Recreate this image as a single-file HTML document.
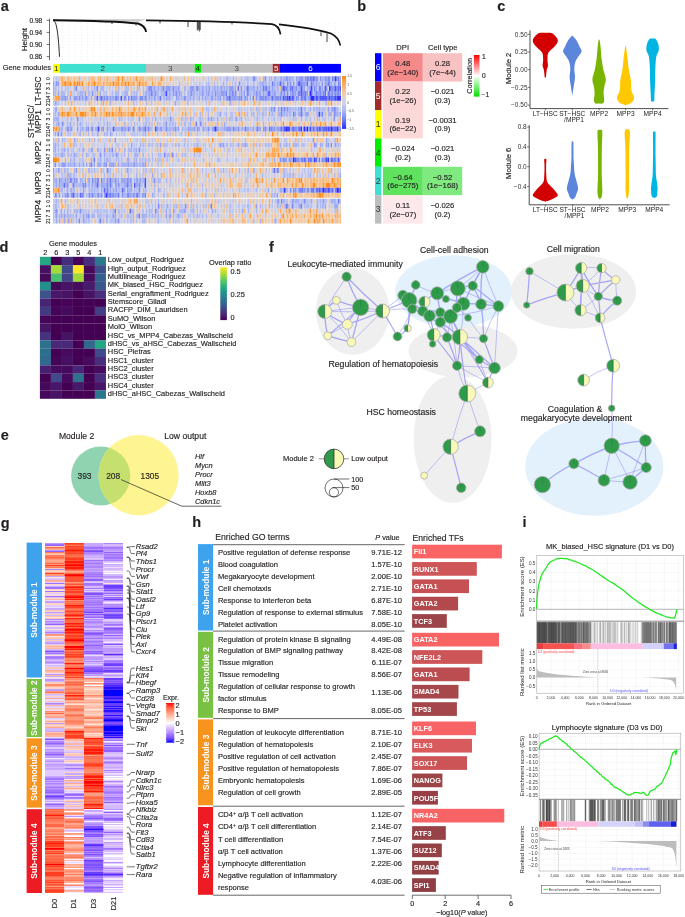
<!DOCTYPE html>
<html><head><meta charset="utf-8"><style>
html,body{margin:0;padding:0;background:#fff;width:685px;height:917px;overflow:hidden}
svg{display:block;font-family:"Liberation Sans",sans-serif;will-change:transform;filter:blur(0.3px)}
text:not([fill]){stroke:#231f20;stroke-width:0.15px}

</style></head><body>
<svg width="685" height="917" viewBox="0 0 685 917" fill="#231f20">
<text x="0.8" y="10.9" font-size="14.5" font-weight="bold">a</text><path d="M49.5 18.6V60.3M46.6 20.3H49.5M46.6 32.4H49.5M46.6 44.5H49.5M46.6 56.6H49.5" stroke="#333" stroke-width="0.7" fill="none"/><text x="42.3" y="22.7" font-size="6.6" text-anchor="end">0.98</text><text x="42.3" y="34.8" font-size="6.6" text-anchor="end">0.94</text><text x="42.3" y="46.9" font-size="6.6" text-anchor="end">0.90</text><text x="42.3" y="59" font-size="6.6" text-anchor="end">0.86</text><text transform="translate(23.8 39.7) rotate(-90)" text-anchor="middle" y="2.8" font-size="8">Height</text><path d="M56.5 23V62M62.7 23V62M68.9 23V62M75.1 23V62M81.3 23V62M87.5 23V62M93.7 23V62M99.9 23V62M106.1 23V62M112.3 23V62M118.5 23V62M124.7 23V62M130.9 23V62M137.1 23V62M143.3 23V62M149.5 23V62M155.7 23V62M161.9 23V62M168.1 23V62M174.3 23V62M180.5 23V62M186.7 23V62M192.9 23V62M199.1 23V62M205.3 23V62M211.5 23V62M217.7 23V62M223.9 23V62M230.1 23V62M236.3 23V62M242.5 23V62M248.7 23V62M254.9 23V62M261.1 23V62M267.3 23V62M273.5 23V62M279.7 23V62M285.9 23V62M292.1 23V62M298.3 23V62M304.5 23V62M310.7 23V62M316.9 23V62M323.1 23V62M329.3 23V62M335.5 23V62" stroke="#c8c8c8" stroke-width="0.5" stroke-dasharray="0.6 2.4" fill="none"/><path d="M53 19.2H146L138 21.8C110 20.8 80 20.2 53 19.9Z" fill="#c8c8c8"/><path d="M53 20.2 C 80 20.5, 120 21.5, 138 23.5 C 143 25, 145.5 28, 146 32" stroke="#111" stroke-width="1.9" fill="none"/><path d="M53 20.2 C 56 21, 58 28, 59.5 56.8" stroke="#111" stroke-width="0.9" fill="none"/><path d="M146 20.4 C 200 21, 250 22.5, 272 24.2 C 277 25, 279.5 28, 280.5 34.4" stroke="#111" stroke-width="1.7" fill="none"/><path d="M279 24.3 C 300 26.5, 318 29.5, 331 33.5 C 336 36, 339.5 40, 340.3 45.5" stroke="#111" stroke-width="1.7" fill="none"/><path d="M188 21.67V27M197.3 21.95V30.5M198.3 21.98V29.5M199.3 22.01V31.5M200.2 22.03V30M321 32.24V36M327 33.37V42M112 22.28V24M136 23.13V25.5M160 20.82V23.5M232 22.99V24.5" stroke="#000" stroke-width="0.75" fill="none"/><text x="51" y="70.4" font-size="7.45" text-anchor="end">Gene modules</text><rect x="53" y="63.9" width="6.6" height="8.8" fill="#ffff00"/><text x="56.3" y="71.2" font-size="8" text-anchor="middle" fill="#222">1</text><rect x="59.6" y="63.9" width="86.4" height="8.8" fill="#40e0d0"/><text x="102.8" y="71.2" font-size="8" text-anchor="middle" fill="#333">2</text><rect x="146" y="63.9" width="48.7" height="8.8" fill="#bebebe"/><text x="170.35" y="71.2" font-size="8" text-anchor="middle" fill="#444">3</text><rect x="194.7" y="63.9" width="6.3" height="8.8" fill="#00ee00"/><text x="197.85" y="71.2" font-size="8" text-anchor="middle" fill="#222">4</text><rect x="201" y="63.9" width="71.7" height="8.8" fill="#bebebe"/><text x="236.85" y="71.2" font-size="8" text-anchor="middle" fill="#444">3</text><rect x="272.7" y="63.9" width="7.3" height="8.8" fill="#a52a2a"/><text x="276.35" y="71.2" font-size="8" text-anchor="middle" fill="#fff">5</text><rect x="280" y="63.9" width="61" height="8.8" fill="#0000ff"/><text x="310.5" y="71.2" font-size="8" text-anchor="middle" fill="#fff">6</text><g fill="none"><path stroke="#c1c7ec" stroke-width="4.93" d="M53 78.67h1.5M192.5 78.67h1.5M207.5 78.67h1.5M210.5 78.67h1.5M215 78.67h1.5M230 78.67h1.5M236 78.67h1.5M243.5 78.67h1.5M249.5 78.67h1.5M258.5 78.67h1.5M266 78.67h1.5M276.5 78.67h1.5M186.5 83.59h1.5M228.5 83.59h1.5M237.5 83.59h1.5M242 83.59h3M267.5 83.59h1.5M332 83.59h1.5M56 88.53h1.5M60.5 88.53h3M66.5 88.53h1.5M86 88.53h1.5M95 88.53h1.5M108.5 88.53h1.5M114.5 88.53h1.5M119 88.53h1.5M131 88.53h1.5M242 88.53h1.5M258.5 88.53h1.5M323 88.53h1.5M66.5 93.46h1.5M83 93.46h1.5M90.5 93.46h1.5M132.5 93.46h1.5M137 93.46h1.5M159.5 93.46h1.5M191 98.39h1.5M195.5 98.39h1.5M299 98.39h1.5M53 103.31h1.5M65 103.31h1.5M74 103.31h1.5M84.5 103.31h1.5M135.5 103.31h1.5M164 103.31h1.5M168.5 103.31h1.5M179 103.31h1.5M188 103.31h1.5M221 103.31h1.5M252.5 103.31h1.5M294.5 103.31h1.5"/><path stroke="#d8d3dc" stroke-width="4.93" d="M54.5 78.67h1.5M111.5 78.67h1.5M158 78.67h1.5M168.5 78.67h1.5M173 78.67h1.5M182 78.67h1.5M194 78.67h1.5M198.5 78.67h3M204.5 78.67h1.5M218 78.67h1.5M251 78.67h1.5M294.5 78.67h1.5M330.5 78.67h1.5M174.5 83.59h3M182 83.59h3M192.5 83.59h1.5M203 83.59h1.5M215 83.59h1.5M218 83.59h1.5M251 83.59h1.5M59 88.53h1.5M78.5 88.53h1.5M113 88.53h1.5M141.5 88.53h1.5M327.5 88.53h1.5M75.5 93.46h1.5M119 93.46h1.5M128 93.46h1.5M237.5 93.46h1.5M245 93.46h1.5M68 98.39h1.5M59 103.31h1.5M75.5 103.31h1.5M86 103.31h1.5M95 103.31h1.5M99.5 103.31h1.5M104 103.31h1.5M107 103.31h1.5M137 103.31h1.5M144.5 103.31h1.5M149 103.31h1.5M152 103.31h1.5M161 103.31h1.5M185 103.31h1.5M194 103.31h1.5M215 103.31h1.5M240.5 103.31h1.5M249.5 103.31h1.5M255.5 103.31h1.5M261.5 103.31h1.5M273.5 103.31h1.5M276.5 103.31h1.5M287 103.31h3M299 103.31h3M305 103.31h3M329 103.31h1.5M335 103.31h1.5M338 103.31h1.5"/><path stroke="#b9c1ee" stroke-width="4.93" d="M56 78.67h1.5M219.5 78.67h1.5M245 78.67h1.5M248 78.67h1.5M255.5 78.67h1.5M278 78.67h1.5M54.5 83.59h1.5M198.5 83.59h1.5M206 83.59h1.5M216.5 83.59h1.5M225.5 83.59h1.5M231.5 83.59h1.5M248 83.59h1.5M254 83.59h1.5M257 83.59h1.5M270.5 83.59h1.5M308 83.59h1.5M57.5 88.53h1.5M65 88.53h1.5M68 88.53h1.5M90.5 88.53h1.5M99.5 88.53h1.5M117.5 88.53h1.5M125 88.53h4.5M155 88.53h3M159.5 88.53h1.5M188 88.53h1.5M194 88.53h1.5M200 88.53h1.5M255.5 88.53h1.5M270.5 88.53h1.5M275 88.53h1.5M312.5 88.53h1.5M68 93.46h1.5M74 93.46h1.5M77 93.46h3M95 93.46h1.5M102.5 93.46h3M122 93.46h1.5M186.5 93.46h1.5M195.5 93.46h1.5M204.5 93.46h1.5M251 93.46h1.5M261.5 93.46h1.5M276.5 93.46h3M285.5 93.46h1.5M296 93.46h1.5M152 98.39h1.5M161 98.39h1.5M171.5 98.39h1.5M182 98.39h1.5M186.5 98.39h1.5M203 98.39h1.5M209 98.39h1.5M213.5 98.39h1.5M57.5 103.31h1.5M101 103.31h1.5M150.5 103.31h1.5M186.5 103.31h1.5M192.5 103.31h1.5M206 103.31h1.5M275 103.31h1.5M311 103.31h1.5M324.5 103.31h1.5"/><path stroke="#caceea" stroke-width="4.93" d="M57.5 78.67h1.5M80 78.67h1.5M87.5 78.67h1.5M174.5 78.67h1.5M191 78.67h1.5M222.5 78.67h3M228.5 78.67h1.5M231.5 78.67h1.5M242 78.67h1.5M267.5 78.67h1.5M191 83.59h1.5M194 83.59h3M200 83.59h3M209 83.59h3M219.5 83.59h1.5M224 83.59h1.5M236 83.59h1.5M249.5 83.59h1.5M320 83.59h1.5M69.5 88.53h1.5M72.5 88.53h1.5M77 88.53h1.5M80 88.53h3M92 88.53h1.5M98 88.53h1.5M105.5 88.53h1.5M111.5 88.53h1.5M123.5 88.53h1.5M134 88.53h1.5M210.5 88.53h1.5M317 88.53h1.5M72.5 93.46h1.5M93.5 93.46h1.5M110 93.46h1.5M120.5 93.46h1.5M138.5 93.46h1.5M288.5 93.46h1.5M119 98.39h1.5M122 98.39h1.5M248 98.39h1.5M60.5 103.31h1.5M80 103.31h1.5M96.5 103.31h1.5M134 103.31h1.5M162.5 103.31h1.5M176 103.31h3M201.5 103.31h1.5M234.5 103.31h1.5M237.5 103.31h1.5M257 103.31h1.5M264.5 103.31h1.5M272 103.31h1.5M281 103.31h3"/><path stroke="#f4c290" stroke-width="4.93" d="M59 78.67h1.5M66.5 78.67h1.5M93.5 78.67h1.5M104 78.67h1.5M114.5 78.67h3M132.5 78.67h1.5M141.5 78.67h1.5M203 78.67h1.5M60.5 83.59h1.5M71 83.59h1.5M104 83.59h1.5M161 83.59h1.5M279.5 88.53h1.5M53 98.39h1.5M68 103.31h1.5M108.5 103.31h1.5M140 103.31h1.5M155 103.31h1.5M158 103.31h1.5M233 103.31h1.5M239 103.31h1.5"/><path stroke="#f6bc82" stroke-width="4.93" d="M60.5 78.67h1.5M74 78.67h1.5M98 78.67h1.5M126.5 78.67h1.5M143 78.67h1.5M159.5 78.67h1.5M183.5 78.67h1.5M216.5 78.67h1.5M80 83.59h1.5M90.5 83.59h1.5M96.5 83.59h1.5M107 83.59h3M126.5 83.59h1.5M129.5 83.59h1.5M134 83.59h1.5M116 88.53h1.5M222.5 103.31h1.5M302 103.31h1.5"/><path stroke="#fba958" stroke-width="4.93" d="M62 78.67h1.5M107 78.67h1.5M170 78.67h1.5M62 83.59h1.5M68 83.59h1.5M87.5 83.59h1.5M110 83.59h1.5M116 83.59h1.5M120.5 83.59h3M141.5 83.59h1.5M144.5 83.59h1.5M102.5 103.31h1.5M132.5 103.31h1.5M318.5 103.31h1.5"/><path stroke="#f0ceac" stroke-width="4.93" d="M63.5 78.67h1.5M72.5 78.67h1.5M77 78.67h1.5M83 78.67h3M113 78.67h1.5M119 78.67h3M162.5 78.67h1.5M171.5 78.67h1.5M260 78.67h1.5M318.5 78.67h1.5M101 83.59h1.5M147.5 83.59h1.5M155 83.59h1.5M162.5 83.59h1.5M221 83.59h1.5M129.5 88.53h1.5M147.5 103.31h1.5M165.5 103.31h1.5M246.5 103.31h1.5M267.5 103.31h1.5M317 103.31h1.5"/><path stroke="#eacfb8" stroke-width="4.93" d="M65 78.67h1.5M69.5 78.67h1.5M96.5 78.67h1.5M108.5 78.67h1.5M128 78.67h1.5M138.5 78.67h1.5M146 78.67h3M164 78.67h1.5M239 78.67h1.5M59 83.59h1.5M167 83.59h3M188 83.59h1.5M230 83.59h1.5M71 88.53h1.5M84.5 88.53h1.5M186.5 88.53h1.5M56 93.46h1.5M86 93.46h1.5M71 98.39h1.5M254 98.39h1.5M98 103.31h1.5M123.5 103.31h1.5M143 103.31h1.5M159.5 103.31h1.5M182 103.31h1.5M203 103.31h1.5M224 103.31h1.5M242 103.31h1.5M278 103.31h1.5M308 103.31h1.5M332 103.31h1.5M336.5 103.31h1.5"/><path stroke="#f8b674" stroke-width="4.93" d="M68 78.67h1.5M129.5 78.67h1.5M137 78.67h1.5M140 78.67h1.5M152 78.67h1.5M72.5 83.59h1.5M75.5 83.59h1.5M89 83.59h1.5M99.5 83.59h1.5M105.5 83.59h1.5M111.5 83.59h1.5M114.5 83.59h1.5M123.5 83.59h1.5M131 83.59h1.5M140 83.59h1.5M146 83.59h1.5M158 83.59h3M83 88.53h1.5M138.5 88.53h1.5M105.5 103.31h1.5M128 103.31h1.5M228.5 103.31h1.5M258.5 103.31h1.5M327.5 103.31h1.5"/><path stroke="#f2c89e" stroke-width="4.93" d="M71 78.67h1.5M89 78.67h3M105.5 78.67h1.5M110 78.67h1.5M123.5 78.67h1.5M134 78.67h1.5M149 78.67h3M155 78.67h1.5M188 78.67h1.5M213.5 78.67h1.5M84.5 83.59h3M119 83.59h1.5M135.5 83.59h1.5M153.5 83.59h1.5M156.5 83.59h1.5M227 83.59h1.5M98 93.46h1.5M140 93.46h1.5M89 98.39h1.5M114.5 103.31h1.5M183.5 103.31h1.5M207.5 103.31h1.5M285.5 103.31h1.5M290 103.31h1.5M312.5 103.31h1.5"/><path stroke="#e4d0c4" stroke-width="4.93" d="M75.5 78.67h1.5M81.5 78.67h1.5M86 78.67h1.5M131 78.67h1.5M144.5 78.67h1.5M153.5 78.67h1.5M165.5 78.67h1.5M185 78.67h1.5M189.5 78.67h1.5M212 78.67h1.5M237.5 78.67h1.5M261.5 78.67h1.5M83 83.59h1.5M165.5 83.59h1.5M171.5 83.59h1.5M212 83.59h1.5M323 83.59h1.5M336.5 83.59h1.5M89 88.53h1.5M122 88.53h1.5M132.5 88.53h1.5M135.5 88.53h1.5M236 88.53h1.5M59 93.46h1.5M107 93.46h1.5M92 98.39h1.5M72.5 103.31h1.5M90.5 103.31h1.5M93.5 103.31h1.5M126.5 103.31h1.5M171.5 103.31h3M180.5 103.31h1.5M189.5 103.31h1.5M200 103.31h1.5M210.5 103.31h1.5M213.5 103.31h1.5M216.5 103.31h1.5M236 103.31h1.5M248 103.31h1.5M260 103.31h1.5M279.5 103.31h1.5M291.5 103.31h1.5M297.5 103.31h1.5M339.5 103.31h1.5"/><path stroke="#fab066" stroke-width="4.93" d="M78.5 78.67h1.5M92 78.67h1.5M99.5 78.67h1.5M66.5 83.59h1.5M92 83.59h1.5M95 83.59h1.5M98 83.59h1.5M102.5 83.59h1.5M137 83.59h1.5M143 83.59h1.5M179 83.59h1.5M143 88.53h1.5M69.5 93.46h1.5M54.5 98.39h1.5M71 103.31h1.5M89 103.31h1.5M243.5 103.31h1.5M254 103.31h1.5"/><path stroke="#ded2d0" stroke-width="4.93" d="M95 78.67h1.5M101 78.67h3M125 78.67h1.5M156.5 78.67h1.5M167 78.67h1.5M176 78.67h4.5M195.5 78.67h3M201.5 78.67h1.5M234.5 78.67h1.5M150.5 83.59h1.5M164 83.59h1.5M173 83.59h1.5M180.5 83.59h1.5M185 83.59h1.5M189.5 83.59h1.5M197 83.59h1.5M240.5 83.59h1.5M294.5 83.59h1.5M107 88.53h1.5M182 88.53h1.5M239 88.53h1.5M305 88.53h1.5M108.5 93.46h1.5M129.5 93.46h1.5M185 93.46h1.5M308 93.46h1.5M221 98.39h1.5M63.5 103.31h1.5M69.5 103.31h1.5M77 103.31h3M83 103.31h1.5M87.5 103.31h1.5M92 103.31h1.5M111.5 103.31h3M117.5 103.31h1.5M129.5 103.31h1.5M138.5 103.31h1.5M141.5 103.31h1.5M153.5 103.31h1.5M167 103.31h1.5M195.5 103.31h3M225.5 103.31h1.5M231.5 103.31h1.5M245 103.31h1.5M251 103.31h1.5M270.5 103.31h1.5M284 103.31h1.5M293 103.31h1.5M303.5 103.31h1.5M314 103.31h1.5M321.5 103.31h1.5"/><path stroke="#ff8c1e" stroke-width="4.93" d="M117.5 78.67h1.5M122 78.67h1.5M161 78.67h1.5M65 83.59h1.5M69.5 83.59h1.5M74 83.59h1.5M77 83.59h1.5M81.5 83.59h1.5M93.5 83.59h1.5M113 83.59h1.5M125 83.59h1.5M138.5 83.59h1.5"/><path stroke="#fd9a3b" stroke-width="4.93" d="M135.5 78.67h1.5M63.5 83.59h1.5M57.5 98.39h1.5M330.5 103.31h1.5"/><path stroke="#d2d4e8" stroke-width="4.93" d="M180.5 78.67h1.5M186.5 78.67h1.5M206 78.67h1.5M209 78.67h1.5M221 78.67h1.5M257 78.67h1.5M272 78.67h1.5M149 83.59h1.5M170 83.59h1.5M177.5 83.59h1.5M204.5 83.59h1.5M233 83.59h1.5M245 83.59h1.5M255.5 83.59h1.5M285.5 83.59h1.5M291.5 83.59h1.5M63.5 88.53h1.5M104 88.53h1.5M110 88.53h1.5M120.5 88.53h1.5M140 88.53h1.5M144.5 88.53h1.5M180.5 88.53h1.5M65 93.46h1.5M101 93.46h1.5M113 93.46h1.5M141.5 93.46h1.5M182 93.46h1.5M227 93.46h1.5M326 93.46h1.5M126.5 98.39h1.5M173 98.39h3M200 98.39h1.5M251 98.39h1.5M62 103.31h1.5M66.5 103.31h1.5M81.5 103.31h1.5M116 103.31h1.5M119 103.31h4.5M125 103.31h1.5M131 103.31h1.5M156.5 103.31h1.5M170 103.31h1.5M191 103.31h1.5M198.5 103.31h1.5M204.5 103.31h1.5M212 103.31h1.5M218 103.31h3M227 103.31h1.5M263 103.31h1.5M266 103.31h1.5M269 103.31h1.5M296 103.31h1.5M315.5 103.31h1.5M320 103.31h1.5M323 103.31h1.5M333.5 103.31h1.5"/><path stroke="#b0baf0" stroke-width="4.93" d="M225.5 78.67h1.5M233 78.67h1.5M240.5 78.67h1.5M269 78.67h1.5M282.5 78.67h1.5M293 78.67h1.5M303.5 78.67h1.5M207.5 83.59h1.5M213.5 83.59h1.5M234.5 83.59h1.5M246.5 83.59h1.5M252.5 83.59h1.5M258.5 83.59h1.5M266 83.59h1.5M269 83.59h1.5M275 83.59h1.5M278 83.59h1.5M288.5 83.59h1.5M317 83.59h3M54.5 88.53h1.5M74 88.53h1.5M87.5 88.53h1.5M101 88.53h3M146 88.53h1.5M152 88.53h1.5M164 88.53h1.5M179 88.53h1.5M183.5 88.53h1.5M204.5 88.53h1.5M218 88.53h1.5M222.5 88.53h1.5M243.5 88.53h3M249.5 88.53h1.5M278 88.53h1.5M54.5 93.46h1.5M62 93.46h3M71 93.46h1.5M87.5 93.46h3M96.5 93.46h1.5M105.5 93.46h1.5M111.5 93.46h1.5M114.5 93.46h4.5M123.5 93.46h1.5M131 93.46h1.5M134 93.46h1.5M143 93.46h1.5M156.5 93.46h3M161 93.46h3M171.5 93.46h1.5M177.5 93.46h1.5M183.5 93.46h1.5M197 93.46h1.5M200 93.46h1.5M210.5 93.46h1.5M213.5 93.46h1.5M242 93.46h1.5M249.5 93.46h1.5M264.5 93.46h1.5M270.5 93.46h1.5M312.5 93.46h1.5M72.5 98.39h1.5M83 98.39h1.5M87.5 98.39h1.5M93.5 98.39h1.5M98 98.39h1.5M129.5 98.39h1.5M137 98.39h1.5M143 98.39h1.5M147.5 98.39h1.5M156.5 98.39h1.5M162.5 98.39h3M170 98.39h1.5M179 98.39h1.5M194 98.39h1.5M197 98.39h1.5M206 98.39h3M224 98.39h1.5M242 98.39h1.5M257 98.39h1.5M294.5 98.39h1.5M306.5 98.39h1.5M56 103.31h1.5M146 103.31h1.5M209 103.31h1.5M326 103.31h1.5"/><path stroke="#a8b4f2" stroke-width="4.93" d="M227 78.67h1.5M246.5 78.67h1.5M263 78.67h1.5M270.5 78.67h1.5M273.5 78.67h1.5M279.5 78.67h1.5M291.5 78.67h1.5M297.5 78.67h1.5M321.5 78.67h3M222.5 83.59h1.5M260 83.59h1.5M264.5 83.59h1.5M284 83.59h1.5M296 83.59h1.5M309.5 83.59h1.5M314 83.59h1.5M53 88.53h1.5M93.5 88.53h1.5M137 88.53h1.5M161 88.53h1.5M170 88.53h1.5M174.5 88.53h3M185 88.53h1.5M198.5 88.53h1.5M203 88.53h1.5M207.5 88.53h1.5M212 88.53h1.5M215 88.53h1.5M219.5 88.53h1.5M225.5 88.53h3M233 88.53h1.5M251 88.53h3M261.5 88.53h1.5M267.5 88.53h1.5M273.5 88.53h1.5M276.5 88.53h1.5M297.5 88.53h1.5M306.5 88.53h3M60.5 93.46h1.5M80 93.46h3M125 93.46h3M135.5 93.46h1.5M144.5 93.46h1.5M147.5 93.46h1.5M153.5 93.46h1.5M167 93.46h1.5M170 93.46h1.5M180.5 93.46h1.5M188 93.46h1.5M192.5 93.46h3M198.5 93.46h1.5M209 93.46h1.5M216.5 93.46h4.5M236 93.46h1.5M239 93.46h1.5M252.5 93.46h3M266 93.46h1.5M59 98.39h1.5M77 98.39h1.5M80 98.39h1.5M95 98.39h1.5M108.5 98.39h1.5M138.5 98.39h1.5M150.5 98.39h1.5M155 98.39h1.5M158 98.39h1.5M167 98.39h3M180.5 98.39h1.5M188 98.39h1.5M216.5 98.39h1.5M281 98.39h1.5M110 103.31h1.5"/><path stroke="#8592f4" stroke-width="4.93" d="M252.5 78.67h3M264.5 78.67h1.5M285.5 78.67h1.5M302 78.67h1.5M305 78.67h1.5M308 78.67h1.5M315.5 78.67h1.5M320 78.67h1.5M324.5 78.67h1.5M329 78.67h1.5M333.5 78.67h1.5M56 83.59h1.5M239 83.59h1.5M290 83.59h1.5M293 83.59h1.5M321.5 83.59h1.5M329 83.59h1.5M149 88.53h3M173 88.53h1.5M240.5 88.53h1.5M248 88.53h1.5M264.5 88.53h1.5M296 88.53h1.5M302 88.53h1.5M320 88.53h1.5M326 88.53h1.5M332 88.53h1.5M92 93.46h1.5M155 93.46h1.5M176 93.46h1.5M191 93.46h1.5M215 93.46h1.5M234.5 93.46h1.5M255.5 93.46h1.5M281 93.46h1.5M284 93.46h1.5M291.5 93.46h3M302 93.46h3M332 93.46h1.5M336.5 93.46h1.5M339.5 93.46h1.5M65 98.39h1.5M78.5 98.39h1.5M86 98.39h1.5M99.5 98.39h1.5M104 98.39h1.5M107 98.39h1.5M114.5 98.39h1.5M123.5 98.39h3M140 98.39h3M183.5 98.39h1.5M219.5 98.39h1.5M239 98.39h1.5M245 98.39h1.5M255.5 98.39h1.5M260 98.39h4.5M266 98.39h1.5M270.5 98.39h1.5M275 98.39h4.5M297.5 98.39h1.5"/><path stroke="#9ca9f3" stroke-width="4.93" d="M275 78.67h1.5M281 78.67h1.5M284 78.67h1.5M288.5 78.67h3M339.5 78.67h1.5M53 83.59h1.5M261.5 83.59h3M273.5 83.59h1.5M276.5 83.59h1.5M281 83.59h1.5M305 83.59h1.5M326 83.59h1.5M330.5 83.59h1.5M333.5 83.59h3M158 88.53h1.5M171.5 88.53h1.5M189.5 88.53h1.5M206 88.53h1.5M213.5 88.53h1.5M216.5 88.53h1.5M224 88.53h1.5M228.5 88.53h1.5M234.5 88.53h1.5M254 88.53h1.5M260 88.53h1.5M288.5 88.53h1.5M293 88.53h3M299 88.53h1.5M321.5 88.53h1.5M53 93.46h1.5M57.5 93.46h1.5M99.5 93.46h1.5M146 93.46h1.5M149 93.46h1.5M164 93.46h1.5M168.5 93.46h1.5M174.5 93.46h1.5M189.5 93.46h1.5M203 93.46h1.5M206 93.46h1.5M212 93.46h1.5M224 93.46h1.5M230 93.46h1.5M240.5 93.46h1.5M257 93.46h1.5M260 93.46h1.5M272 93.46h1.5M275 93.46h1.5M279.5 93.46h1.5M282.5 93.46h1.5M314 93.46h1.5M321.5 93.46h1.5M60.5 98.39h4.5M66.5 98.39h1.5M90.5 98.39h1.5M102.5 98.39h1.5M111.5 98.39h3M146 98.39h1.5M149 98.39h1.5M165.5 98.39h1.5M177.5 98.39h1.5M189.5 98.39h1.5M192.5 98.39h1.5M198.5 98.39h1.5M201.5 98.39h1.5M204.5 98.39h1.5M215 98.39h1.5M218 98.39h1.5M222.5 98.39h1.5M236 98.39h3M243.5 98.39h1.5M249.5 98.39h1.5M269 98.39h1.5M273.5 98.39h1.5M54.5 103.31h1.5M174.5 103.31h1.5M230 103.31h1.5"/><path stroke="#919ef4" stroke-width="4.93" d="M287 78.67h1.5M296 78.67h1.5M299 78.67h3M317 78.67h1.5M326 78.67h1.5M336.5 78.67h1.5M57.5 83.59h1.5M282.5 83.59h1.5M302 83.59h3M312.5 83.59h1.5M315.5 83.59h1.5M324.5 83.59h1.5M339.5 83.59h1.5M147.5 88.53h1.5M153.5 88.53h1.5M165.5 88.53h4.5M177.5 88.53h1.5M191 88.53h3M195.5 88.53h1.5M201.5 88.53h1.5M209 88.53h1.5M221 88.53h1.5M230 88.53h3M257 88.53h1.5M269 88.53h1.5M272 88.53h1.5M281 88.53h1.5M287 88.53h1.5M303.5 88.53h1.5M315.5 88.53h1.5M84.5 93.46h1.5M152 93.46h1.5M173 93.46h1.5M179 93.46h1.5M201.5 93.46h1.5M207.5 93.46h1.5M221 93.46h3M228.5 93.46h1.5M233 93.46h1.5M243.5 93.46h1.5M248 93.46h1.5M258.5 93.46h1.5M263 93.46h1.5M273.5 93.46h1.5M290 93.46h1.5M294.5 93.46h1.5M306.5 93.46h1.5M317 93.46h3M330.5 93.46h1.5M333.5 93.46h1.5M69.5 98.39h1.5M74 98.39h3M81.5 98.39h1.5M84.5 98.39h1.5M105.5 98.39h1.5M110 98.39h1.5M117.5 98.39h1.5M132.5 98.39h4.5M153.5 98.39h1.5M176 98.39h1.5M185 98.39h1.5M210.5 98.39h3M225.5 98.39h1.5M231.5 98.39h4.5M246.5 98.39h1.5M258.5 98.39h1.5M267.5 98.39h1.5M308 98.39h1.5"/><path stroke="#6e7cf6" stroke-width="4.93" d="M306.5 78.67h1.5M309.5 78.67h1.5M332 78.67h1.5M272 83.59h1.5M311 83.59h1.5M327.5 83.59h1.5M338 83.59h1.5M246.5 88.53h1.5M263 88.53h1.5M266 88.53h1.5M290 88.53h1.5M333.5 88.53h1.5M338 88.53h1.5M225.5 93.46h1.5M305 93.46h1.5M315.5 93.46h1.5M327.5 93.46h1.5M116 98.39h1.5M131 98.39h1.5M159.5 98.39h1.5M252.5 98.39h1.5M279.5 98.39h1.5M284 98.39h3M300.5 98.39h1.5M303.5 98.39h3M314 98.39h1.5M318.5 98.39h1.5M327.5 98.39h1.5"/><path stroke="#7a87f5" stroke-width="4.93" d="M311 78.67h1.5M314 78.67h1.5M327.5 78.67h1.5M338 78.67h1.5M287 83.59h1.5M300.5 83.59h1.5M75.5 88.53h1.5M96.5 88.53h1.5M162.5 88.53h1.5M197 88.53h1.5M285.5 88.53h1.5M309.5 88.53h1.5M314 88.53h1.5M318.5 88.53h1.5M330.5 88.53h1.5M336.5 88.53h1.5M150.5 93.46h1.5M231.5 93.46h1.5M246.5 93.46h1.5M287 93.46h1.5M297.5 93.46h3M320 93.46h1.5M323 93.46h1.5M329 93.46h1.5M335 93.46h1.5M338 93.46h1.5M128 98.39h1.5M144.5 98.39h1.5M227 98.39h1.5M230 98.39h1.5M240.5 98.39h1.5M264.5 98.39h1.5M296 98.39h1.5M302 98.39h1.5"/><path stroke="#606bf8" stroke-width="4.93" d="M312.5 78.67h1.5M279.5 83.59h1.5M297.5 83.59h1.5M306.5 83.59h1.5M237.5 88.53h1.5M284 88.53h1.5M291.5 88.53h1.5M267.5 93.46h3M311 93.46h1.5M324.5 93.46h1.5M101 98.39h1.5M228.5 98.39h1.5M272 98.39h1.5M290 98.39h1.5M293 98.39h1.5M309.5 98.39h1.5M330.5 98.39h3"/><path stroke="#3639fd" stroke-width="4.93" d="M335 78.67h1.5M329 88.53h1.5M288.5 98.39h1.5M336.5 98.39h4.5"/><path stroke="#fe932c" stroke-width="4.93" d="M78.5 83.59h1.5M117.5 83.59h1.5M128 83.59h1.5"/><path stroke="#fca249" stroke-width="4.93" d="M132.5 83.59h1.5M152 83.59h1.5M56 98.39h1.5M309.5 103.31h1.5"/><path stroke="#525afa" stroke-width="4.93" d="M299 83.59h1.5M282.5 88.53h1.5M300.5 88.53h1.5M324.5 88.53h1.5M335 88.53h1.5M339.5 88.53h1.5M300.5 93.46h1.5M96.5 98.39h1.5M282.5 98.39h1.5M291.5 98.39h1.5M317 98.39h1.5M320 98.39h7.5M333.5 98.39h1.5"/><path stroke="#444afb" stroke-width="4.93" d="M311 88.53h1.5M165.5 93.46h1.5M120.5 98.39h1.5M287 98.39h1.5M315.5 98.39h1.5M329 98.39h1.5M335 98.39h1.5"/><path stroke="#2828ff" stroke-width="4.93" d="M309.5 93.46h1.5M311 98.39h3"/></g><g fill="none"><path stroke="#caceea" stroke-width="4.93" d="M53 109.27h1.5M155 109.27h1.5M173 109.27h1.5M177.5 109.27h1.5M194 109.27h1.5M212 109.27h1.5M218 109.27h1.5M221 109.27h1.5M245 109.27h1.5M267.5 109.27h1.5M56 114.19h1.5M174.5 114.19h1.5M188 114.19h1.5M198.5 114.19h1.5M204.5 114.19h1.5M215 114.19h1.5M221 114.19h1.5M248 114.19h1.5M260 114.19h1.5M275 114.19h1.5M291.5 114.19h1.5M296 114.19h1.5M311 114.19h1.5M323 114.19h1.5M62 119.12h3M72.5 119.12h1.5M87.5 119.12h1.5M93.5 119.12h4.5M105.5 119.12h3M116 119.12h1.5M123.5 119.12h3M129.5 119.12h1.5M156.5 119.12h3M161 119.12h1.5M195.5 119.12h1.5M233 119.12h1.5M242 119.12h1.5M246.5 119.12h1.5M272 119.12h1.5M278 119.12h1.5M290 119.12h1.5M302 119.12h1.5M336.5 119.12h3M54.5 124.06h1.5M63.5 124.06h1.5M92 124.06h3M96.5 124.06h1.5M105.5 124.06h1.5M126.5 124.06h1.5M129.5 124.06h1.5M135.5 124.06h1.5M138.5 124.06h3M167 124.06h1.5M206 124.06h1.5M210.5 124.06h1.5M222.5 124.06h1.5M236 124.06h1.5M254 124.06h1.5M258.5 124.06h1.5M75.5 128.98h1.5M89 128.98h1.5M153.5 128.98h1.5M210.5 128.98h1.5M254 128.98h1.5M56 133.91h1.5M59 133.91h1.5M66.5 133.91h1.5M119 133.91h1.5M122 133.91h1.5M125 133.91h1.5M129.5 133.91h1.5M135.5 133.91h1.5M138.5 133.91h4.5M146 133.91h1.5M168.5 133.91h1.5M176 133.91h1.5M179 133.91h1.5M200 133.91h1.5M212 133.91h1.5M261.5 133.91h1.5"/><path stroke="#a8b4f2" stroke-width="4.93" d="M54.5 109.27h1.5M206 109.27h1.5M255.5 109.27h1.5M272 109.27h1.5M282.5 109.27h1.5M285.5 109.27h1.5M290 109.27h1.5M294.5 109.27h1.5M303.5 109.27h1.5M312.5 109.27h1.5M315.5 109.27h3M330.5 109.27h1.5M336.5 109.27h1.5M54.5 114.19h1.5M225.5 114.19h1.5M252.5 114.19h1.5M257 114.19h1.5M263 114.19h1.5M272 114.19h1.5M278 114.19h3M287 114.19h1.5M290 114.19h1.5M297.5 114.19h1.5M320 114.19h1.5M327.5 114.19h4.5M56 119.12h3M99.5 119.12h1.5M119 119.12h1.5M180.5 119.12h1.5M200 119.12h1.5M228.5 119.12h1.5M273.5 119.12h1.5M300.5 119.12h1.5M171.5 124.06h1.5M185 124.06h1.5M189.5 124.06h1.5M263 124.06h1.5M60.5 128.98h3M80 128.98h1.5M83 128.98h1.5M116 128.98h4.5M126.5 128.98h1.5M141.5 128.98h1.5M150.5 128.98h1.5M158 128.98h1.5M167 128.98h1.5M176 128.98h1.5M191 128.98h3M209 128.98h1.5M231.5 128.98h1.5M236 128.98h1.5M240.5 128.98h1.5M243.5 128.98h1.5M266 128.98h1.5M275 128.98h1.5M80 133.91h1.5M104 133.91h1.5M144.5 133.91h1.5"/><path stroke="#9ca9f3" stroke-width="4.93" d="M56 109.27h1.5M297.5 109.27h1.5M309.5 109.27h1.5M318.5 109.27h1.5M57.5 114.19h1.5M239 114.19h1.5M269 114.19h1.5M284 114.19h1.5M294.5 114.19h1.5M299 114.19h1.5M302 114.19h1.5M305 114.19h4.5M336.5 114.19h1.5M155 119.12h1.5M189.5 119.12h1.5M216.5 119.12h1.5M240.5 119.12h1.5M69.5 124.06h1.5M77 124.06h1.5M80 124.06h1.5M107 124.06h1.5M224 124.06h1.5M59 128.98h1.5M69.5 128.98h1.5M81.5 128.98h1.5M95 128.98h1.5M111.5 128.98h1.5M123.5 128.98h1.5M129.5 128.98h1.5M134 128.98h1.5M149 128.98h1.5M168.5 128.98h1.5M173 128.98h1.5M182 128.98h1.5M189.5 128.98h1.5M198.5 128.98h1.5M216.5 128.98h3M224 128.98h3M234.5 128.98h1.5M242 128.98h1.5M246.5 128.98h3M258.5 128.98h3M290 128.98h1.5M54.5 133.91h1.5M96.5 133.91h1.5"/><path stroke="#eacfb8" stroke-width="4.93" d="M57.5 109.27h4.5M65 109.27h1.5M71 109.27h1.5M75.5 109.27h1.5M113 109.27h1.5M122 109.27h1.5M129.5 109.27h3M137 109.27h1.5M152 109.27h1.5M168.5 109.27h1.5M254 109.27h1.5M276.5 109.27h1.5M164 114.19h1.5M179 114.19h1.5M186.5 114.19h1.5M191 114.19h1.5M309.5 114.19h1.5M326 114.19h1.5M78.5 119.12h1.5M150.5 119.12h1.5M176 119.12h1.5M179 119.12h1.5M65 124.06h1.5M89 124.06h1.5M155 124.06h1.5M182 124.06h1.5M249.5 124.06h1.5M293 124.06h1.5M296 124.06h1.5M305 124.06h1.5M314 124.06h1.5M179 128.98h1.5M71 133.91h1.5M81.5 133.91h1.5M86 133.91h1.5M252.5 133.91h1.5M275 133.91h1.5M287 133.91h3M309.5 133.91h1.5M320 133.91h3M338 133.91h1.5"/><path stroke="#fab066" stroke-width="4.93" d="M62 109.27h1.5M99.5 109.27h1.5M111.5 109.27h1.5M132.5 109.27h1.5M162.5 109.27h1.5M201.5 109.27h1.5M213.5 109.27h1.5M59 114.19h1.5M69.5 114.19h1.5M101 114.19h1.5M114.5 114.19h1.5M119 114.19h1.5M129.5 114.19h1.5M243.5 114.19h1.5M269 124.06h1.5M275 124.06h1.5M288.5 124.06h1.5M315.5 124.06h1.5M338 124.06h1.5M54.5 128.98h1.5M218 133.91h1.5M264.5 133.91h1.5"/><path stroke="#ded2d0" stroke-width="4.93" d="M63.5 109.27h1.5M101 109.27h1.5M108.5 109.27h1.5M158 109.27h1.5M170 109.27h1.5M219.5 109.27h1.5M222.5 109.27h1.5M242 109.27h1.5M306.5 109.27h1.5M326 109.27h1.5M156.5 114.19h1.5M161 114.19h1.5M183.5 114.19h1.5M206 114.19h1.5M255.5 114.19h1.5M314 114.19h1.5M332 114.19h1.5M135.5 119.12h1.5M219.5 119.12h1.5M249.5 119.12h1.5M269 119.12h1.5M312.5 119.12h1.5M329 119.12h1.5M161 124.06h1.5M243.5 124.06h1.5M252.5 124.06h1.5M261.5 124.06h1.5M264.5 124.06h1.5M272 124.06h3M287 124.06h1.5M327.5 124.06h1.5M333.5 124.06h3M72.5 128.98h1.5M104 128.98h1.5M131 128.98h1.5M261.5 128.98h1.5M101 133.91h3M194 133.91h3M201.5 133.91h1.5M206 133.91h1.5M216.5 133.91h1.5M224 133.91h1.5M231.5 133.91h1.5M234.5 133.91h3M251 133.91h1.5M260 133.91h1.5M266 133.91h1.5M270.5 133.91h1.5M279.5 133.91h1.5M306.5 133.91h1.5M327.5 133.91h1.5M333.5 133.91h1.5"/><path stroke="#d2d4e8" stroke-width="4.93" d="M66.5 109.27h1.5M77 109.27h1.5M96.5 109.27h1.5M126.5 109.27h1.5M174.5 109.27h1.5M191 109.27h3M198.5 109.27h1.5M224 109.27h1.5M230 109.27h3M234.5 109.27h3M248 109.27h1.5M311 109.27h1.5M339.5 109.27h1.5M152 114.19h1.5M173 114.19h1.5M176 114.19h1.5M192.5 114.19h1.5M197 114.19h1.5M203 114.19h1.5M210.5 114.19h1.5M213.5 114.19h1.5M222.5 114.19h1.5M227 114.19h1.5M233 114.19h1.5M59 119.12h3M65 119.12h1.5M74 119.12h3M86 119.12h1.5M89 119.12h1.5M92 119.12h1.5M110 119.12h3M134 119.12h1.5M137 119.12h1.5M141.5 119.12h1.5M153.5 119.12h1.5M197 119.12h1.5M237.5 119.12h1.5M251 119.12h1.5M260 119.12h1.5M282.5 119.12h1.5M285.5 119.12h1.5M303.5 119.12h1.5M308 119.12h1.5M311 119.12h1.5M320 119.12h1.5M335 119.12h1.5M95 124.06h1.5M111.5 124.06h1.5M117.5 124.06h1.5M120.5 124.06h1.5M132.5 124.06h1.5M176 124.06h1.5M186.5 124.06h1.5M230 124.06h4.5M251 124.06h1.5M300.5 124.06h1.5M306.5 124.06h1.5M74 128.98h1.5M93.5 128.98h1.5M180.5 128.98h1.5M200 128.98h1.5M95 133.91h1.5M108.5 133.91h1.5M114.5 133.91h1.5M117.5 133.91h1.5M150.5 133.91h1.5M158 133.91h3M177.5 133.91h1.5M182 133.91h1.5M192.5 133.91h1.5M198.5 133.91h1.5M203 133.91h1.5M209 133.91h1.5M269 133.91h1.5M294.5 133.91h1.5M305 133.91h1.5"/><path stroke="#d8d3dc" stroke-width="4.93" d="M68 109.27h1.5M80 109.27h1.5M98 109.27h1.5M143 109.27h1.5M147.5 109.27h1.5M159.5 109.27h1.5M165.5 109.27h1.5M180.5 109.27h1.5M186.5 109.27h1.5M204.5 109.27h1.5M209 109.27h1.5M227 109.27h1.5M158 114.19h1.5M180.5 114.19h1.5M228.5 114.19h1.5M249.5 114.19h1.5M68 119.12h1.5M83 119.12h3M108.5 119.12h1.5M117.5 119.12h1.5M126.5 119.12h1.5M194 119.12h1.5M206 119.12h1.5M215 119.12h1.5M243.5 119.12h1.5M264.5 119.12h3M275 119.12h1.5M284 119.12h1.5M287 119.12h1.5M299 119.12h1.5M326 119.12h1.5M332 119.12h1.5M75.5 124.06h1.5M83 124.06h3M101 124.06h1.5M113 124.06h1.5M141.5 124.06h1.5M197 124.06h1.5M219.5 124.06h1.5M227 124.06h1.5M245 124.06h4.5M266 124.06h1.5M63.5 128.98h1.5M78.5 128.98h1.5M99.5 128.98h1.5M135.5 128.98h1.5M113 133.91h1.5M126.5 133.91h1.5M155 133.91h1.5M165.5 133.91h1.5M183.5 133.91h1.5M204.5 133.91h1.5M210.5 133.91h1.5M213.5 133.91h3M225.5 133.91h3M240.5 133.91h1.5M255.5 133.91h1.5M263 133.91h1.5M278 133.91h1.5M284 133.91h1.5"/><path stroke="#fba958" stroke-width="4.93" d="M69.5 109.27h1.5M156.5 109.27h1.5M164 109.27h1.5M171.5 109.27h1.5M60.5 114.19h1.5M63.5 114.19h1.5M92 114.19h1.5M107 114.19h1.5M113 114.19h1.5M128 114.19h1.5M135.5 114.19h1.5M153.5 114.19h1.5M182 114.19h1.5M339.5 119.12h1.5M311 124.06h1.5M282.5 133.91h1.5M293 133.91h1.5M326 133.91h1.5"/><path stroke="#f0ceac" stroke-width="4.93" d="M72.5 109.27h1.5M84.5 109.27h1.5M89 109.27h1.5M105.5 109.27h1.5M123.5 109.27h3M135.5 109.27h1.5M149 109.27h1.5M182 109.27h3M200 109.27h1.5M89 114.19h1.5M146 114.19h1.5M149 114.19h1.5M168.5 114.19h1.5M267.5 114.19h1.5M140 119.12h1.5M188 119.12h1.5M224 119.12h1.5M252.5 119.12h1.5M281 119.12h1.5M315.5 119.12h1.5M122 124.06h1.5M194 124.06h1.5M207.5 124.06h1.5M213.5 124.06h1.5M234.5 124.06h1.5M267.5 124.06h1.5M279.5 124.06h1.5M285.5 124.06h1.5M294.5 124.06h1.5M302 124.06h1.5M317 124.06h3M326 124.06h1.5M329 124.06h1.5M332 124.06h1.5M63.5 133.91h1.5M77 133.91h1.5M90.5 133.91h1.5M128 133.91h1.5M153.5 133.91h1.5M161 133.91h1.5M239 133.91h1.5M242 133.91h1.5M249.5 133.91h1.5M258.5 133.91h1.5M273.5 133.91h1.5M290 133.91h1.5M297.5 133.91h1.5M308 133.91h1.5M312.5 133.91h1.5M315.5 133.91h1.5M318.5 133.91h1.5M329 133.91h1.5M335 133.91h1.5"/><path stroke="#fe932c" stroke-width="4.93" d="M74 109.27h1.5M90.5 109.27h1.5M83 114.19h1.5M282.5 124.06h1.5M56 128.98h1.5M302 133.91h1.5M323 133.91h1.5M330.5 133.91h1.5"/><path stroke="#f6bc82" stroke-width="4.93" d="M78.5 109.27h1.5M116 109.27h1.5M120.5 109.27h1.5M128 109.27h1.5M161 109.27h1.5M71 114.19h1.5M78.5 114.19h1.5M116 114.19h1.5M126.5 114.19h1.5M137 114.19h4.5M195.5 114.19h1.5M201.5 114.19h1.5M237.5 114.19h1.5M113 119.12h1.5M144.5 119.12h1.5M72.5 124.06h1.5M131 124.06h1.5M209 124.06h1.5M147.5 133.91h1.5M191 133.91h1.5M221 133.91h1.5M246.5 133.91h1.5M291.5 133.91h1.5M339.5 133.91h1.5"/><path stroke="#e4d0c4" stroke-width="4.93" d="M81.5 109.27h1.5M87.5 109.27h1.5M95 109.27h1.5M110 109.27h1.5M146 109.27h1.5M150.5 109.27h1.5M153.5 109.27h1.5M176 109.27h1.5M188 109.27h1.5M195.5 109.27h3M228.5 109.27h1.5M98 114.19h1.5M162.5 114.19h1.5M165.5 114.19h1.5M171.5 114.19h1.5M177.5 114.19h1.5M209 114.19h1.5M98 119.12h1.5M101 119.12h1.5M174.5 119.12h1.5M297.5 119.12h1.5M237.5 124.06h1.5M260 124.06h1.5M270.5 124.06h1.5M276.5 124.06h3M284 124.06h1.5M336.5 124.06h1.5M89 133.91h1.5M99.5 133.91h1.5M228.5 133.91h1.5M243.5 133.91h3M257 133.91h1.5M281 133.91h1.5M324.5 133.91h1.5M336.5 133.91h1.5"/><path stroke="#f2c89e" stroke-width="4.93" d="M83 109.27h1.5M86 109.27h1.5M107 109.27h1.5M114.5 109.27h1.5M140 109.27h1.5M233 109.27h1.5M260 109.27h1.5M74 114.19h1.5M77 114.19h1.5M96.5 114.19h1.5M110 114.19h1.5M150.5 114.19h1.5M212 114.19h1.5M236 114.19h1.5M114.5 119.12h1.5M177.5 119.12h1.5M203 119.12h1.5M227 119.12h1.5M119 124.06h1.5M177.5 124.06h1.5M191 124.06h3M228.5 124.06h1.5M255.5 124.06h1.5M297.5 124.06h1.5M321.5 124.06h3M162.5 133.91h1.5M171.5 133.91h3M186.5 133.91h1.5M233 133.91h1.5M237.5 133.91h1.5M267.5 133.91h1.5M285.5 133.91h1.5M303.5 133.91h1.5M332 133.91h1.5"/><path stroke="#fd9a3b" stroke-width="4.93" d="M92 109.27h1.5M134 109.27h1.5M144.5 109.27h1.5M290 124.06h1.5M320 124.06h1.5M324.5 124.06h1.5M317 133.91h1.5"/><path stroke="#ff8c1e" stroke-width="4.93" d="M93.5 109.27h1.5M119 109.27h1.5M62 114.19h1.5M66.5 114.19h3M75.5 114.19h1.5M80 114.19h3M84.5 114.19h1.5M95 114.19h1.5M105.5 114.19h1.5M108.5 114.19h1.5M111.5 114.19h1.5M120.5 114.19h1.5M131 114.19h3M141.5 114.19h1.5M53 128.98h1.5M272 133.91h1.5M296 133.91h1.5"/><path stroke="#c1c7ec" stroke-width="4.93" d="M102.5 109.27h1.5M185 109.27h1.5M210.5 109.27h1.5M216.5 109.27h1.5M225.5 109.27h1.5M239 109.27h1.5M243.5 109.27h1.5M246.5 109.27h1.5M249.5 109.27h1.5M252.5 109.27h1.5M338 109.27h1.5M155 114.19h1.5M170 114.19h1.5M218 114.19h1.5M224 114.19h1.5M234.5 114.19h1.5M240.5 114.19h1.5M245 114.19h1.5M254 114.19h1.5M266 114.19h1.5M303.5 114.19h1.5M312.5 114.19h1.5M69.5 119.12h1.5M80 119.12h1.5M102.5 119.12h3M122 119.12h1.5M131 119.12h3M143 119.12h1.5M147.5 119.12h3M162.5 119.12h7.5M171.5 119.12h1.5M182 119.12h3M204.5 119.12h1.5M209 119.12h1.5M222.5 119.12h1.5M248 119.12h1.5M254 119.12h1.5M258.5 119.12h1.5M263 119.12h1.5M270.5 119.12h1.5M276.5 119.12h1.5M288.5 119.12h1.5M291.5 119.12h1.5M296 119.12h1.5M305 119.12h3M314 119.12h1.5M321.5 119.12h4.5M327.5 119.12h1.5M330.5 119.12h1.5M60.5 124.06h1.5M68 124.06h1.5M71 124.06h1.5M74 124.06h1.5M78.5 124.06h1.5M87.5 124.06h1.5M90.5 124.06h1.5M99.5 124.06h1.5M102.5 124.06h1.5M108.5 124.06h1.5M128 124.06h1.5M137 124.06h1.5M147.5 124.06h1.5M152 124.06h1.5M158 124.06h3M179 124.06h1.5M201.5 124.06h3M215 124.06h1.5M225.5 124.06h1.5M240.5 124.06h1.5M281 124.06h1.5M299 124.06h1.5M152 128.98h1.5M195.5 128.98h1.5M53 133.91h1.5M65 133.91h1.5M72.5 133.91h1.5M75.5 133.91h1.5M84.5 133.91h1.5M93.5 133.91h1.5M120.5 133.91h1.5M131 133.91h3M149 133.91h1.5M174.5 133.91h1.5M189.5 133.91h1.5M230 133.91h1.5"/><path stroke="#f8b674" stroke-width="4.93" d="M104 109.27h1.5M141.5 109.27h1.5M65 114.19h1.5M72.5 114.19h1.5M90.5 114.19h1.5M93.5 114.19h1.5M99.5 114.19h1.5M104 114.19h1.5M122 114.19h4.5M143 114.19h3M147.5 114.19h1.5M204.5 124.06h1.5M221 124.06h1.5M242 124.06h1.5M303.5 124.06h1.5M339.5 124.06h1.5M57.5 128.98h1.5M248 133.91h1.5M276.5 133.91h1.5M311 133.91h1.5M314 133.91h1.5"/><path stroke="#f4c290" stroke-width="4.93" d="M117.5 109.27h1.5M179 109.27h1.5M189.5 109.27h1.5M215 109.27h1.5M86 114.19h3M102.5 114.19h1.5M134 114.19h1.5M189.5 114.19h1.5M242 114.19h1.5M276.5 114.19h1.5M90.5 119.12h1.5M116 124.06h1.5M125 124.06h1.5M150.5 124.06h1.5M153.5 124.06h1.5M212 124.06h1.5M218 124.06h1.5M239 124.06h1.5M291.5 124.06h1.5M308 124.06h1.5M312.5 124.06h1.5M74 133.91h1.5M152 133.91h1.5M164 133.91h1.5M219.5 133.91h1.5M254 133.91h1.5M299 133.91h1.5"/><path stroke="#fca249" stroke-width="4.93" d="M138.5 109.27h1.5M117.5 114.19h1.5M159.5 114.19h1.5M185 114.19h1.5M257 124.06h1.5M330.5 124.06h1.5M188 133.91h1.5"/><path stroke="#b9c1ee" stroke-width="4.93" d="M167 109.27h1.5M203 109.27h1.5M237.5 109.27h1.5M240.5 109.27h1.5M251 109.27h1.5M257 109.27h3M261.5 109.27h3M266 109.27h1.5M275 109.27h1.5M296 109.27h1.5M308 109.27h1.5M320 109.27h1.5M323 109.27h3M329 109.27h1.5M53 114.19h1.5M167 114.19h1.5M194 114.19h1.5M216.5 114.19h1.5M230 114.19h3M258.5 114.19h1.5M264.5 114.19h1.5M270.5 114.19h1.5M273.5 114.19h1.5M282.5 114.19h1.5M315.5 114.19h1.5M338 114.19h1.5M120.5 119.12h1.5M128 119.12h1.5M159.5 119.12h1.5M173 119.12h1.5M185 119.12h3M191 119.12h1.5M201.5 119.12h1.5M212 119.12h3M218 119.12h1.5M221 119.12h1.5M230 119.12h3M239 119.12h1.5M245 119.12h1.5M255.5 119.12h1.5M261.5 119.12h1.5M267.5 119.12h1.5M294.5 119.12h1.5M318.5 119.12h1.5M59 124.06h1.5M81.5 124.06h1.5M86 124.06h1.5M104 124.06h1.5M110 124.06h1.5M114.5 124.06h1.5M143 124.06h1.5M162.5 124.06h3M170 124.06h1.5M173 124.06h1.5M180.5 124.06h1.5M188 124.06h1.5M198.5 124.06h1.5M309.5 124.06h1.5M65 128.98h1.5M84.5 128.98h1.5M105.5 128.98h1.5M108.5 128.98h1.5M162.5 128.98h3M183.5 128.98h4.5M251 128.98h1.5M302 128.98h1.5M62 133.91h1.5M69.5 133.91h1.5M83 133.91h1.5M111.5 133.91h1.5M116 133.91h1.5M137 133.91h1.5M156.5 133.91h1.5M167 133.91h1.5M170 133.91h1.5M185 133.91h1.5M197 133.91h1.5M207.5 133.91h1.5M222.5 133.91h1.5M300.5 133.91h1.5"/><path stroke="#b0baf0" stroke-width="4.93" d="M207.5 109.27h1.5M264.5 109.27h1.5M269 109.27h1.5M279.5 109.27h1.5M288.5 109.27h1.5M291.5 109.27h3M299 109.27h1.5M302 109.27h1.5M305 109.27h1.5M314 109.27h1.5M321.5 109.27h1.5M200 114.19h1.5M207.5 114.19h1.5M246.5 114.19h1.5M251 114.19h1.5M261.5 114.19h1.5M285.5 114.19h1.5M288.5 114.19h1.5M317 114.19h1.5M324.5 114.19h1.5M53 119.12h3M66.5 119.12h1.5M71 119.12h1.5M81.5 119.12h1.5M146 119.12h1.5M152 119.12h1.5M192.5 119.12h1.5M198.5 119.12h1.5M225.5 119.12h1.5M234.5 119.12h1.5M257 119.12h1.5M279.5 119.12h1.5M293 119.12h1.5M309.5 119.12h1.5M317 119.12h1.5M53 124.06h1.5M56 124.06h1.5M66.5 124.06h1.5M98 124.06h1.5M123.5 124.06h1.5M134 124.06h1.5M144.5 124.06h3M149 124.06h1.5M156.5 124.06h1.5M168.5 124.06h1.5M174.5 124.06h1.5M183.5 124.06h1.5M216.5 124.06h1.5M110 128.98h1.5M114.5 128.98h1.5M137 128.98h1.5M146 128.98h1.5M170 128.98h3M201.5 128.98h1.5M204.5 128.98h3M219.5 128.98h4.5M239 128.98h1.5M249.5 128.98h1.5M267.5 128.98h1.5M68 133.91h1.5M78.5 133.91h1.5M87.5 133.91h1.5M92 133.91h1.5M98 133.91h1.5M105.5 133.91h3M123.5 133.91h1.5M134 133.91h1.5M143 133.91h1.5M180.5 133.91h1.5"/><path stroke="#919ef4" stroke-width="4.93" d="M270.5 109.27h1.5M278 109.27h1.5M327.5 109.27h1.5M332 109.27h1.5M335 109.27h1.5M219.5 114.19h1.5M335 114.19h1.5M339.5 114.19h1.5M138.5 119.12h1.5M207.5 119.12h1.5M210.5 119.12h1.5M236 119.12h1.5M57.5 124.06h1.5M68 128.98h1.5M71 128.98h1.5M77 128.98h1.5M86 128.98h1.5M90.5 128.98h1.5M101 128.98h1.5M107 128.98h1.5M120.5 128.98h1.5M125 128.98h1.5M140 128.98h1.5M143 128.98h1.5M156.5 128.98h1.5M159.5 128.98h3M177.5 128.98h1.5M188 128.98h1.5M194 128.98h1.5M203 128.98h1.5M212 128.98h1.5M227 128.98h4.5M252.5 128.98h1.5M255.5 128.98h1.5M272 128.98h1.5M276.5 128.98h3M308 128.98h1.5M311 128.98h1.5M60.5 133.91h1.5M110 133.91h1.5"/><path stroke="#7a87f5" stroke-width="4.93" d="M273.5 109.27h1.5M284 109.27h1.5M333.5 109.27h1.5M281 114.19h1.5M77 119.12h1.5M62 124.06h1.5M200 124.06h1.5M128 128.98h1.5M132.5 128.98h1.5M147.5 128.98h1.5M165.5 128.98h1.5M233 128.98h1.5M257 128.98h1.5M264.5 128.98h1.5M270.5 128.98h1.5M294.5 128.98h1.5M297.5 128.98h1.5M305 128.98h1.5M315.5 128.98h1.5M57.5 133.91h1.5"/><path stroke="#6e7cf6" stroke-width="4.93" d="M281 109.27h1.5M300.5 109.27h1.5M293 114.19h1.5M300.5 114.19h1.5M321.5 114.19h1.5M195.5 124.06h1.5M213.5 128.98h1.5M245 128.98h1.5M269 128.98h1.5M291.5 128.98h1.5M321.5 128.98h1.5M338 128.98h1.5"/><path stroke="#8592f4" stroke-width="4.93" d="M287 109.27h1.5M333.5 114.19h1.5M170 119.12h1.5M333.5 119.12h1.5M165.5 124.06h1.5M66.5 128.98h1.5M87.5 128.98h1.5M92 128.98h1.5M96.5 128.98h1.5M102.5 128.98h1.5M122 128.98h1.5M138.5 128.98h1.5M174.5 128.98h1.5M197 128.98h1.5M207.5 128.98h1.5M237.5 128.98h1.5M263 128.98h1.5M273.5 128.98h1.5M279.5 128.98h1.5M282.5 128.98h1.5M296 128.98h1.5M314 128.98h1.5M339.5 128.98h1.5"/><path stroke="#444afb" stroke-width="4.93" d="M318.5 114.19h1.5M98 128.98h1.5M155 128.98h1.5M284 128.98h1.5M287 128.98h3M309.5 128.98h1.5M327.5 128.98h1.5"/><path stroke="#525afa" stroke-width="4.93" d="M113 128.98h1.5M318.5 128.98h1.5M326 128.98h1.5M332 128.98h1.5"/><path stroke="#606bf8" stroke-width="4.93" d="M144.5 128.98h1.5M281 128.98h1.5M293 128.98h1.5M299 128.98h1.5M312.5 128.98h1.5M317 128.98h1.5M320 128.98h1.5M323 128.98h3M329 128.98h1.5M333.5 128.98h3"/><path stroke="#3639fd" stroke-width="4.93" d="M215 128.98h1.5M300.5 128.98h1.5M330.5 128.98h1.5M336.5 128.98h1.5"/><path stroke="#2828ff" stroke-width="4.93" d="M285.5 128.98h1.5M303.5 128.98h1.5M306.5 128.98h1.5"/></g><g fill="none"><path stroke="#b0baf0" stroke-width="4.93" d="M53 140.16h1.5M89 140.16h1.5M93.5 140.16h1.5M294.5 140.16h1.5M57.5 145.09h1.5M74 145.09h1.5M143 145.09h1.5M147.5 145.09h3M152 145.09h1.5M174.5 145.09h1.5M179 145.09h1.5M194 145.09h1.5M225.5 145.09h3M233 145.09h1.5M242 145.09h3M246.5 145.09h1.5M252.5 145.09h1.5M255.5 145.09h1.5M270.5 145.09h1.5M297.5 145.09h1.5M62 150.03h1.5M72.5 150.03h1.5M78.5 150.03h1.5M81.5 150.03h1.5M107 150.03h1.5M110 150.03h1.5M128 150.03h3M134 150.03h1.5M57.5 154.95h1.5M63.5 154.95h1.5M68 154.95h1.5M71 154.95h1.5M75.5 154.95h1.5M108.5 154.95h1.5M111.5 154.95h1.5M117.5 154.95h1.5M152 154.95h1.5M159.5 154.95h1.5M167 154.95h3M176 154.95h1.5M182 154.95h1.5M185 154.95h1.5M65 159.88h1.5M72.5 159.88h1.5M81.5 159.88h1.5M98 159.88h1.5M105.5 159.88h1.5M110 159.88h1.5M116 159.88h1.5M134 159.88h1.5M141.5 159.88h1.5M152 159.88h1.5M155 159.88h1.5M177.5 159.88h1.5M203 159.88h1.5M236 159.88h1.5M264.5 159.88h1.5M59 164.81h1.5M71 164.81h3M81.5 164.81h1.5M92 164.81h1.5M129.5 164.81h1.5M138.5 164.81h1.5"/><path stroke="#c1c7ec" stroke-width="4.93" d="M54.5 140.16h1.5M65 140.16h1.5M105.5 140.16h1.5M126.5 140.16h1.5M140 140.16h1.5M143 140.16h1.5M152 140.16h1.5M188 140.16h1.5M195.5 140.16h1.5M284 140.16h3M308 140.16h1.5M327.5 140.16h1.5M71 145.09h1.5M81.5 145.09h1.5M111.5 145.09h1.5M116 145.09h3M135.5 145.09h1.5M150.5 145.09h1.5M155 145.09h1.5M176 145.09h1.5M188 145.09h1.5M191 145.09h1.5M200 145.09h1.5M204.5 145.09h1.5M210.5 145.09h1.5M213.5 145.09h1.5M218 145.09h1.5M224 145.09h1.5M231.5 145.09h1.5M236 145.09h1.5M261.5 145.09h1.5M300.5 145.09h1.5M324.5 145.09h1.5M336.5 145.09h1.5M339.5 145.09h1.5M65 150.03h1.5M77 150.03h1.5M89 150.03h1.5M99.5 150.03h3M117.5 150.03h1.5M125 150.03h1.5M141.5 150.03h1.5M144.5 150.03h1.5M188 150.03h1.5M210.5 150.03h1.5M224 150.03h1.5M227 150.03h3M231.5 150.03h1.5M53 154.95h1.5M59 154.95h1.5M69.5 154.95h1.5M78.5 154.95h1.5M87.5 154.95h3M95 154.95h1.5M107 154.95h1.5M131 154.95h1.5M138.5 154.95h1.5M147.5 154.95h1.5M197 154.95h1.5M200 154.95h1.5M209 154.95h1.5M212 154.95h1.5M216.5 154.95h1.5M227 154.95h1.5M257 154.95h1.5M71 159.88h1.5M80 159.88h1.5M83 159.88h1.5M96.5 159.88h1.5M119 159.88h1.5M122 159.88h1.5M143 159.88h1.5M146 159.88h1.5M173 159.88h1.5M195.5 159.88h1.5M210.5 159.88h1.5M219.5 159.88h1.5M252.5 159.88h1.5M269 159.88h1.5M276.5 159.88h1.5M317 159.88h1.5M329 159.88h1.5M66.5 164.81h1.5M77 164.81h1.5M101 164.81h1.5M119 164.81h1.5M150.5 164.81h3M168.5 164.81h1.5M171.5 164.81h1.5M183.5 164.81h1.5M240.5 164.81h1.5"/><path stroke="#f4c290" stroke-width="4.93" d="M56 140.16h1.5M99.5 140.16h1.5M158 140.16h1.5M170 140.16h1.5M296 140.16h1.5M314 140.16h1.5M321.5 140.16h1.5M161 145.09h1.5M249.5 145.09h1.5M260 145.09h1.5M105.5 150.03h1.5M189.5 150.03h1.5M237.5 150.03h1.5M269 150.03h1.5M180.5 154.95h1.5M303.5 154.95h1.5M315.5 154.95h1.5M182 159.88h1.5M185 159.88h1.5M192.5 159.88h1.5M254 159.88h1.5M266 159.88h1.5M146 164.81h1.5M213.5 164.81h1.5M260 164.81h1.5M294.5 164.81h1.5M302 164.81h1.5M309.5 164.81h1.5M317 164.81h1.5M324.5 164.81h1.5M329 164.81h1.5M332 164.81h1.5"/><path stroke="#a8b4f2" stroke-width="4.93" d="M57.5 140.16h1.5M62 140.16h1.5M53 145.09h1.5M140 145.09h1.5M156.5 145.09h1.5M183.5 145.09h1.5M221 145.09h1.5M230 145.09h1.5M258.5 145.09h1.5M264.5 145.09h1.5M267.5 145.09h1.5M288.5 145.09h1.5M294.5 145.09h3M321.5 145.09h1.5M338 145.09h1.5M53 150.03h1.5M57.5 150.03h1.5M68 150.03h1.5M96.5 150.03h3M114.5 150.03h1.5M123.5 150.03h1.5M131 150.03h1.5M54.5 154.95h1.5M81.5 154.95h1.5M113 154.95h1.5M123.5 154.95h1.5M128 154.95h1.5M134 154.95h4.5M143 154.95h1.5M158 154.95h1.5M173 154.95h1.5M194 154.95h1.5M69.5 159.88h1.5M74 159.88h1.5M99.5 159.88h1.5M104 159.88h1.5M144.5 159.88h1.5M149 159.88h1.5M218 159.88h1.5M281 159.88h1.5M306.5 159.88h1.5M60.5 164.81h1.5M69.5 164.81h1.5M96.5 164.81h1.5M102.5 164.81h1.5M114.5 164.81h1.5M120.5 164.81h7.5M131 164.81h1.5M135.5 164.81h3M140 164.81h1.5"/><path stroke="#ded2d0" stroke-width="4.93" d="M59 140.16h1.5M78.5 140.16h1.5M84.5 140.16h1.5M95 140.16h1.5M113 140.16h1.5M150.5 140.16h1.5M156.5 140.16h1.5M180.5 140.16h1.5M192.5 140.16h1.5M210.5 140.16h1.5M221 140.16h1.5M236 140.16h1.5M239 140.16h1.5M246.5 140.16h1.5M257 140.16h3M305 140.16h1.5M324.5 140.16h1.5M330.5 140.16h1.5M59 145.09h1.5M78.5 145.09h1.5M84.5 145.09h3M107 145.09h1.5M215 145.09h1.5M234.5 145.09h1.5M317 145.09h1.5M59 150.03h1.5M126.5 150.03h1.5M153.5 150.03h1.5M170 150.03h1.5M191 150.03h1.5M243.5 150.03h1.5M246.5 150.03h1.5M261.5 150.03h1.5M266 150.03h3M270.5 150.03h1.5M288.5 150.03h1.5M296 150.03h1.5M300.5 150.03h1.5M305 150.03h1.5M312.5 150.03h1.5M329 150.03h1.5M332 150.03h3M119 154.95h1.5M206 154.95h1.5M215 154.95h1.5M218 154.95h1.5M234.5 154.95h1.5M245 154.95h1.5M251 154.95h1.5M260 154.95h1.5M264.5 154.95h1.5M339.5 154.95h1.5M189.5 159.88h1.5M239 159.88h1.5M245 159.88h1.5M278 159.88h1.5M87.5 164.81h1.5M167 164.81h1.5M173 164.81h1.5M186.5 164.81h1.5M198.5 164.81h1.5M207.5 164.81h1.5M212 164.81h1.5M218 164.81h1.5M224 164.81h1.5M234.5 164.81h1.5"/><path stroke="#d2d4e8" stroke-width="4.93" d="M60.5 140.16h1.5M80 140.16h1.5M86 140.16h3M96.5 140.16h1.5M101 140.16h3M107 140.16h1.5M116 140.16h1.5M123.5 140.16h1.5M131 140.16h3M138.5 140.16h1.5M146 140.16h1.5M182 140.16h1.5M191 140.16h1.5M204.5 140.16h1.5M209 140.16h1.5M216.5 140.16h1.5M225.5 140.16h3M264.5 140.16h1.5M279.5 140.16h1.5M302 140.16h1.5M309.5 140.16h3M332 140.16h1.5M66.5 145.09h1.5M77 145.09h1.5M89 145.09h1.5M95 145.09h1.5M99.5 145.09h4.5M108.5 145.09h1.5M125 145.09h1.5M129.5 145.09h1.5M132.5 145.09h1.5M168.5 145.09h3M180.5 145.09h1.5M185 145.09h1.5M189.5 145.09h1.5M206 145.09h1.5M212 145.09h1.5M248 145.09h1.5M257 145.09h1.5M305 145.09h3M318.5 145.09h1.5M332 145.09h1.5M74 150.03h1.5M146 150.03h3M161 150.03h1.5M168.5 150.03h1.5M173 150.03h1.5M206 150.03h4.5M212 150.03h1.5M215 150.03h1.5M221 150.03h1.5M230 150.03h1.5M254 150.03h1.5M257 150.03h1.5M260 150.03h1.5M264.5 150.03h1.5M279.5 150.03h1.5M297.5 150.03h1.5M315.5 150.03h1.5M321.5 150.03h1.5M326 150.03h3M98 154.95h1.5M132.5 154.95h1.5M144.5 154.95h1.5M155 154.95h3M174.5 154.95h1.5M179 154.95h1.5M207.5 154.95h1.5M221 154.95h3M225.5 154.95h1.5M231.5 154.95h1.5M237.5 154.95h3M314 154.95h1.5M62 159.88h1.5M66.5 159.88h1.5M102.5 159.88h1.5M153.5 159.88h1.5M164 159.88h1.5M174.5 159.88h1.5M197 159.88h3M213.5 159.88h3M222.5 159.88h3M228.5 159.88h3M233 159.88h1.5M240.5 159.88h1.5M246.5 159.88h1.5M258.5 159.88h1.5M287 159.88h1.5M56 164.81h1.5M84.5 164.81h1.5M164 164.81h1.5M170 164.81h1.5M177.5 164.81h1.5M189.5 164.81h1.5M204.5 164.81h1.5M210.5 164.81h1.5M219.5 164.81h1.5M237.5 164.81h1.5"/><path stroke="#b9c1ee" stroke-width="4.93" d="M63.5 140.16h1.5M98 140.16h1.5M110 140.16h1.5M137 140.16h1.5M183.5 140.16h1.5M297.5 140.16h1.5M333.5 140.16h1.5M56 145.09h1.5M75.5 145.09h1.5M80 145.09h1.5M104 145.09h1.5M122 145.09h1.5M128 145.09h1.5M134 145.09h1.5M141.5 145.09h1.5M144.5 145.09h1.5M164 145.09h4.5M171.5 145.09h1.5M177.5 145.09h1.5M186.5 145.09h1.5M195.5 145.09h1.5M203 145.09h1.5M239 145.09h1.5M266 145.09h1.5M269 145.09h1.5M282.5 145.09h3M287 145.09h1.5M302 145.09h3M311 145.09h1.5M333.5 145.09h1.5M60.5 150.03h1.5M66.5 150.03h1.5M71 150.03h1.5M87.5 150.03h1.5M132.5 150.03h1.5M140 150.03h1.5M143 150.03h1.5M185 150.03h1.5M204.5 150.03h1.5M311 150.03h1.5M56 154.95h1.5M66.5 154.95h1.5M72.5 154.95h1.5M77 154.95h1.5M92 154.95h3M101 154.95h1.5M105.5 154.95h1.5M110 154.95h1.5M114.5 154.95h1.5M120.5 154.95h1.5M141.5 154.95h1.5M165.5 154.95h1.5M183.5 154.95h1.5M198.5 154.95h1.5M326 154.95h1.5M78.5 159.88h1.5M101 159.88h1.5M108.5 159.88h1.5M117.5 159.88h1.5M120.5 159.88h1.5M132.5 159.88h1.5M138.5 159.88h3M147.5 159.88h1.5M158 159.88h3M165.5 159.88h3M216.5 159.88h1.5M227 159.88h1.5M248 159.88h1.5M257 159.88h1.5M263 159.88h1.5M53 164.81h1.5M57.5 164.81h1.5M75.5 164.81h1.5M80 164.81h1.5M147.5 164.81h1.5M156.5 164.81h3"/><path stroke="#caceea" stroke-width="4.93" d="M66.5 140.16h1.5M75.5 140.16h1.5M83 140.16h1.5M90.5 140.16h1.5M104 140.16h1.5M122 140.16h1.5M125 140.16h1.5M134 140.16h3M149 140.16h1.5M153.5 140.16h1.5M159.5 140.16h1.5M165.5 140.16h1.5M171.5 140.16h1.5M186.5 140.16h1.5M197 140.16h3M230 140.16h1.5M243.5 140.16h1.5M252.5 140.16h1.5M281 140.16h1.5M303.5 140.16h1.5M329 140.16h1.5M60.5 145.09h3M92 145.09h3M96.5 145.09h3M105.5 145.09h1.5M114.5 145.09h1.5M119 145.09h1.5M138.5 145.09h1.5M182 145.09h1.5M192.5 145.09h1.5M198.5 145.09h1.5M251 145.09h1.5M263 145.09h1.5M290 145.09h1.5M56 150.03h1.5M80 150.03h1.5M102.5 150.03h1.5M120.5 150.03h1.5M137 150.03h1.5M152 150.03h1.5M158 150.03h1.5M164 150.03h3M177.5 150.03h1.5M186.5 150.03h1.5M201.5 150.03h3M239 150.03h1.5M248 150.03h1.5M287 150.03h1.5M314 150.03h1.5M83 154.95h1.5M102.5 154.95h1.5M122 154.95h1.5M149 154.95h1.5M161 154.95h3M186.5 154.95h1.5M189.5 154.95h1.5M192.5 154.95h1.5M195.5 154.95h1.5M204.5 154.95h1.5M75.5 159.88h1.5M84.5 159.88h1.5M92 159.88h1.5M111.5 159.88h4.5M129.5 159.88h1.5M168.5 159.88h1.5M176 159.88h1.5M186.5 159.88h1.5M191 159.88h1.5M200 159.88h1.5M225.5 159.88h1.5M231.5 159.88h1.5M234.5 159.88h1.5M270.5 159.88h1.5M320 159.88h1.5M339.5 159.88h1.5M159.5 164.81h1.5M174.5 164.81h1.5M185 164.81h1.5M188 164.81h1.5M197 164.81h1.5M252.5 164.81h1.5"/><path stroke="#f2c89e" stroke-width="4.93" d="M68 140.16h1.5M72.5 140.16h1.5M92 140.16h1.5M155 140.16h1.5M167 140.16h1.5M176 140.16h1.5M203 140.16h1.5M219.5 140.16h1.5M237.5 140.16h1.5M267.5 140.16h1.5M288.5 140.16h1.5M320 140.16h1.5M87.5 145.09h1.5M110 145.09h1.5M123.5 145.09h1.5M273.5 145.09h1.5M291.5 145.09h1.5M309.5 145.09h1.5M312.5 145.09h1.5M155 150.03h1.5M219.5 150.03h1.5M258.5 150.03h1.5M96.5 154.95h1.5M170 154.95h1.5M177.5 154.95h1.5M242 154.95h1.5M297.5 154.95h3M302 154.95h1.5M305 154.95h1.5M318.5 154.95h1.5M321.5 154.95h1.5M336.5 154.95h1.5M171.5 159.88h1.5M194 159.88h1.5M116 164.81h1.5M162.5 164.81h1.5M165.5 164.81h1.5M192.5 164.81h1.5M251 164.81h1.5M285.5 164.81h1.5M303.5 164.81h1.5M315.5 164.81h1.5M318.5 164.81h1.5M327.5 164.81h1.5"/><path stroke="#f6bc82" stroke-width="4.93" d="M69.5 140.16h1.5M77 140.16h1.5M129.5 140.16h1.5M141.5 140.16h1.5M185 140.16h1.5M207.5 140.16h1.5M245 140.16h1.5M300.5 140.16h1.5M240.5 145.09h1.5M254 145.09h1.5M276.5 154.95h1.5M284 154.95h1.5M323 154.95h3M330.5 154.95h1.5M156.5 159.88h1.5M161 159.88h1.5M272 159.88h1.5M161 164.81h1.5M269 164.81h3M273.5 164.81h1.5M293 164.81h1.5M296 164.81h1.5M312.5 164.81h1.5M330.5 164.81h1.5M335 164.81h1.5"/><path stroke="#d8d3dc" stroke-width="4.93" d="M71 140.16h1.5M117.5 140.16h4.5M128 140.16h1.5M174.5 140.16h1.5M177.5 140.16h1.5M189.5 140.16h1.5M201.5 140.16h1.5M213.5 140.16h1.5M222.5 140.16h3M242 140.16h1.5M270.5 140.16h1.5M282.5 140.16h1.5M291.5 140.16h3M306.5 140.16h1.5M315.5 140.16h1.5M318.5 140.16h1.5M323 140.16h1.5M68 145.09h1.5M113 145.09h1.5M120.5 145.09h1.5M137 145.09h1.5M153.5 145.09h1.5M158 145.09h1.5M207.5 145.09h1.5M281 145.09h1.5M69.5 150.03h1.5M75.5 150.03h1.5M84.5 150.03h1.5M113 150.03h1.5M167 150.03h1.5M171.5 150.03h1.5M174.5 150.03h1.5M180.5 150.03h1.5M216.5 150.03h1.5M222.5 150.03h1.5M233 150.03h3M242 150.03h1.5M263 150.03h1.5M302 150.03h3M309.5 150.03h1.5M338 150.03h3M90.5 154.95h1.5M126.5 154.95h1.5M153.5 154.95h1.5M188 154.95h1.5M201.5 154.95h1.5M210.5 154.95h1.5M230 154.95h1.5M233 154.95h1.5M240.5 154.95h1.5M252.5 154.95h1.5M294.5 154.95h1.5M123.5 159.88h1.5M150.5 159.88h1.5M179 159.88h3M201.5 159.88h1.5M207.5 159.88h1.5M212 159.88h1.5M237.5 159.88h1.5M242 159.88h3M255.5 159.88h1.5M260 159.88h1.5M267.5 159.88h1.5M155 164.81h1.5M176 164.81h1.5M182 164.81h1.5M191 164.81h1.5M195.5 164.81h1.5M215 164.81h1.5M227 164.81h1.5M239 164.81h1.5"/><path stroke="#9ca9f3" stroke-width="4.93" d="M74 140.16h1.5M326 140.16h1.5M54.5 145.09h1.5M197 145.09h1.5M237.5 145.09h1.5M279.5 145.09h1.5M285.5 145.09h1.5M293 145.09h1.5M315.5 145.09h1.5M320 145.09h1.5M326 145.09h1.5M54.5 150.03h1.5M63.5 150.03h1.5M83 150.03h1.5M90.5 150.03h3M108.5 150.03h1.5M135.5 150.03h1.5M60.5 154.95h3M86 154.95h1.5M104 154.95h1.5M90.5 159.88h1.5M107 159.88h1.5M126.5 159.88h3M135.5 159.88h1.5M273.5 159.88h1.5M291.5 159.88h1.5M299 159.88h1.5M312.5 159.88h1.5M65 164.81h1.5M68 164.81h1.5M78.5 164.81h1.5M83 164.81h1.5M86 164.81h1.5M89 164.81h1.5M93.5 164.81h1.5M98 164.81h3M108.5 164.81h4.5M117.5 164.81h1.5M132.5 164.81h1.5M141.5 164.81h3"/><path stroke="#f0ceac" stroke-width="4.93" d="M81.5 140.16h1.5M111.5 140.16h1.5M168.5 140.16h1.5M231.5 140.16h1.5M240.5 140.16h1.5M248 140.16h1.5M255.5 140.16h1.5M261.5 140.16h1.5M299 140.16h1.5M126.5 145.09h1.5M173 145.09h1.5M272 145.09h1.5M116 150.03h1.5M218 150.03h1.5M294.5 150.03h1.5M323 150.03h1.5M330.5 150.03h1.5M140 154.95h1.5M243.5 154.95h1.5M249.5 154.95h1.5M254 154.95h1.5M261.5 154.95h1.5M279.5 154.95h1.5M282.5 154.95h1.5M296 154.95h1.5M308 154.95h1.5M311 154.95h1.5M320 154.95h1.5M329 154.95h1.5M332 154.95h3M68 159.88h1.5M86 159.88h1.5M89 159.88h1.5M125 159.88h1.5M183.5 159.88h1.5M251 159.88h1.5M222.5 164.81h1.5M242 164.81h1.5M258.5 164.81h1.5M276.5 164.81h1.5M288.5 164.81h1.5M300.5 164.81h1.5M320 164.81h3"/><path stroke="#f8b674" stroke-width="4.93" d="M108.5 140.16h1.5M144.5 140.16h1.5M233 140.16h1.5M317 140.16h1.5M335 140.16h1.5M63.5 145.09h1.5M72.5 145.09h1.5M162.5 145.09h1.5M209 145.09h1.5M278 145.09h1.5M119 150.03h1.5M156.5 150.03h1.5M159.5 150.03h1.5M192.5 150.03h1.5M240.5 150.03h1.5M252.5 150.03h1.5M275 150.03h3M336.5 150.03h1.5M270.5 154.95h1.5M275 154.95h1.5M281 154.95h1.5M285.5 154.95h1.5M291.5 154.95h1.5M162.5 159.88h1.5M206 164.81h1.5M261.5 164.81h3M279.5 164.81h1.5M282.5 164.81h3M287 164.81h1.5M311 164.81h1.5M314 164.81h1.5"/><path stroke="#919ef4" stroke-width="4.93" d="M114.5 140.16h1.5M312.5 140.16h1.5M131 145.09h1.5M159.5 145.09h1.5M219.5 145.09h1.5M222.5 145.09h1.5M245 145.09h1.5M327.5 145.09h1.5M335 145.09h1.5M74 154.95h1.5M284 159.88h3M290 159.88h1.5M323 159.88h1.5M336.5 159.88h1.5M62 164.81h3M74 164.81h1.5M104 164.81h1.5M113 164.81h1.5M128 164.81h1.5M134 164.81h1.5M144.5 164.81h1.5"/><path stroke="#e4d0c4" stroke-width="4.93" d="M147.5 140.16h1.5M161 140.16h1.5M164 140.16h1.5M200 140.16h1.5M218 140.16h1.5M228.5 140.16h1.5M263 140.16h1.5M269 140.16h1.5M290 140.16h1.5M146 145.09h1.5M201.5 145.09h1.5M216.5 145.09h1.5M228.5 145.09h1.5M275 145.09h1.5M299 145.09h1.5M308 145.09h1.5M323 145.09h1.5M329 145.09h1.5M149 150.03h1.5M162.5 150.03h1.5M176 150.03h1.5M179 150.03h1.5M182 150.03h3M225.5 150.03h1.5M236 150.03h1.5M245 150.03h1.5M249.5 150.03h1.5M255.5 150.03h1.5M284 150.03h1.5M293 150.03h1.5M306.5 150.03h1.5M317 150.03h1.5M335 150.03h1.5M191 154.95h1.5M228.5 154.95h1.5M236 154.95h1.5M246.5 154.95h1.5M263 154.95h1.5M300.5 154.95h1.5M59 159.88h3M77 159.88h1.5M95 159.88h1.5M137 159.88h1.5M170 159.88h1.5M188 159.88h1.5M204.5 159.88h3M209 159.88h1.5M221 159.88h1.5M149 164.81h1.5M153.5 164.81h1.5M179 164.81h3M201.5 164.81h3M216.5 164.81h1.5M225.5 164.81h1.5M254 164.81h3M264.5 164.81h4.5"/><path stroke="#eacfb8" stroke-width="4.93" d="M162.5 140.16h1.5M173 140.16h1.5M179 140.16h1.5M194 140.16h1.5M206 140.16h1.5M215 140.16h1.5M234.5 140.16h1.5M249.5 140.16h3M254 140.16h1.5M260 140.16h1.5M266 140.16h1.5M287 140.16h1.5M338 140.16h3M65 145.09h1.5M83 145.09h1.5M90.5 145.09h1.5M86 150.03h1.5M93.5 150.03h3M122 150.03h1.5M150.5 150.03h1.5M251 150.03h1.5M282.5 150.03h1.5M285.5 150.03h1.5M291.5 150.03h1.5M299 150.03h1.5M308 150.03h1.5M324.5 150.03h1.5M65 154.95h1.5M80 154.95h1.5M84.5 154.95h1.5M125 154.95h1.5M129.5 154.95h1.5M146 154.95h1.5M150.5 154.95h1.5M203 154.95h1.5M213.5 154.95h1.5M219.5 154.95h1.5M224 154.95h1.5M248 154.95h1.5M258.5 154.95h1.5M288.5 154.95h1.5M309.5 154.95h1.5M327.5 154.95h1.5M63.5 159.88h1.5M87.5 159.88h1.5M131 159.88h1.5M261.5 159.88h1.5M275 159.88h1.5M95 164.81h1.5M107 164.81h1.5M200 164.81h1.5M221 164.81h1.5M228.5 164.81h6M236 164.81h1.5M243.5 164.81h4.5M249.5 164.81h1.5M257 164.81h1.5M281 164.81h1.5M306.5 164.81h1.5"/><path stroke="#fd9a3b" stroke-width="4.93" d="M212 140.16h1.5M290 150.03h1.5M255.5 154.95h1.5M293 154.95h1.5M306.5 154.95h1.5"/><path stroke="#fca249" stroke-width="4.93" d="M272 140.16h1.5M278 140.16h1.5M336.5 140.16h1.5M273.5 150.03h1.5M267.5 154.95h1.5M312.5 154.95h1.5M335 154.95h1.5M209 164.81h1.5M326 164.81h1.5M336.5 164.81h1.5"/><path stroke="#fba958" stroke-width="4.93" d="M273.5 140.16h1.5M69.5 145.09h1.5M272 150.03h1.5M266 154.95h1.5M272 154.95h3M338 154.95h1.5M275 164.81h1.5M299 164.81h1.5"/><path stroke="#fe932c" stroke-width="4.93" d="M275 140.16h1.5M195.5 150.03h1.5M290 154.95h1.5M317 154.95h1.5M57.5 159.88h1.5M339.5 164.81h1.5"/><path stroke="#ff8c1e" stroke-width="4.93" d="M276.5 140.16h1.5M194 150.03h1.5M197 150.03h4.5M278 154.95h1.5M287 154.95h1.5M53 159.88h4.5M278 164.81h1.5M290 164.81h1.5M305 164.81h1.5M308 164.81h1.5M333.5 164.81h1.5M338 164.81h1.5"/><path stroke="#fab066" stroke-width="4.93" d="M276.5 145.09h1.5M213.5 150.03h1.5M278 150.03h1.5M281 150.03h1.5M318.5 150.03h3M269 154.95h1.5M249.5 159.88h1.5M194 164.81h1.5M248 164.81h1.5M272 164.81h1.5M291.5 164.81h1.5M297.5 164.81h1.5M323 164.81h1.5"/><path stroke="#7a87f5" stroke-width="4.93" d="M314 145.09h1.5M111.5 150.03h1.5M164 154.95h1.5M171.5 154.95h1.5M282.5 159.88h1.5M300.5 159.88h3M305 159.88h1.5M311 159.88h1.5M321.5 159.88h1.5M333.5 159.88h3M90.5 164.81h1.5"/><path stroke="#8592f4" stroke-width="4.93" d="M330.5 145.09h1.5M104 150.03h1.5M138.5 150.03h1.5M99.5 154.95h1.5M116 154.95h1.5M279.5 159.88h1.5M288.5 159.88h1.5M296 159.88h3M54.5 164.81h1.5M105.5 164.81h1.5"/><path stroke="#6e7cf6" stroke-width="4.93" d="M93.5 159.88h1.5M308 159.88h1.5M318.5 159.88h1.5M324.5 159.88h1.5M332 159.88h1.5"/><path stroke="#2828ff" stroke-width="4.93" d="M293 159.88h1.5"/><path stroke="#525afa" stroke-width="4.93" d="M294.5 159.88h1.5M338 159.88h1.5"/><path stroke="#606bf8" stroke-width="4.93" d="M303.5 159.88h1.5M309.5 159.88h1.5M315.5 159.88h1.5M330.5 159.88h1.5"/><path stroke="#3639fd" stroke-width="4.93" d="M314 159.88h1.5M327.5 159.88h1.5"/><path stroke="#444afb" stroke-width="4.93" d="M326 159.88h1.5"/></g><g fill="none"><path stroke="#919ef4" stroke-width="4.93" d="M53 170.56h1.5M57.5 170.56h1.5M75.5 170.56h1.5M126.5 170.56h1.5M278 170.56h1.5M65 180.42h1.5M75.5 180.42h1.5M95 180.42h1.5M117.5 180.42h1.5M128 180.42h1.5M137 180.42h1.5M140 180.42h1.5M59 185.35h1.5M81.5 185.35h1.5M92 185.35h1.5M98 185.35h1.5M105.5 185.35h1.5M117.5 185.35h1.5M128 185.35h1.5M131 185.35h1.5M83 190.28h1.5M110 190.28h1.5M116 190.28h1.5M123.5 190.28h1.5M126.5 190.28h1.5M282.5 190.28h1.5M56 195.22h1.5M59 195.22h1.5M65 195.22h1.5M68 195.22h1.5M74 195.22h1.5M83 195.22h1.5M96.5 195.22h1.5M104 195.22h1.5M114.5 195.22h1.5M129.5 195.22h1.5M141.5 195.22h3M276.5 195.22h1.5"/><path stroke="#caceea" stroke-width="4.93" d="M54.5 170.56h1.5M80 170.56h1.5M83 170.56h1.5M95 170.56h1.5M155 170.56h1.5M180.5 170.56h1.5M204.5 170.56h1.5M224 170.56h3M257 170.56h1.5M281 170.56h1.5M299 170.56h1.5M302 170.56h1.5M323 170.56h1.5M336.5 170.56h3M54.5 175.5h1.5M75.5 175.5h1.5M90.5 175.5h3M122 175.5h1.5M125 175.5h1.5M137 175.5h1.5M140 175.5h1.5M158 175.5h1.5M162.5 175.5h1.5M198.5 175.5h1.5M204.5 175.5h1.5M230 175.5h1.5M236 175.5h1.5M239 175.5h1.5M245 175.5h1.5M248 175.5h3M252.5 175.5h1.5M267.5 175.5h1.5M281 175.5h1.5M299 175.5h1.5M306.5 175.5h1.5M318.5 175.5h1.5M323 175.5h3M330.5 175.5h1.5M83 180.42h1.5M90.5 180.42h1.5M132.5 180.42h1.5M147.5 180.42h1.5M168.5 180.42h1.5M212 180.42h1.5M146 185.35h1.5M149 185.35h1.5M156.5 185.35h1.5M170 185.35h3M183.5 185.35h1.5M204.5 185.35h1.5M221 185.35h3M243.5 185.35h1.5M248 185.35h1.5M81.5 190.28h1.5M125 190.28h1.5M195.5 190.28h3M212 190.28h1.5M227 190.28h1.5M240.5 190.28h3M245 190.28h1.5M249.5 190.28h1.5M254 190.28h1.5M257 190.28h1.5M260 190.28h1.5M263 190.28h1.5M270.5 190.28h1.5M288.5 190.28h1.5M291.5 190.28h1.5M185 195.22h1.5"/><path stroke="#b9c1ee" stroke-width="4.93" d="M56 170.56h1.5M60.5 170.56h1.5M65 170.56h1.5M90.5 170.56h1.5M96.5 170.56h1.5M102.5 170.56h1.5M105.5 170.56h1.5M117.5 170.56h1.5M120.5 170.56h1.5M144.5 170.56h1.5M171.5 170.56h1.5M191 170.56h1.5M228.5 170.56h1.5M266 170.56h1.5M272 170.56h1.5M275 170.56h1.5M285.5 170.56h1.5M303.5 170.56h1.5M308 170.56h1.5M72.5 175.5h1.5M83 175.5h1.5M110 175.5h1.5M120.5 175.5h1.5M144.5 175.5h1.5M228.5 175.5h1.5M282.5 175.5h1.5M287 175.5h1.5M291.5 175.5h1.5M302 175.5h1.5M308 175.5h1.5M317 175.5h1.5M327.5 175.5h1.5M57.5 185.35h1.5M86 185.35h1.5M90.5 185.35h1.5M99.5 185.35h1.5M141.5 185.35h1.5M77 190.28h1.5M80 190.28h1.5M84.5 190.28h1.5M95 190.28h3M108.5 190.28h1.5M111.5 190.28h1.5M117.5 190.28h1.5M135.5 190.28h3M140 190.28h1.5M146 190.28h1.5M159.5 190.28h1.5M164 190.28h1.5M243.5 190.28h1.5M246.5 190.28h3M264.5 190.28h1.5M275 190.28h1.5M333.5 190.28h1.5M69.5 195.22h1.5M164 195.22h1.5M182 195.22h1.5M206 195.22h1.5M275 195.22h1.5"/><path stroke="#b0baf0" stroke-width="4.93" d="M59 170.56h1.5M66.5 170.56h1.5M89 170.56h1.5M101 170.56h1.5M128 170.56h1.5M143 170.56h1.5M146 170.56h1.5M201.5 170.56h1.5M284 170.56h1.5M62 175.5h1.5M74 175.5h1.5M104 175.5h1.5M113 175.5h1.5M215 175.5h1.5M288.5 175.5h3M333.5 175.5h1.5M62 180.42h3M68 180.42h1.5M72.5 180.42h1.5M105.5 180.42h1.5M113 180.42h1.5M141.5 180.42h1.5M158 180.42h3M170 180.42h1.5M54.5 185.35h1.5M75.5 185.35h3M80 185.35h1.5M93.5 185.35h1.5M111.5 185.35h1.5M120.5 185.35h3M201.5 185.35h1.5M59 190.28h4.5M69.5 190.28h1.5M72.5 190.28h1.5M90.5 190.28h3M114.5 190.28h1.5M119 190.28h1.5M144.5 190.28h1.5M153.5 190.28h1.5M206 190.28h1.5M239 190.28h1.5M255.5 190.28h1.5M287 190.28h1.5M63.5 195.22h1.5M78.5 195.22h1.5M86 195.22h1.5M125 195.22h1.5M153.5 195.22h1.5M162.5 195.22h1.5M204.5 195.22h1.5M213.5 195.22h1.5M234.5 195.22h1.5M272 195.22h1.5"/><path stroke="#e4d0c4" stroke-width="4.93" d="M62 170.56h1.5M69.5 170.56h1.5M72.5 170.56h1.5M162.5 170.56h1.5M189.5 170.56h1.5M192.5 170.56h1.5M215 170.56h1.5M261.5 170.56h1.5M270.5 170.56h1.5M312.5 170.56h1.5M324.5 170.56h3M333.5 170.56h3M105.5 175.5h1.5M132.5 175.5h1.5M176 175.5h1.5M180.5 175.5h1.5M191 175.5h1.5M200 175.5h1.5M242 175.5h1.5M279.5 175.5h1.5M311 175.5h1.5M197 180.42h1.5M215 180.42h1.5M225.5 180.42h3M231.5 180.42h1.5M236 180.42h1.5M242 180.42h1.5M248 180.42h1.5M252.5 180.42h1.5M269 180.42h1.5M275 180.42h3M284 180.42h1.5M185 185.35h1.5M188 185.35h1.5M198.5 185.35h3M254 185.35h1.5M258.5 185.35h1.5M65 190.28h1.5M132.5 190.28h1.5M162.5 190.28h1.5M179 190.28h1.5M186.5 190.28h1.5M198.5 190.28h1.5M204.5 190.28h1.5M228.5 190.28h1.5M269 190.28h1.5M179 195.22h1.5M194 195.22h1.5M207.5 195.22h1.5M225.5 195.22h1.5M230 195.22h1.5M257 195.22h1.5M284 195.22h1.5"/><path stroke="#a8b4f2" stroke-width="4.93" d="M63.5 170.56h1.5M74 170.56h1.5M87.5 170.56h1.5M93.5 170.56h1.5M110 170.56h1.5M222.5 170.56h1.5M239 170.56h1.5M248 170.56h1.5M254 170.56h1.5M66.5 175.5h4.5M128 175.5h1.5M135.5 175.5h1.5M261.5 175.5h1.5M284 175.5h1.5M293 175.5h1.5M309.5 175.5h1.5M53 180.42h3M77 180.42h1.5M81.5 180.42h1.5M93.5 180.42h1.5M102.5 180.42h3M111.5 180.42h1.5M116 180.42h1.5M131 180.42h1.5M134 180.42h1.5M138.5 180.42h1.5M143 180.42h1.5M165.5 180.42h1.5M53 185.35h1.5M60.5 185.35h3M68 185.35h1.5M78.5 185.35h1.5M87.5 185.35h3M140 185.35h1.5M153.5 185.35h1.5M74 190.28h1.5M89 190.28h1.5M93.5 190.28h1.5M98 190.28h1.5M102.5 190.28h1.5M120.5 190.28h1.5M128 190.28h3M134 190.28h1.5M143 190.28h1.5M285.5 190.28h1.5M296 190.28h1.5M305 190.28h1.5M309.5 190.28h1.5M62 195.22h1.5M75.5 195.22h1.5M87.5 195.22h1.5M93.5 195.22h3M99.5 195.22h1.5M119 195.22h1.5M123.5 195.22h1.5M131 195.22h1.5M273.5 195.22h1.5"/><path stroke="#c1c7ec" stroke-width="4.93" d="M68 170.56h1.5M81.5 170.56h1.5M92 170.56h1.5M108.5 170.56h1.5M125 170.56h1.5M129.5 170.56h3M135.5 170.56h3M149 170.56h3M153.5 170.56h1.5M156.5 170.56h1.5M164 170.56h1.5M168.5 170.56h1.5M183.5 170.56h1.5M206 170.56h1.5M210.5 170.56h1.5M219.5 170.56h3M243.5 170.56h1.5M246.5 170.56h1.5M290 170.56h1.5M293 170.56h1.5M309.5 170.56h3M318.5 170.56h1.5M329 170.56h1.5M339.5 170.56h1.5M60.5 175.5h1.5M63.5 175.5h1.5M71 175.5h1.5M84.5 175.5h1.5M107 175.5h3M116 175.5h1.5M141.5 175.5h1.5M206 175.5h1.5M218 175.5h1.5M246.5 175.5h1.5M264.5 175.5h1.5M273.5 175.5h1.5M285.5 175.5h1.5M297.5 175.5h1.5M300.5 175.5h1.5M305 175.5h1.5M312.5 175.5h1.5M320 175.5h1.5M338 175.5h1.5M57.5 180.42h1.5M146 180.42h1.5M152 180.42h1.5M155 180.42h3M174.5 180.42h1.5M177.5 180.42h1.5M191 180.42h1.5M209 180.42h1.5M222.5 180.42h1.5M233 180.42h1.5M245 180.42h3M258.5 180.42h1.5M150.5 185.35h1.5M158 185.35h1.5M168.5 185.35h1.5M189.5 185.35h1.5M63.5 190.28h1.5M68 190.28h1.5M87.5 190.28h1.5M185 190.28h1.5M191 190.28h1.5M194 190.28h1.5M201.5 190.28h1.5M216.5 190.28h3M221 190.28h1.5M224 190.28h1.5M231.5 190.28h1.5M272 190.28h1.5M278 190.28h1.5M57.5 195.22h1.5M120.5 195.22h1.5M140 195.22h1.5M158 195.22h1.5M222.5 195.22h1.5"/><path stroke="#f0ceac" stroke-width="4.93" d="M71 170.56h1.5M84.5 170.56h3M113 170.56h1.5M138.5 170.56h1.5M251 170.56h1.5M258.5 170.56h1.5M264.5 170.56h1.5M315.5 170.56h1.5M93.5 175.5h1.5M123.5 175.5h1.5M179 175.5h1.5M186.5 175.5h1.5M192.5 175.5h1.5M213.5 175.5h1.5M222.5 175.5h1.5M276.5 175.5h1.5M315.5 175.5h1.5M321.5 175.5h1.5M332 175.5h1.5M86 180.42h1.5M182 180.42h1.5M188 180.42h1.5M216.5 180.42h1.5M224 180.42h1.5M239 180.42h1.5M251 180.42h1.5M254 180.42h1.5M285.5 180.42h1.5M329 180.42h1.5M132.5 185.35h1.5M152 185.35h1.5M173 185.35h1.5M203 185.35h1.5M251 185.35h1.5M264.5 185.35h1.5M267.5 185.35h1.5M317 185.35h1.5M75.5 190.28h1.5M177.5 190.28h1.5M261.5 190.28h1.5M188 195.22h1.5M192.5 195.22h1.5M203 195.22h1.5M219.5 195.22h1.5M258.5 195.22h1.5M263 195.22h1.5M269 195.22h1.5M291.5 195.22h1.5M297.5 195.22h1.5M303.5 195.22h1.5M330.5 195.22h1.5M333.5 195.22h1.5M339.5 195.22h1.5"/><path stroke="#f2c89e" stroke-width="4.93" d="M77 170.56h3M186.5 170.56h1.5M216.5 170.56h1.5M227 170.56h1.5M249.5 170.56h1.5M263 170.56h1.5M269 170.56h1.5M297.5 170.56h1.5M321.5 170.56h1.5M56 175.5h1.5M78.5 175.5h1.5M81.5 175.5h1.5M87.5 175.5h1.5M98 175.5h1.5M101 175.5h1.5M111.5 175.5h1.5M194 175.5h1.5M326 175.5h1.5M335 175.5h1.5M162.5 180.42h1.5M167 180.42h1.5M279.5 180.42h1.5M288.5 180.42h3M293 180.42h1.5M303.5 180.42h1.5M308 180.42h1.5M318.5 180.42h1.5M324.5 180.42h1.5M212 185.35h1.5M273.5 185.35h1.5M276.5 185.35h1.5M282.5 185.35h1.5M285.5 185.35h1.5M288.5 185.35h1.5M299 185.35h1.5M303.5 185.35h1.5M308 185.35h1.5M156.5 195.22h1.5M212 195.22h1.5M252.5 195.22h1.5M261.5 195.22h1.5M287 195.22h1.5M299 195.22h3M305 195.22h4.5M329 195.22h1.5M332 195.22h1.5"/><path stroke="#d2d4e8" stroke-width="4.93" d="M98 170.56h1.5M104 170.56h1.5M111.5 170.56h1.5M122 170.56h1.5M132.5 170.56h1.5M140 170.56h1.5M158 170.56h1.5M165.5 170.56h1.5M173 170.56h3M203 170.56h1.5M207.5 170.56h1.5M233 170.56h1.5M240.5 170.56h1.5M267.5 170.56h1.5M294.5 170.56h1.5M300.5 170.56h1.5M305 170.56h3M57.5 175.5h3M89 175.5h1.5M96.5 175.5h1.5M102.5 175.5h1.5M114.5 175.5h1.5M119 175.5h1.5M134 175.5h1.5M149 175.5h1.5M165.5 175.5h1.5M185 175.5h1.5M188 175.5h1.5M201.5 175.5h1.5M212 175.5h1.5M219.5 175.5h1.5M225.5 175.5h3M233 175.5h1.5M237.5 175.5h1.5M240.5 175.5h1.5M254 175.5h1.5M258.5 175.5h1.5M269 175.5h1.5M303.5 175.5h1.5M161 180.42h1.5M164 180.42h1.5M171.5 180.42h1.5M180.5 180.42h1.5M185 180.42h1.5M200 180.42h1.5M203 180.42h3M234.5 180.42h1.5M264.5 180.42h1.5M272 180.42h1.5M147.5 185.35h1.5M161 185.35h3M174.5 185.35h1.5M182 185.35h1.5M210.5 185.35h1.5M224 185.35h1.5M263 185.35h1.5M99.5 190.28h1.5M161 190.28h1.5M168.5 190.28h1.5M180.5 190.28h1.5M183.5 190.28h1.5M200 190.28h1.5M225.5 190.28h1.5M258.5 190.28h1.5M266 190.28h1.5M273.5 190.28h1.5M102.5 195.22h1.5M146 195.22h1.5M149 195.22h1.5M155 195.22h1.5M165.5 195.22h1.5M171.5 195.22h1.5M180.5 195.22h1.5M183.5 195.22h1.5M197 195.22h1.5M243.5 195.22h1.5M278 195.22h1.5"/><path stroke="#f4c290" stroke-width="4.93" d="M99.5 170.56h1.5M116 170.56h1.5M170 170.56h1.5M195.5 170.56h1.5M236 170.56h1.5M245 170.56h1.5M279.5 170.56h1.5M288.5 170.56h1.5M95 175.5h1.5M138.5 175.5h1.5M143 175.5h1.5M156.5 175.5h1.5M294.5 175.5h1.5M336.5 175.5h1.5M240.5 180.42h1.5M260 180.42h1.5M266 180.42h1.5M270.5 180.42h1.5M278 180.42h1.5M291.5 180.42h1.5M294.5 180.42h1.5M306.5 180.42h1.5M309.5 180.42h1.5M315.5 180.42h3M320 180.42h1.5M327.5 180.42h1.5M155 185.35h1.5M191 185.35h1.5M197 185.35h1.5M227 185.35h1.5M231.5 185.35h1.5M239 185.35h3M245 185.35h1.5M272 185.35h1.5M281 185.35h1.5M297.5 185.35h1.5M300.5 185.35h1.5M306.5 185.35h1.5M320 185.35h1.5M324.5 185.35h1.5M338 185.35h1.5M147.5 195.22h1.5M168.5 195.22h1.5M173 195.22h1.5M279.5 195.22h1.5M288.5 195.22h3M309.5 195.22h3M315.5 195.22h1.5M324.5 195.22h3M335 195.22h1.5"/><path stroke="#7a87f5" stroke-width="4.93" d="M107 170.56h1.5M276.5 170.56h1.5M69.5 180.42h1.5M92 180.42h1.5M98 180.42h1.5M101 180.42h1.5M84.5 185.35h1.5M107 185.35h1.5M138.5 185.35h1.5M290 190.28h1.5M293 190.28h1.5M299 190.28h3M330.5 190.28h1.5M66.5 195.22h1.5M81.5 195.22h1.5M92 195.22h1.5M108.5 195.22h1.5M128 195.22h1.5M135.5 195.22h1.5M144.5 195.22h1.5"/><path stroke="#ded2d0" stroke-width="4.93" d="M114.5 170.56h1.5M123.5 170.56h1.5M147.5 170.56h1.5M176 170.56h1.5M230 170.56h1.5M234.5 170.56h1.5M296 170.56h1.5M117.5 175.5h1.5M131 175.5h1.5M159.5 175.5h1.5M171.5 175.5h1.5M174.5 175.5h1.5M195.5 175.5h1.5M210.5 175.5h1.5M216.5 175.5h1.5M224 175.5h1.5M231.5 175.5h1.5M251 175.5h1.5M260 175.5h1.5M329 175.5h1.5M173 180.42h1.5M176 180.42h1.5M183.5 180.42h1.5M186.5 180.42h1.5M194 180.42h1.5M198.5 180.42h1.5M201.5 180.42h1.5M249.5 180.42h1.5M69.5 185.35h1.5M143 185.35h1.5M159.5 185.35h1.5M164 185.35h1.5M167 185.35h1.5M179 185.35h1.5M195.5 185.35h1.5M207.5 185.35h3M215 185.35h1.5M218 185.35h3M225.5 185.35h1.5M228.5 185.35h1.5M234.5 185.35h1.5M242 185.35h1.5M246.5 185.35h1.5M249.5 185.35h1.5M261.5 185.35h1.5M269 185.35h1.5M170 190.28h1.5M207.5 190.28h3M84.5 195.22h1.5M159.5 195.22h3M170 195.22h1.5M176 195.22h1.5M189.5 195.22h1.5M195.5 195.22h1.5M200 195.22h1.5M231.5 195.22h1.5M246.5 195.22h1.5M254 195.22h1.5M281 195.22h1.5"/><path stroke="#d8d3dc" stroke-width="4.93" d="M119 170.56h1.5M134 170.56h1.5M141.5 170.56h1.5M159.5 170.56h3M177.5 170.56h3M185 170.56h1.5M188 170.56h1.5M194 170.56h1.5M198.5 170.56h3M209 170.56h1.5M212 170.56h1.5M237.5 170.56h1.5M242 170.56h1.5M255.5 170.56h1.5M287 170.56h1.5M291.5 170.56h1.5M320 170.56h1.5M332 170.56h1.5M77 175.5h1.5M80 175.5h1.5M86 175.5h1.5M99.5 175.5h1.5M129.5 175.5h1.5M146 175.5h3M155 175.5h1.5M168.5 175.5h1.5M173 175.5h1.5M177.5 175.5h1.5M243.5 175.5h1.5M257 175.5h1.5M263 175.5h1.5M266 175.5h1.5M270.5 175.5h3M275 175.5h1.5M278 175.5h1.5M296 175.5h1.5M314 175.5h1.5M78.5 180.42h1.5M119 180.42h1.5M207.5 180.42h1.5M210.5 180.42h1.5M213.5 180.42h1.5M218 180.42h1.5M221 180.42h1.5M228.5 180.42h1.5M243.5 180.42h1.5M263 180.42h1.5M267.5 180.42h1.5M71 185.35h1.5M113 185.35h1.5M165.5 185.35h1.5M176 185.35h3M180.5 185.35h1.5M194 185.35h1.5M213.5 185.35h1.5M233 185.35h1.5M260 185.35h1.5M275 185.35h1.5M78.5 190.28h1.5M86 190.28h1.5M141.5 190.28h1.5M147.5 190.28h6M156.5 190.28h1.5M165.5 190.28h1.5M171.5 190.28h1.5M174.5 190.28h3M192.5 190.28h1.5M203 190.28h1.5M210.5 190.28h1.5M213.5 190.28h1.5M219.5 190.28h1.5M222.5 190.28h1.5M230 190.28h1.5M234.5 190.28h4.5M251 190.28h3M276.5 190.28h1.5M53 195.22h1.5M60.5 195.22h1.5M174.5 195.22h1.5M198.5 195.22h1.5M218 195.22h1.5M221 195.22h1.5M239 195.22h3M255.5 195.22h1.5M264.5 195.22h1.5M267.5 195.22h1.5"/><path stroke="#f6bc82" stroke-width="4.93" d="M152 170.56h1.5M218 170.56h1.5M327.5 170.56h1.5M65 175.5h1.5M164 175.5h1.5M234.5 175.5h1.5M150.5 180.42h1.5M195.5 180.42h1.5M305 180.42h1.5M312.5 180.42h1.5M321.5 180.42h1.5M326 180.42h1.5M335 180.42h1.5M252.5 185.35h1.5M266 185.35h1.5M284 185.35h1.5M287 185.35h1.5M309.5 185.35h1.5M318.5 185.35h1.5M321.5 185.35h1.5M182 190.28h1.5M188 190.28h3M215 190.28h1.5M191 195.22h1.5M237.5 195.22h1.5M314 195.22h1.5M327.5 195.22h1.5M336.5 195.22h3"/><path stroke="#eacfb8" stroke-width="4.93" d="M167 170.56h1.5M126.5 175.5h1.5M150.5 175.5h1.5M153.5 175.5h1.5M167 175.5h1.5M182 175.5h3M203 175.5h1.5M209 175.5h1.5M221 175.5h1.5M99.5 180.42h1.5M149 180.42h1.5M179 180.42h1.5M189.5 180.42h1.5M206 180.42h1.5M237.5 180.42h1.5M281 180.42h1.5M302 180.42h1.5M192.5 185.35h1.5M206 185.35h1.5M216.5 185.35h1.5M236 185.35h1.5M255.5 185.35h1.5M290 185.35h1.5M293 185.35h1.5M155 190.28h1.5M167 190.28h1.5M173 190.28h1.5M233 190.28h1.5M150.5 195.22h1.5M209 195.22h3M215 195.22h3M224 195.22h1.5M227 195.22h3M236 195.22h1.5M242 195.22h1.5M245 195.22h1.5M248 195.22h4.5M260 195.22h1.5M285.5 195.22h1.5M302 195.22h1.5"/><path stroke="#fba958" stroke-width="4.93" d="M182 170.56h1.5M231.5 170.56h1.5M252.5 170.56h1.5M314 170.56h1.5M330.5 170.56h1.5M161 175.5h1.5M219.5 180.42h1.5M257 180.42h1.5M186.5 185.35h1.5M296 185.35h1.5M233 195.22h1.5M296 195.22h1.5"/><path stroke="#fab066" stroke-width="4.93" d="M197 170.56h1.5M260 170.56h1.5M282.5 170.56h1.5M317 170.56h1.5M230 180.42h1.5M296 180.42h1.5M336.5 180.42h3M230 185.35h1.5M270.5 185.35h1.5M278 185.35h1.5M335 185.35h3M56 190.28h1.5M167 195.22h1.5M177.5 195.22h1.5M270.5 195.22h1.5M282.5 195.22h1.5M312.5 195.22h1.5"/><path stroke="#9ca9f3" stroke-width="4.93" d="M213.5 170.56h1.5M53 175.5h1.5M152 175.5h1.5M339.5 175.5h1.5M56 180.42h1.5M60.5 180.42h1.5M66.5 180.42h1.5M80 180.42h1.5M84.5 180.42h1.5M87.5 180.42h3M108.5 180.42h1.5M120.5 180.42h6M135.5 180.42h1.5M56 185.35h1.5M65 185.35h1.5M74 185.35h1.5M95 185.35h1.5M101 185.35h4.5M108.5 185.35h1.5M114.5 185.35h3M119 185.35h1.5M123.5 185.35h3M129.5 185.35h1.5M135.5 185.35h3M66.5 190.28h1.5M71 190.28h1.5M101 190.28h1.5M105.5 190.28h1.5M113 190.28h1.5M131 190.28h1.5M158 190.28h1.5M267.5 190.28h1.5M279.5 190.28h3M297.5 190.28h1.5M314 190.28h1.5M77 195.22h1.5M90.5 195.22h1.5M116 195.22h1.5M134 195.22h1.5M138.5 195.22h1.5M152 195.22h1.5"/><path stroke="#606bf8" stroke-width="4.93" d="M273.5 170.56h1.5M63.5 185.35h1.5M96.5 185.35h1.5M104 190.28h1.5M122 190.28h1.5M317 190.28h1.5M321.5 190.28h1.5M324.5 190.28h1.5M329 190.28h1.5M332 190.28h1.5M80 195.22h1.5"/><path stroke="#f8b674" stroke-width="4.93" d="M170 175.5h1.5M189.5 175.5h1.5M197 175.5h1.5M207.5 175.5h1.5M255.5 175.5h1.5M192.5 180.42h1.5M297.5 180.42h1.5M311 180.42h1.5M314 180.42h1.5M323 180.42h1.5M330.5 180.42h1.5M333.5 180.42h1.5M339.5 180.42h1.5M237.5 185.35h1.5M279.5 185.35h1.5M294.5 185.35h1.5M305 185.35h1.5M311 185.35h1.5M315.5 185.35h1.5M330.5 185.35h3M54.5 190.28h1.5M201.5 195.22h1.5M323 195.22h1.5"/><path stroke="#8592f4" stroke-width="4.93" d="M59 180.42h1.5M71 180.42h1.5M74 180.42h1.5M96.5 180.42h1.5M107 180.42h1.5M114.5 180.42h1.5M126.5 180.42h1.5M129.5 180.42h1.5M153.5 180.42h1.5M66.5 185.35h1.5M83 185.35h1.5M138.5 190.28h1.5M294.5 190.28h1.5M303.5 190.28h1.5M306.5 190.28h3M54.5 195.22h1.5M71 195.22h1.5M89 195.22h1.5M98 195.22h1.5M101 195.22h1.5M111.5 195.22h3M122 195.22h1.5M126.5 195.22h1.5M132.5 195.22h1.5"/><path stroke="#6e7cf6" stroke-width="4.93" d="M110 180.42h1.5M72.5 185.35h1.5M110 185.35h1.5M126.5 185.35h1.5M107 190.28h1.5M302 190.28h1.5M311 190.28h3M315.5 190.28h1.5M320 190.28h1.5M326 190.28h1.5M335 190.28h1.5M107 195.22h1.5M110 195.22h1.5M117.5 195.22h1.5M137 195.22h1.5"/><path stroke="#525afa" stroke-width="4.93" d="M144.5 180.42h1.5M134 185.35h1.5M318.5 190.28h1.5M339.5 190.28h1.5M72.5 195.22h1.5"/><path stroke="#fd9a3b" stroke-width="4.93" d="M255.5 180.42h1.5M273.5 180.42h1.5M287 180.42h1.5M299 180.42h1.5M291.5 185.35h1.5M323 185.35h1.5M53 190.28h1.5M186.5 195.22h1.5M293 195.22h1.5"/><path stroke="#fca249" stroke-width="4.93" d="M261.5 180.42h1.5M257 185.35h1.5M339.5 185.35h1.5M266 195.22h1.5M317 195.22h1.5"/><path stroke="#fe932c" stroke-width="4.93" d="M282.5 180.42h1.5M312.5 185.35h1.5M294.5 195.22h1.5M321.5 195.22h1.5"/><path stroke="#ff8c1e" stroke-width="4.93" d="M300.5 180.42h1.5M332 180.42h1.5M302 185.35h1.5M314 185.35h1.5M326 185.35h4.5M333.5 185.35h1.5M57.5 190.28h1.5M318.5 195.22h3"/><path stroke="#444afb" stroke-width="4.93" d="M144.5 185.35h1.5M327.5 190.28h1.5M338 190.28h1.5"/><path stroke="#3639fd" stroke-width="4.93" d="M284 190.28h1.5M105.5 195.22h1.5"/><path stroke="#2828ff" stroke-width="4.93" d="M323 190.28h1.5M336.5 190.28h1.5"/></g><g fill="none"><path stroke="#c1c7ec" stroke-width="4.93" d="M53 201.27h1.5M144.5 201.27h4.5M231.5 201.27h1.5M239 201.27h1.5M290 201.27h1.5M299 201.27h3M308 201.27h3M315.5 201.27h1.5M318.5 201.27h1.5M336.5 201.27h1.5M57.5 206.2h1.5M65 206.2h1.5M80 206.2h1.5M122 206.2h1.5M138.5 206.2h1.5M141.5 206.2h1.5M147.5 206.2h1.5M162.5 206.2h3M179 206.2h3M183.5 206.2h1.5M186.5 206.2h1.5M189.5 206.2h1.5M200 206.2h1.5M221 206.2h1.5M224 206.2h1.5M228.5 206.2h1.5M239 206.2h1.5M242 206.2h1.5M249.5 206.2h1.5M261.5 206.2h1.5M294.5 206.2h1.5M315.5 206.2h1.5M68 211.13h1.5M83 211.13h4.5M89 211.13h1.5M92 211.13h1.5M95 211.13h1.5M101 211.13h1.5M120.5 211.13h3M126.5 211.13h1.5M161 211.13h1.5M174.5 211.13h1.5M207.5 211.13h1.5M210.5 211.13h1.5M222.5 211.13h1.5M231.5 211.13h1.5M236 211.13h1.5M264.5 211.13h1.5M333.5 211.13h1.5M78.5 216.06h1.5M84.5 216.06h1.5M101 216.06h4.5M108.5 216.06h3M147.5 216.06h1.5M150.5 216.06h1.5M179 216.06h4.5M188 216.06h3M194 216.06h1.5M228.5 216.06h1.5M231.5 216.06h1.5M245 216.06h1.5M264.5 216.06h1.5M95 220.99h1.5M98 220.99h1.5M101 220.99h1.5M149 220.99h1.5M156.5 220.99h1.5M167 220.99h1.5M174.5 220.99h1.5M222.5 220.99h1.5M254 220.99h1.5"/><path stroke="#b9c1ee" stroke-width="4.93" d="M54.5 201.27h1.5M57.5 201.27h1.5M155 201.27h1.5M248 201.27h1.5M252.5 201.27h1.5M275 201.27h1.5M285.5 201.27h3M302 201.27h1.5M306.5 201.27h1.5M324.5 201.27h3M339.5 201.27h1.5M53 206.2h1.5M68 206.2h1.5M149 206.2h1.5M152 206.2h1.5M155 206.2h1.5M165.5 206.2h1.5M170 206.2h1.5M173 206.2h3M182 206.2h1.5M195.5 206.2h3M204.5 206.2h3M237.5 206.2h1.5M243.5 206.2h1.5M264.5 206.2h1.5M272 206.2h1.5M278 206.2h1.5M284 206.2h1.5M296 206.2h1.5M303.5 206.2h4.5M309.5 206.2h3M53 211.13h1.5M69.5 211.13h1.5M81.5 211.13h1.5M87.5 211.13h1.5M93.5 211.13h1.5M98 211.13h1.5M102.5 211.13h3M107 211.13h1.5M111.5 211.13h1.5M119 211.13h1.5M123.5 211.13h1.5M141.5 211.13h3M152 211.13h1.5M158 211.13h1.5M162.5 211.13h1.5M189.5 211.13h1.5M194 211.13h1.5M228.5 211.13h3M239 211.13h1.5M317 211.13h1.5M335 211.13h1.5M53 216.06h1.5M62 216.06h1.5M71 216.06h1.5M90.5 216.06h1.5M119 216.06h1.5M122 216.06h1.5M125 216.06h1.5M129.5 216.06h3M153.5 216.06h1.5M156.5 216.06h1.5M161 216.06h1.5M176 216.06h1.5M195.5 216.06h1.5M198.5 216.06h1.5M216.5 216.06h3M53 220.99h1.5M65 220.99h1.5M72.5 220.99h1.5M86 220.99h1.5M89 220.99h1.5M107 220.99h1.5M110 220.99h4.5M116 220.99h1.5M119 220.99h1.5M123.5 220.99h1.5M126.5 220.99h1.5M129.5 220.99h3M135.5 220.99h1.5M168.5 220.99h1.5M173 220.99h1.5M233 220.99h1.5M273.5 220.99h1.5"/><path stroke="#a8b4f2" stroke-width="4.93" d="M56 201.27h1.5M158 201.27h1.5M284 201.27h1.5M294.5 201.27h4.5M317 201.27h1.5M320 201.27h1.5M332 201.27h4.5M54.5 206.2h1.5M161 206.2h1.5M176 206.2h1.5M276.5 206.2h1.5M293 206.2h1.5M321.5 206.2h1.5M333.5 206.2h1.5M63.5 211.13h1.5M66.5 211.13h1.5M77 211.13h1.5M96.5 211.13h1.5M113 211.13h1.5M117.5 211.13h1.5M149 211.13h1.5M182 211.13h1.5M215 211.13h1.5M59 216.06h1.5M66.5 216.06h1.5M72.5 216.06h1.5M92 216.06h3M105.5 216.06h3M111.5 216.06h1.5M137 216.06h1.5M143 216.06h3M152 216.06h1.5M173 216.06h1.5M192.5 216.06h1.5M197 216.06h1.5M201.5 216.06h1.5M206 216.06h1.5M71 220.99h1.5M102.5 220.99h1.5M105.5 220.99h1.5M158 220.99h1.5M260 220.99h1.5"/><path stroke="#d8d3dc" stroke-width="4.93" d="M59 201.27h1.5M84.5 201.27h1.5M93.5 201.27h1.5M96.5 201.27h1.5M110 201.27h1.5M119 201.27h1.5M131 201.27h1.5M149 201.27h1.5M153.5 201.27h1.5M156.5 201.27h1.5M159.5 201.27h1.5M164 201.27h1.5M176 201.27h1.5M179 201.27h4.5M203 201.27h1.5M213.5 201.27h1.5M221 201.27h1.5M225.5 201.27h1.5M243.5 201.27h3M251 201.27h1.5M264.5 201.27h3M312.5 201.27h1.5M77 206.2h1.5M87.5 206.2h1.5M93.5 206.2h1.5M98 206.2h3M132.5 206.2h1.5M219.5 206.2h1.5M251 206.2h1.5M273.5 206.2h1.5M312.5 206.2h1.5M326 206.2h1.5M134 211.13h1.5M140 211.13h1.5M188 211.13h1.5M204.5 211.13h1.5M227 211.13h1.5M251 211.13h1.5M260 211.13h1.5M270.5 211.13h1.5M273.5 211.13h1.5M284 211.13h1.5M302 211.13h1.5M338 211.13h1.5M140 216.06h1.5M164 216.06h1.5M191 216.06h1.5M204.5 216.06h1.5M215 216.06h1.5M219.5 216.06h1.5M233 216.06h1.5M243.5 216.06h1.5M252.5 216.06h1.5M267.5 216.06h3M74 220.99h1.5M92 220.99h1.5M122 220.99h1.5M137 220.99h1.5M146 220.99h1.5M150.5 220.99h3M182 220.99h1.5M188 220.99h1.5M198.5 220.99h1.5M209 220.99h1.5M212 220.99h3M216.5 220.99h1.5M239 220.99h1.5M269 220.99h1.5M276.5 220.99h1.5"/><path stroke="#fba958" stroke-width="4.93" d="M60.5 201.27h1.5M135.5 201.27h1.5M62 206.2h1.5M266 211.13h1.5M279.5 211.13h1.5M315.5 211.13h1.5M291.5 216.06h1.5M309.5 216.06h1.5M335 216.06h1.5M318.5 220.99h1.5"/><path stroke="#e4d0c4" stroke-width="4.93" d="M62 201.27h1.5M66.5 201.27h1.5M74 201.27h1.5M87.5 201.27h1.5M113 201.27h1.5M126.5 201.27h1.5M143 201.27h1.5M171.5 201.27h3M185 201.27h1.5M188 201.27h1.5M195.5 201.27h1.5M198.5 201.27h1.5M224 201.27h1.5M237.5 201.27h1.5M327.5 201.27h1.5M81.5 206.2h1.5M92 206.2h1.5M168.5 206.2h1.5M198.5 206.2h1.5M339.5 206.2h1.5M167 211.13h1.5M221 211.13h1.5M237.5 211.13h1.5M249.5 211.13h1.5M281 211.13h1.5M299 211.13h1.5M308 211.13h1.5M314 211.13h1.5M326 211.13h1.5M171.5 216.06h1.5M227 216.06h1.5M240.5 216.06h1.5M248 216.06h1.5M255.5 216.06h1.5M258.5 216.06h1.5M266 216.06h1.5M273.5 216.06h1.5M317 216.06h1.5M77 220.99h1.5M134 220.99h1.5M138.5 220.99h1.5M183.5 220.99h1.5M227 220.99h3M251 220.99h1.5M270.5 220.99h1.5M333.5 220.99h1.5"/><path stroke="#caceea" stroke-width="4.93" d="M63.5 201.27h1.5M89 201.27h1.5M107 201.27h1.5M114.5 201.27h1.5M141.5 201.27h1.5M152 201.27h1.5M165.5 201.27h1.5M170 201.27h1.5M197 201.27h1.5M201.5 201.27h1.5M204.5 201.27h4.5M216.5 201.27h4.5M222.5 201.27h1.5M230 201.27h1.5M255.5 201.27h1.5M279.5 201.27h1.5M329 201.27h1.5M69.5 206.2h1.5M74 206.2h1.5M84.5 206.2h1.5M101 206.2h3M114.5 206.2h6M135.5 206.2h1.5M146 206.2h1.5M153.5 206.2h1.5M156.5 206.2h1.5M194 206.2h1.5M209 206.2h1.5M218 206.2h1.5M227 206.2h1.5M231.5 206.2h3M236 206.2h1.5M258.5 206.2h1.5M270.5 206.2h1.5M275 206.2h1.5M302 206.2h1.5M330.5 206.2h3M72.5 211.13h1.5M137 211.13h1.5M147.5 211.13h1.5M176 211.13h1.5M186.5 211.13h1.5M213.5 211.13h1.5M216.5 211.13h1.5M225.5 211.13h1.5M233 211.13h1.5M240.5 211.13h1.5M245 211.13h1.5M257 211.13h1.5M275 211.13h1.5M293 211.13h1.5M57.5 216.06h1.5M77 216.06h1.5M81.5 216.06h1.5M116 216.06h3M159.5 216.06h1.5M174.5 216.06h1.5M200 216.06h1.5M203 216.06h1.5M221 216.06h1.5M237.5 216.06h1.5M254 216.06h1.5M54.5 220.99h1.5M80 220.99h3M90.5 220.99h1.5M108.5 220.99h1.5M120.5 220.99h1.5M128 220.99h1.5M155 220.99h1.5M159.5 220.99h1.5M165.5 220.99h1.5M176 220.99h4.5M189.5 220.99h1.5M201.5 220.99h1.5M206 220.99h1.5M210.5 220.99h1.5M248 220.99h1.5M263 220.99h1.5"/><path stroke="#b0baf0" stroke-width="4.93" d="M65 201.27h1.5M137 201.27h1.5M191 201.27h1.5M272 201.27h1.5M282.5 201.27h1.5M321.5 201.27h1.5M56 206.2h1.5M192.5 206.2h1.5M203 206.2h1.5M230 206.2h1.5M246.5 206.2h3M260 206.2h1.5M269 206.2h1.5M279.5 206.2h1.5M297.5 206.2h1.5M308 206.2h1.5M320 206.2h1.5M323 206.2h1.5M74 211.13h3M78.5 211.13h1.5M99.5 211.13h1.5M105.5 211.13h1.5M110 211.13h1.5M131 211.13h3M146 211.13h1.5M150.5 211.13h1.5M156.5 211.13h1.5M168.5 211.13h3M179 211.13h3M185 211.13h1.5M191 211.13h3M197 211.13h1.5M200 211.13h1.5M248 211.13h1.5M255.5 211.13h1.5M54.5 216.06h1.5M65 216.06h1.5M68 216.06h3M80 216.06h1.5M89 216.06h1.5M96.5 216.06h4.5M120.5 216.06h1.5M126.5 216.06h3M132.5 216.06h1.5M135.5 216.06h1.5M146 216.06h1.5M149 216.06h1.5M155 216.06h1.5M158 216.06h1.5M75.5 220.99h1.5M84.5 220.99h1.5M87.5 220.99h1.5M132.5 220.99h1.5M141.5 220.99h4.5"/><path stroke="#ded2d0" stroke-width="4.93" d="M68 201.27h1.5M78.5 201.27h1.5M81.5 201.27h1.5M105.5 201.27h1.5M111.5 201.27h1.5M120.5 201.27h6M132.5 201.27h1.5M138.5 201.27h3M161 201.27h1.5M167 201.27h1.5M177.5 201.27h1.5M186.5 201.27h1.5M189.5 201.27h1.5M200 201.27h1.5M210.5 201.27h1.5M233 201.27h1.5M242 201.27h1.5M246.5 201.27h1.5M257 201.27h1.5M267.5 201.27h1.5M71 206.2h1.5M75.5 206.2h1.5M89 206.2h3M108.5 206.2h1.5M113 206.2h1.5M123.5 206.2h1.5M159.5 206.2h1.5M171.5 206.2h1.5M201.5 206.2h1.5M216.5 206.2h1.5M318.5 206.2h1.5M135.5 211.13h1.5M153.5 211.13h1.5M177.5 211.13h1.5M206 211.13h1.5M258.5 211.13h1.5M272 211.13h1.5M287 211.13h1.5M291.5 211.13h1.5M297.5 211.13h1.5M300.5 211.13h1.5M303.5 211.13h1.5M318.5 211.13h3M323 211.13h1.5M327.5 211.13h1.5M207.5 216.06h3M224 216.06h1.5M234.5 216.06h1.5M261.5 216.06h3M276.5 216.06h3M185 220.99h1.5M191 220.99h1.5M194 220.99h4.5M200 220.99h1.5M203 220.99h1.5M218 220.99h3M225.5 220.99h1.5M255.5 220.99h1.5M293 220.99h1.5"/><path stroke="#f0ceac" stroke-width="4.93" d="M69.5 201.27h3M92 201.27h1.5M101 201.27h1.5M209 201.27h1.5M254 201.27h1.5M258.5 201.27h1.5M263 201.27h1.5M314 201.27h1.5M212 206.2h1.5M222.5 206.2h1.5M257 206.2h1.5M71 211.13h1.5M125 211.13h1.5M128 211.13h1.5M171.5 211.13h1.5M267.5 211.13h1.5M321.5 211.13h1.5M329 211.13h1.5M339.5 211.13h1.5M297.5 216.06h1.5M306.5 216.06h1.5M324.5 216.06h1.5M330.5 216.06h1.5M60.5 220.99h1.5M93.5 220.99h1.5M170 220.99h1.5M207.5 220.99h1.5M245 220.99h1.5M257 220.99h1.5M266 220.99h1.5M281 220.99h3M285.5 220.99h1.5M288.5 220.99h1.5M294.5 220.99h3M299 220.99h1.5M302 220.99h1.5M321.5 220.99h1.5M324.5 220.99h1.5M338 220.99h1.5"/><path stroke="#eacfb8" stroke-width="4.93" d="M72.5 201.27h1.5M90.5 201.27h1.5M183.5 201.27h1.5M192.5 201.27h1.5M240.5 201.27h1.5M288.5 201.27h1.5M63.5 206.2h1.5M83 206.2h1.5M95 206.2h1.5M134 206.2h1.5M143 206.2h1.5M215 206.2h1.5M116 211.13h1.5M195.5 211.13h1.5M234.5 211.13h1.5M252.5 211.13h1.5M278 211.13h1.5M282.5 211.13h1.5M311 211.13h1.5M330.5 211.13h1.5M134 216.06h1.5M222.5 216.06h1.5M239 216.06h1.5M251 216.06h1.5M270.5 216.06h1.5M284 216.06h1.5M288.5 216.06h1.5M302 216.06h1.5M333.5 216.06h1.5M104 220.99h1.5M147.5 220.99h1.5M153.5 220.99h1.5M234.5 220.99h1.5M237.5 220.99h1.5M240.5 220.99h1.5M246.5 220.99h1.5M249.5 220.99h1.5M264.5 220.99h1.5M267.5 220.99h1.5M278 220.99h1.5M291.5 220.99h1.5M303.5 220.99h3"/><path stroke="#d2d4e8" stroke-width="4.93" d="M75.5 201.27h1.5M80 201.27h1.5M83 201.27h1.5M86 201.27h1.5M98 201.27h3M102.5 201.27h3M116 201.27h3M168.5 201.27h1.5M194 201.27h1.5M227 201.27h3M236 201.27h1.5M260 201.27h1.5M270.5 201.27h1.5M273.5 201.27h1.5M59 206.2h1.5M72.5 206.2h1.5M86 206.2h1.5M104 206.2h1.5M107 206.2h1.5M129.5 206.2h1.5M150.5 206.2h1.5M234.5 206.2h1.5M240.5 206.2h1.5M245 206.2h1.5M252.5 206.2h1.5M263 206.2h1.5M266 206.2h1.5M290 206.2h1.5M314 206.2h1.5M327.5 206.2h1.5M338 206.2h1.5M57.5 211.13h3M62 211.13h1.5M65 211.13h1.5M108.5 211.13h1.5M144.5 211.13h1.5M164 211.13h1.5M198.5 211.13h1.5M201.5 211.13h1.5M209 211.13h1.5M218 211.13h3M246.5 211.13h1.5M254 211.13h1.5M263 211.13h1.5M269 211.13h1.5M276.5 211.13h1.5M305 211.13h1.5M324.5 211.13h1.5M332 211.13h1.5M74 216.06h1.5M95 216.06h1.5M185 216.06h3M212 216.06h3M225.5 216.06h1.5M246.5 216.06h1.5M279.5 216.06h1.5M57.5 220.99h1.5M96.5 220.99h1.5M125 220.99h1.5M140 220.99h1.5M161 220.99h4.5M171.5 220.99h1.5M180.5 220.99h1.5M192.5 220.99h1.5M204.5 220.99h1.5M215 220.99h1.5M236 220.99h1.5M311 220.99h1.5"/><path stroke="#fab066" stroke-width="4.93" d="M77 201.27h1.5M129.5 201.27h1.5M269 201.27h1.5M285.5 211.13h1.5M287 216.06h1.5M296 216.06h1.5M303.5 216.06h1.5M336.5 216.06h1.5M252.5 220.99h1.5M261.5 220.99h1.5"/><path stroke="#f8b674" stroke-width="4.93" d="M95 201.27h1.5M150.5 201.27h1.5M215 201.27h1.5M96.5 206.2h1.5M111.5 206.2h1.5M120.5 206.2h1.5M131 206.2h1.5M191 206.2h1.5M243.5 211.13h1.5M261.5 211.13h1.5M257 216.06h1.5M281 216.06h1.5M314 216.06h1.5M327.5 216.06h1.5M284 220.99h1.5"/><path stroke="#f6bc82" stroke-width="4.93" d="M108.5 201.27h1.5M261.5 201.27h1.5M66.5 206.2h1.5M110 206.2h1.5M137 206.2h1.5M177.5 206.2h1.5M207.5 206.2h1.5M288.5 206.2h1.5M290 211.13h1.5M210.5 216.06h1.5M230 216.06h1.5M242 216.06h1.5M66.5 220.99h1.5M231.5 220.99h1.5M242 220.99h3M312.5 220.99h1.5M315.5 220.99h1.5M329 220.99h1.5M339.5 220.99h1.5"/><path stroke="#f2c89e" stroke-width="4.93" d="M128 201.27h1.5M174.5 201.27h1.5M60.5 206.2h1.5M125 206.2h3M188 206.2h1.5M254 206.2h1.5M267.5 206.2h1.5M90.5 211.13h1.5M138.5 211.13h1.5M224 211.13h1.5M306.5 211.13h1.5M123.5 216.06h1.5M162.5 216.06h1.5M167 216.06h1.5M236 216.06h1.5M260 216.06h1.5M272 216.06h1.5M285.5 216.06h1.5M293 216.06h1.5M300.5 216.06h1.5M305 216.06h1.5M308 216.06h1.5M311 216.06h1.5M323 216.06h1.5M329 216.06h1.5M221 220.99h1.5M258.5 220.99h1.5M297.5 220.99h1.5M300.5 220.99h1.5M306.5 220.99h1.5M309.5 220.99h1.5M327.5 220.99h1.5"/><path stroke="#fca249" stroke-width="4.93" d="M134 201.27h1.5M336.5 211.13h1.5M249.5 216.06h1.5M318.5 216.06h1.5M279.5 220.99h1.5M308 220.99h1.5M317 220.99h1.5M332 220.99h1.5"/><path stroke="#f4c290" stroke-width="4.93" d="M162.5 201.27h1.5M212 201.27h1.5M234.5 201.27h1.5M249.5 201.27h1.5M78.5 206.2h1.5M105.5 206.2h1.5M128 206.2h1.5M140 206.2h1.5M144.5 206.2h1.5M213.5 206.2h1.5M225.5 206.2h1.5M281 206.2h3M329 206.2h1.5M159.5 211.13h1.5M203 211.13h1.5M294.5 211.13h3M312.5 211.13h1.5M183.5 216.06h1.5M275 216.06h1.5M290 216.06h1.5M294.5 216.06h1.5M299 216.06h1.5M312.5 216.06h1.5M320 216.06h1.5M326 216.06h1.5M332 216.06h1.5M338 216.06h3M62 220.99h1.5M69.5 220.99h1.5M224 220.99h1.5M230 220.99h1.5M272 220.99h1.5M287 220.99h1.5M320 220.99h1.5M326 220.99h1.5M330.5 220.99h1.5M335 220.99h3"/><path stroke="#9ca9f3" stroke-width="4.93" d="M276.5 201.27h1.5M293 201.27h1.5M305 201.27h1.5M311 201.27h1.5M330.5 201.27h1.5M167 206.2h1.5M299 206.2h1.5M317 206.2h1.5M324.5 206.2h1.5M335 206.2h3M54.5 211.13h1.5M60.5 211.13h1.5M165.5 211.13h1.5M212 211.13h1.5M242 211.13h1.5M60.5 216.06h1.5M86 216.06h1.5M114.5 216.06h1.5M141.5 216.06h1.5M168.5 216.06h3M56 220.99h1.5M59 220.99h1.5M63.5 220.99h1.5M275 220.99h1.5"/><path stroke="#919ef4" stroke-width="4.93" d="M278 201.27h1.5M291.5 201.27h1.5M323 201.27h1.5M255.5 206.2h1.5M173 211.13h1.5M183.5 211.13h1.5M56 216.06h1.5M63.5 216.06h1.5M75.5 216.06h1.5M83 216.06h1.5M113 216.06h1.5M165.5 216.06h1.5M177.5 216.06h1.5M68 220.99h1.5M83 220.99h1.5M114.5 220.99h1.5"/><path stroke="#7a87f5" stroke-width="4.93" d="M281 201.27h1.5M158 206.2h1.5M291.5 206.2h1.5M155 211.13h1.5M78.5 220.99h1.5"/><path stroke="#8592f4" stroke-width="4.93" d="M303.5 201.27h1.5M185 206.2h1.5M287 206.2h1.5M56 211.13h1.5M80 211.13h1.5M87.5 216.06h1.5M117.5 220.99h1.5"/><path stroke="#6e7cf6" stroke-width="4.93" d="M338 201.27h1.5M210.5 206.2h1.5M285.5 206.2h1.5M300.5 206.2h1.5M114.5 211.13h1.5M138.5 216.06h1.5M99.5 220.99h1.5"/><path stroke="#606bf8" stroke-width="4.93" d="M129.5 211.13h1.5"/><path stroke="#fe932c" stroke-width="4.93" d="M288.5 211.13h1.5M282.5 216.06h1.5"/><path stroke="#fd9a3b" stroke-width="4.93" d="M309.5 211.13h1.5M321.5 216.06h1.5M186.5 220.99h1.5"/><path stroke="#ff8c1e" stroke-width="4.93" d="M315.5 216.06h1.5M290 220.99h1.5M314 220.99h1.5M323 220.99h1.5"/></g><text transform="translate(38.3 90.99) rotate(-90)" text-anchor="middle" y="2.94" font-size="8.4">LT-HSC</text><text transform="translate(50.2 78.67) rotate(-90) scale(0.8 1)" text-anchor="middle" font-size="6.2">0</text><text transform="translate(50.2 83.59) rotate(-90) scale(0.8 1)" text-anchor="middle" font-size="6.2">1</text><text transform="translate(50.2 88.53) rotate(-90) scale(0.8 1)" text-anchor="middle" font-size="6.2">3</text><text transform="translate(50.2 93.46) rotate(-90) scale(0.8 1)" text-anchor="middle" font-size="6.2">7</text><text transform="translate(50.2 98.39) rotate(-90) scale(0.8 1)" text-anchor="middle" font-size="6.2">14</text><text transform="translate(50.2 103.31) rotate(-90) scale(0.8 1)" text-anchor="middle" font-size="6.2">21</text><text transform="translate(30.8 121.59) rotate(-90)" text-anchor="middle" y="2.94" font-size="8.4">ST-HSC/</text><text transform="translate(38.3 121.59) rotate(-90)" text-anchor="middle" y="2.94" font-size="8.4">MPP1</text><text transform="translate(50.2 109.27) rotate(-90) scale(0.8 1)" text-anchor="middle" font-size="6.2">0</text><text transform="translate(50.2 114.19) rotate(-90) scale(0.8 1)" text-anchor="middle" font-size="6.2">1</text><text transform="translate(50.2 119.12) rotate(-90) scale(0.8 1)" text-anchor="middle" font-size="6.2">3</text><text transform="translate(50.2 124.06) rotate(-90) scale(0.8 1)" text-anchor="middle" font-size="6.2">7</text><text transform="translate(50.2 128.98) rotate(-90) scale(0.8 1)" text-anchor="middle" font-size="6.2">14</text><text transform="translate(50.2 133.91) rotate(-90) scale(0.8 1)" text-anchor="middle" font-size="6.2">21</text><text transform="translate(38.3 152.49) rotate(-90)" text-anchor="middle" y="2.94" font-size="8.4">MPP2</text><text transform="translate(50.2 140.16) rotate(-90) scale(0.8 1)" text-anchor="middle" font-size="6.2">0</text><text transform="translate(50.2 145.09) rotate(-90) scale(0.8 1)" text-anchor="middle" font-size="6.2">1</text><text transform="translate(50.2 150.03) rotate(-90) scale(0.8 1)" text-anchor="middle" font-size="6.2">3</text><text transform="translate(50.2 154.95) rotate(-90) scale(0.8 1)" text-anchor="middle" font-size="6.2">7</text><text transform="translate(50.2 159.88) rotate(-90) scale(0.8 1)" text-anchor="middle" font-size="6.2">14</text><text transform="translate(50.2 164.81) rotate(-90) scale(0.8 1)" text-anchor="middle" font-size="6.2">21</text><text transform="translate(38.3 182.89) rotate(-90)" text-anchor="middle" y="2.94" font-size="8.4">MPP3</text><text transform="translate(50.2 170.56) rotate(-90) scale(0.8 1)" text-anchor="middle" font-size="6.2">0</text><text transform="translate(50.2 175.5) rotate(-90) scale(0.8 1)" text-anchor="middle" font-size="6.2">1</text><text transform="translate(50.2 180.42) rotate(-90) scale(0.8 1)" text-anchor="middle" font-size="6.2">3</text><text transform="translate(50.2 185.35) rotate(-90) scale(0.8 1)" text-anchor="middle" font-size="6.2">7</text><text transform="translate(50.2 190.28) rotate(-90) scale(0.8 1)" text-anchor="middle" font-size="6.2">14</text><text transform="translate(50.2 195.22) rotate(-90) scale(0.8 1)" text-anchor="middle" font-size="6.2">21</text><text transform="translate(38.3 211.12) rotate(-90)" text-anchor="middle" y="2.94" font-size="8.4">MPP4</text><text transform="translate(50.2 201.27) rotate(-90) scale(0.8 1)" text-anchor="middle" font-size="6.2">0</text><text transform="translate(50.2 206.2) rotate(-90) scale(0.8 1)" text-anchor="middle" font-size="6.2">1</text><text transform="translate(50.2 211.13) rotate(-90) scale(0.8 1)" text-anchor="middle" font-size="6.2">3</text><text transform="translate(50.2 216.06) rotate(-90) scale(0.8 1)" text-anchor="middle" font-size="6.2">7</text><text transform="translate(50.2 220.99) rotate(-90) scale(0.8 1)" text-anchor="middle" font-size="6.2">21</text><defs><linearGradient id="gA" x1="0" y1="0" x2="0" y2="1"><stop offset="0" stop-color="#ff8c1e"/><stop offset="0.17" stop-color="#fab066"/><stop offset="0.33" stop-color="#f0ceac"/><stop offset="0.5" stop-color="#d2d4e8"/><stop offset="0.67" stop-color="#a8b4f2"/><stop offset="0.83" stop-color="#6e7cf6"/><stop offset="1" stop-color="#2828ff"/></linearGradient></defs><rect x="342" y="76" width="4.1" height="52.9" fill="url(#gA)"/><text x="347.2" y="77.2" font-size="3.4" fill="#555">1.5</text><text x="347.2" y="86.02" font-size="3.4" fill="#555">1</text><text x="347.2" y="94.83" font-size="3.4" fill="#555">0.5</text><text x="347.2" y="103.65" font-size="3.4" fill="#555">0</text><text x="347.2" y="112.47" font-size="3.4" fill="#555">−0.5</text><text x="347.2" y="121.28" font-size="3.4" fill="#555">−1</text><text x="347.2" y="130.1" font-size="3.4" fill="#555">−1.5</text>
<text x="357.2" y="11" font-size="14.5" font-weight="bold">b</text><text x="402.7" y="49.8" font-size="7.6" text-anchor="middle">DPI</text><text x="442.8" y="49.8" font-size="7.6" text-anchor="middle">Cell type</text><rect x="375" y="53.2" width="6.4" height="28.4" fill="#0000ff"/><text x="378.2" y="70.4" font-size="8.6" text-anchor="middle" fill="#fff">6</text><rect x="382.9" y="53.2" width="39.9" height="28.4" fill="#f58a8a"/><text x="402.85" y="65.9" font-size="7.7" text-anchor="middle">0.48</text><text x="402.85" y="74.5" font-size="7.7" text-anchor="middle">(2e−140)</text><rect x="422.8" y="53.2" width="39.4" height="28.4" fill="#f9c2c2"/><text x="442.5" y="65.9" font-size="7.7" text-anchor="middle">0.28</text><text x="442.5" y="74.5" font-size="7.7" text-anchor="middle">(7e−44)</text><rect x="375" y="81.6" width="6.4" height="28.4" fill="#a52a2a"/><text x="378.2" y="98.8" font-size="8.6" text-anchor="middle" fill="#fff">5</text><rect x="382.9" y="81.6" width="39.9" height="28.4" fill="#fcd6d6"/><text x="402.85" y="94.3" font-size="7.7" text-anchor="middle">0.22</text><text x="402.85" y="102.9" font-size="7.7" text-anchor="middle">(1e−26)</text><text x="442.5" y="94.3" font-size="7.7" text-anchor="middle">−0.021</text><text x="442.5" y="102.9" font-size="7.7" text-anchor="middle">(0.3)</text><rect x="375" y="110" width="6.4" height="28.4" fill="#ffff00"/><text x="378.2" y="127.2" font-size="8.6" text-anchor="middle" fill="#333">1</text><rect x="382.9" y="110" width="39.9" height="28.4" fill="#fcd8d8"/><text x="402.85" y="122.7" font-size="7.7" text-anchor="middle">0.19</text><text x="402.85" y="131.3" font-size="7.7" text-anchor="middle">(6e−22)</text><text x="442.5" y="122.7" font-size="7.7" text-anchor="middle">−0.0031</text><text x="442.5" y="131.3" font-size="7.7" text-anchor="middle">(0.9)</text><rect x="375" y="138.4" width="6.4" height="28.4" fill="#00ee00"/><text x="378.2" y="155.6" font-size="8.6" text-anchor="middle" fill="#333">4</text><text x="402.85" y="151.1" font-size="7.7" text-anchor="middle">−0.024</text><text x="402.85" y="159.7" font-size="7.7" text-anchor="middle">(0.2)</text><text x="442.5" y="151.1" font-size="7.7" text-anchor="middle">−0.021</text><text x="442.5" y="159.7" font-size="7.7" text-anchor="middle">(0.3)</text><rect x="375" y="166.8" width="6.4" height="28.4" fill="#40e0d0"/><text x="378.2" y="184" font-size="8.6" text-anchor="middle" fill="#333">2</text><rect x="382.9" y="166.8" width="39.9" height="28.4" fill="#5fe35f"/><text x="402.85" y="179.5" font-size="7.7" text-anchor="middle">−0.64</text><text x="402.85" y="188.1" font-size="7.7" text-anchor="middle">(6e−275)</text><rect x="422.8" y="166.8" width="39.4" height="28.4" fill="#80ea80"/><text x="442.5" y="179.5" font-size="7.7" text-anchor="middle">−0.52</text><text x="442.5" y="188.1" font-size="7.7" text-anchor="middle">(1e−168)</text><rect x="375" y="195.2" width="6.4" height="28.4" fill="#bebebe"/><text x="378.2" y="212.4" font-size="8.6" text-anchor="middle" fill="#333">3</text><rect x="382.9" y="195.2" width="39.9" height="28.4" fill="#fde9e9"/><text x="402.85" y="207.9" font-size="7.7" text-anchor="middle">0.11</text><text x="402.85" y="216.5" font-size="7.7" text-anchor="middle">(2e−07)</text><text x="442.5" y="207.9" font-size="7.7" text-anchor="middle">−0.026</text><text x="442.5" y="216.5" font-size="7.7" text-anchor="middle">(0.2)</text><defs><linearGradient id="gB" x1="0" y1="0" x2="0" y2="1"><stop offset="0" stop-color="#ff0000"/><stop offset="0.5" stop-color="#ffffff"/><stop offset="1" stop-color="#00e000"/></linearGradient></defs><rect x="473.9" y="55" width="5.6" height="41.6" fill="url(#gB)"/><text transform="translate(469.4 75.8) rotate(-90)" text-anchor="middle" y="2.55" font-size="7.3">Correlation</text><text x="482" y="59.4" font-size="6.6">1</text><text x="482" y="78.2" font-size="6.6">0</text><text x="481.6" y="97.2" font-size="6.6">−1</text>
<text x="497.2" y="11" font-size="14.5" font-weight="bold">c</text><path d="M530 30.3V108.6H668.4" stroke="#222" stroke-width="0.8" fill="none"/><path d="M528 34.3H530" stroke="#222" stroke-width="0.6"/><text x="527.5" y="36.6" font-size="6.5" text-anchor="end" fill="#333">0.50</text><path d="M528 52H530" stroke="#222" stroke-width="0.6"/><text x="527.5" y="54.3" font-size="6.5" text-anchor="end" fill="#333">0.25</text><path d="M528 69.7H530" stroke="#222" stroke-width="0.6"/><text x="527.5" y="72" font-size="6.5" text-anchor="end" fill="#333">0.00</text><path d="M528 87.4H530" stroke="#222" stroke-width="0.6"/><text x="527.5" y="89.7" font-size="6.5" text-anchor="end" fill="#333">−0.25</text><path d="M528 105.1H530" stroke="#222" stroke-width="0.6"/><text x="527.5" y="107.4" font-size="6.5" text-anchor="end" fill="#333">−0.50</text><text transform="translate(508.3 68.4) rotate(-90)" text-anchor="middle" y="2.66" font-size="7.6">Module 2</text><path d="M545.3 32.8C546.32 32.85 549.7 32.53 551.4 33.1C553.1 33.67 554.47 35.18 555.5 36.2C556.53 37.22 557.25 38.18 557.6 39.2C557.95 40.22 557.95 41.27 557.6 42.3C557.25 43.33 556.35 44.38 555.5 45.4C554.65 46.42 553.53 47.38 552.5 48.4C551.47 49.42 550.08 50.47 549.3 51.5C548.52 52.53 548.1 53.07 547.8 54.6C547.5 56.13 547.47 58.83 547.5 60.7C547.53 62.57 548.13 64.27 548 65.8C547.87 67.33 547.05 68.03 546.7 69.9C546.35 71.77 546.13 75.75 545.9 77C545.67 78.25 545.4 77.33 545.3 77.4C545.2 77.47 545.4 77.47 545.3 77.4C545.2 77.33 544.93 78.25 544.7 77C544.47 75.75 544.25 71.77 543.9 69.9C543.55 68.03 542.73 67.33 542.6 65.8C542.47 64.27 543.07 62.57 543.1 60.7C543.13 58.83 543.1 56.13 542.8 54.6C542.5 53.07 542.08 52.53 541.3 51.5C540.52 50.47 539.13 49.42 538.1 48.4C537.07 47.38 535.95 46.42 535.1 45.4C534.25 44.38 533.35 43.33 533 42.3C532.65 41.27 532.65 40.22 533 39.2C533.35 38.18 534.07 37.22 535.1 36.2C536.13 35.18 537.5 33.67 539.2 33.1C540.9 32.53 544.28 32.85 545.3 32.8C546.32 32.75 544.28 32.75 545.3 32.8Z" fill="#d20000"/><path d="M572.3 36C572.43 36.03 572.42 35.48 573.1 36.2C573.78 36.92 575.33 38.6 576.4 40.3C577.47 42 578.65 44.53 579.5 46.4C580.35 48.27 581.68 49.8 581.5 51.5C581.32 53.2 579.42 54.9 578.4 56.6C577.38 58.3 576.08 59.65 575.4 61.7C574.72 63.75 574.37 66.35 574.3 68.9C574.23 71.45 575.07 74.28 575 77C574.93 79.72 574.35 82.13 573.9 85.2C573.45 88.27 572.57 93.7 572.3 95.4C572.03 97.1 572.57 97.1 572.3 95.4C572.03 93.7 571.15 88.27 570.7 85.2C570.25 82.13 569.67 79.72 569.6 77C569.53 74.28 570.37 71.45 570.3 68.9C570.23 66.35 569.88 63.75 569.2 61.7C568.52 59.65 567.22 58.3 566.2 56.6C565.18 54.9 563.28 53.2 563.1 51.5C562.92 49.8 564.25 48.27 565.1 46.4C565.95 44.53 567.13 42 568.2 40.3C569.27 38.6 570.82 36.92 571.5 36.2C572.18 35.48 572.17 36.03 572.3 36C572.43 35.97 572.17 35.97 572.3 36Z" fill="#5b86dc"/><path d="M599.1 39.7C599.2 39.83 599.43 39.05 599.7 40.5C599.97 41.95 600.38 45.37 600.7 48.4C601.02 51.43 601.18 55.28 601.6 58.7C602.02 62.12 602.5 65.5 603.2 68.9C603.9 72.3 605.63 76.03 605.8 79.1C605.97 82.17 604.57 84.92 604.2 87.3C603.83 89.68 603.6 91.37 603.6 93.4C603.6 95.43 604.27 97.87 604.2 99.5C604.13 101.13 604.05 102.52 603.2 103.2C602.35 103.88 599.78 103.53 599.1 103.6C598.42 103.67 599.78 103.67 599.1 103.6C598.42 103.53 595.85 103.88 595 103.2C594.15 102.52 594.07 101.13 594 99.5C593.93 97.87 594.6 95.43 594.6 93.4C594.6 91.37 594.37 89.68 594 87.3C593.63 84.92 592.23 82.17 592.4 79.1C592.57 76.03 594.3 72.3 595 68.9C595.7 65.5 596.18 62.12 596.6 58.7C597.02 55.28 597.18 51.43 597.5 48.4C597.82 45.37 598.23 41.95 598.5 40.5C598.77 39.05 599 39.83 599.1 39.7C599.2 39.57 599 39.57 599.1 39.7Z" fill="#78b400"/><path d="M625.6 46.2C625.68 46.33 625.77 44.92 626.1 47C626.43 49.08 627.17 55.05 627.6 58.7C628.03 62.35 628.18 65.5 628.7 68.9C629.22 72.3 630.3 76.38 630.7 79.1C631.1 81.82 630.93 83.15 631.1 85.2C631.27 87.25 631.18 89.35 631.7 91.4C632.22 93.45 634.2 95.63 634.2 97.5C634.2 99.37 633.13 101.3 631.7 102.6C630.27 103.9 626.62 104.85 625.6 105.3C624.58 105.75 626.62 105.75 625.6 105.3C624.58 104.85 620.93 103.9 619.5 102.6C618.07 101.3 617 99.37 617 97.5C617 95.63 618.98 93.45 619.5 91.4C620.02 89.35 619.93 87.25 620.1 85.2C620.27 83.15 620.1 81.82 620.5 79.1C620.9 76.38 621.98 72.3 622.5 68.9C623.02 65.5 623.17 62.35 623.6 58.7C624.03 55.05 624.77 49.08 625.1 47C625.43 44.92 625.52 46.33 625.6 46.2C625.68 46.07 625.52 46.07 625.6 46.2Z" fill="#ffc800"/><path d="M652.6 38.6C653.12 38.67 654.75 38.05 655.7 39C656.65 39.95 657.8 42.38 658.3 44.3C658.8 46.22 659.03 48.45 658.7 50.5C658.37 52.55 656.87 53.53 656.3 56.6C655.73 59.67 655.5 64.82 655.3 68.9C655.1 72.98 655.25 76.68 655.1 81.1C654.95 85.52 654.55 92.08 654.4 95.4C654.25 98.72 654.5 100 654.2 101C653.9 102 652.87 101.33 652.6 101.4C652.33 101.47 652.87 101.47 652.6 101.4C652.33 101.33 651.3 102 651 101C650.7 100 650.95 98.72 650.8 95.4C650.65 92.08 650.25 85.52 650.1 81.1C649.95 76.68 650.1 72.98 649.9 68.9C649.7 64.82 649.47 59.67 648.9 56.6C648.33 53.53 646.83 52.55 646.5 50.5C646.17 48.45 646.4 46.22 646.9 44.3C647.4 42.38 648.55 39.95 649.5 39C650.45 38.05 652.08 38.67 652.6 38.6C653.12 38.53 652.08 38.53 652.6 38.6Z" fill="#00b4e4"/><text x="545.3" y="116.3" font-size="6.6" text-anchor="middle" fill="#222">LT−HSC</text><path d="M545.3 108.6V110.4" stroke="#222" stroke-width="0.6"/><text x="572.3" y="116.3" font-size="6.6" text-anchor="middle" fill="#222">ST−HSC</text><path d="M572.3 108.6V110.4" stroke="#222" stroke-width="0.6"/><text x="599.1" y="116.3" font-size="6.6" text-anchor="middle" fill="#222">MPP2</text><path d="M599.1 108.6V110.4" stroke="#222" stroke-width="0.6"/><text x="625.6" y="116.3" font-size="6.6" text-anchor="middle" fill="#222">MPP3</text><path d="M625.6 108.6V110.4" stroke="#222" stroke-width="0.6"/><text x="652.6" y="116.3" font-size="6.6" text-anchor="middle" fill="#222">MPP4</text><path d="M652.6 108.6V110.4" stroke="#222" stroke-width="0.6"/><text x="574" y="121.6" font-size="6.6" text-anchor="middle" fill="#222">/MPP1</text><path d="M529.2 125.2V204.8H669.7" stroke="#222" stroke-width="0.8" fill="none"/><path d="M527.2 127.02H529.2" stroke="#222" stroke-width="0.6"/><text x="526.7" y="129.32" font-size="6.5" text-anchor="end" fill="#333">0.8</text><path d="M527.2 146.86H529.2" stroke="#222" stroke-width="0.6"/><text x="526.7" y="149.16" font-size="6.5" text-anchor="end" fill="#333">0.4</text><path d="M527.2 166.7H529.2" stroke="#222" stroke-width="0.6"/><text x="526.7" y="169" font-size="6.5" text-anchor="end" fill="#333">0.0</text><path d="M527.2 186.54H529.2" stroke="#222" stroke-width="0.6"/><text x="526.7" y="188.84" font-size="6.5" text-anchor="end" fill="#333">−0.4</text><text transform="translate(508.3 163.3) rotate(-90)" text-anchor="middle" y="2.66" font-size="7.6">Module 6</text><path d="M545.3 158.74C545.47 158.81 546.15 158.64 546.32 159.15C546.49 159.66 546.36 160.86 546.32 161.81C546.29 162.76 546.15 163.34 546.12 164.87C546.08 166.41 546.08 169.3 546.12 171.01C546.15 172.71 546.25 173.73 546.32 175.09C546.39 176.46 546.36 177.99 546.53 179.18C546.7 180.37 546.8 181.22 547.34 182.25C547.89 183.27 548.71 184.12 549.8 185.31C550.89 186.5 552.66 188.04 553.88 189.4C555.11 190.76 556.54 192.4 557.15 193.49C557.77 194.58 558.01 195.19 557.56 195.94C557.12 196.69 555.69 197.3 554.5 197.98C553.3 198.66 551.94 199.41 550.41 200.03C548.88 200.64 546.15 201.39 545.3 201.66C544.45 201.93 546.15 201.93 545.3 201.66C544.45 201.39 541.72 200.64 540.19 200.03C538.66 199.41 537.3 198.66 536.1 197.98C534.91 197.3 533.48 196.69 533.04 195.94C532.59 195.19 532.83 194.58 533.45 193.49C534.06 192.4 535.49 190.76 536.72 189.4C537.94 188.04 539.71 186.5 540.8 185.31C541.89 184.12 542.71 183.27 543.26 182.25C543.8 181.22 543.9 180.37 544.07 179.18C544.24 177.99 544.21 176.46 544.28 175.09C544.35 173.73 544.45 172.71 544.48 171.01C544.52 169.3 544.52 166.41 544.48 164.87C544.45 163.34 544.31 162.76 544.28 161.81C544.24 160.86 544.11 159.66 544.28 159.15C544.45 158.64 545.13 158.81 545.3 158.74C545.47 158.68 545.13 158.68 545.3 158.74Z" fill="#d20000"/><path d="M572.5 141.37C572.64 141.47 573.15 140.79 573.32 141.98C573.49 143.18 573.49 146.07 573.52 148.52C573.56 150.98 573.45 153.97 573.52 156.7C573.59 159.42 573.76 162.15 573.93 164.87C574.1 167.6 574.2 170.67 574.54 173.05C574.88 175.43 575.46 177.14 575.97 179.18C576.49 181.22 577.27 183.61 577.61 185.31C577.95 187.02 578.19 188.04 578.02 189.4C577.85 190.76 577.1 192.12 576.59 193.49C576.08 194.85 575.63 196.55 574.95 197.57C574.27 198.6 572.91 199.28 572.5 199.62C572.09 199.96 572.91 199.96 572.5 199.62C572.09 199.28 570.73 198.6 570.05 197.57C569.37 196.55 568.92 194.85 568.41 193.49C567.9 192.12 567.15 190.76 566.98 189.4C566.81 188.04 567.05 187.02 567.39 185.31C567.73 183.61 568.51 181.22 569.03 179.18C569.54 177.14 570.12 175.43 570.46 173.05C570.8 170.67 570.9 167.6 571.07 164.87C571.24 162.15 571.41 159.42 571.48 156.7C571.55 153.97 571.44 150.98 571.48 148.52C571.51 146.07 571.51 143.18 571.68 141.98C571.85 140.79 572.36 141.47 572.5 141.37C572.64 141.27 572.36 141.27 572.5 141.37Z" fill="#5b86dc"/><path d="M599.9 129.72C600.24 129.79 601.53 129.38 601.94 130.13C602.35 130.88 602.35 131.83 602.35 134.22C602.35 136.6 602.05 141.03 601.94 144.44C601.84 147.84 601.77 151.25 601.74 154.66C601.71 158.06 601.74 161.47 601.74 164.87C601.74 168.28 601.67 171.69 601.74 175.09C601.81 178.5 602.05 182.59 602.15 185.31C602.25 188.04 602.42 189.57 602.35 191.44C602.28 193.32 602.15 195.19 601.74 196.55C601.33 197.92 600.21 199.11 599.9 199.62C599.59 200.13 600.21 200.13 599.9 199.62C599.59 199.11 598.47 197.92 598.06 196.55C597.65 195.19 597.52 193.32 597.45 191.44C597.38 189.57 597.55 188.04 597.65 185.31C597.75 182.59 597.99 178.5 598.06 175.09C598.13 171.69 598.06 168.28 598.06 164.87C598.06 161.47 598.09 158.06 598.06 154.66C598.03 151.25 597.96 147.84 597.86 144.44C597.75 141.03 597.45 136.6 597.45 134.22C597.45 131.83 597.45 130.88 597.86 130.13C598.27 129.38 599.56 129.79 599.9 129.72C600.24 129.65 599.56 129.65 599.9 129.72Z" fill="#78b400"/><path d="M627.3 129.31C627.64 129.38 628.9 128.9 629.34 129.72C629.79 130.54 629.96 131.77 629.96 134.22C629.96 136.67 629.48 141.03 629.34 144.44C629.21 147.84 629.17 151.25 629.14 154.66C629.11 158.06 629.17 161.47 629.14 164.87C629.11 168.28 628.93 171.69 628.93 175.09C628.93 178.5 629.14 182.59 629.14 185.31C629.14 188.04 629.07 189.57 628.93 191.44C628.8 193.32 628.59 195.26 628.32 196.55C628.05 197.85 627.47 198.77 627.3 199.21C627.13 199.65 627.47 199.65 627.3 199.21C627.13 198.77 626.55 197.85 626.28 196.55C626.01 195.26 625.8 193.32 625.67 191.44C625.53 189.57 625.46 188.04 625.46 185.31C625.46 182.59 625.67 178.5 625.67 175.09C625.67 171.69 625.49 168.28 625.46 164.87C625.43 161.47 625.49 158.06 625.46 154.66C625.43 151.25 625.39 147.84 625.26 144.44C625.12 141.03 624.64 136.67 624.64 134.22C624.64 131.77 624.81 130.54 625.26 129.72C625.7 128.9 626.96 129.38 627.3 129.31C627.64 129.25 626.96 129.25 627.3 129.31Z" fill="#ffc800"/><path d="M654.3 131.77C654.5 131.83 655.32 130.06 655.53 132.17C655.73 134.29 655.53 140.69 655.53 144.44C655.53 148.18 655.49 151.25 655.53 154.66C655.56 158.06 655.66 161.47 655.73 164.87C655.8 168.28 655.76 172.37 655.93 175.09C656.11 177.82 656.48 179.18 656.75 181.22C657.02 183.27 657.47 185.48 657.57 187.36C657.67 189.23 657.5 190.93 657.37 192.47C657.23 194 657.26 195.63 656.75 196.55C656.24 197.47 654.71 197.74 654.3 197.98C653.89 198.22 654.71 198.22 654.3 197.98C653.89 197.74 652.36 197.47 651.85 196.55C651.34 195.63 651.37 194 651.23 192.47C651.1 190.93 650.93 189.23 651.03 187.36C651.13 185.48 651.58 183.27 651.85 181.22C652.12 179.18 652.49 177.82 652.67 175.09C652.84 172.37 652.8 168.28 652.87 164.87C652.94 161.47 653.04 158.06 653.07 154.66C653.11 151.25 653.07 148.18 653.07 144.44C653.07 140.69 652.87 134.29 653.07 132.17C653.28 130.06 654.1 131.83 654.3 131.77C654.5 131.7 654.1 131.7 654.3 131.77Z" fill="#00b4e4"/><text x="545.3" y="212.3" font-size="6.6" text-anchor="middle" fill="#222">LT−HSC</text><path d="M545.3 204.8V206.6" stroke="#222" stroke-width="0.6"/><text x="572.5" y="212.3" font-size="6.6" text-anchor="middle" fill="#222">ST−HSC</text><path d="M572.5 204.8V206.6" stroke="#222" stroke-width="0.6"/><text x="599.9" y="212.3" font-size="6.6" text-anchor="middle" fill="#222">MPP2</text><path d="M599.9 204.8V206.6" stroke="#222" stroke-width="0.6"/><text x="627.3" y="212.3" font-size="6.6" text-anchor="middle" fill="#222">MPP3</text><path d="M627.3 204.8V206.6" stroke="#222" stroke-width="0.6"/><text x="654.3" y="212.3" font-size="6.6" text-anchor="middle" fill="#222">MPP4</text><path d="M654.3 204.8V206.6" stroke="#222" stroke-width="0.6"/><text x="574.5" y="218.2" font-size="6.6" text-anchor="middle" fill="#222">/MPP1</text>
<text x="-0.4" y="251.8" font-size="14.5" font-weight="bold">d</text><text x="73" y="246" font-size="7.4" text-anchor="middle">Gene modules</text><text x="45.4" y="254.6" font-size="7.4" text-anchor="middle">2</text><text x="56.4" y="254.6" font-size="7.4" text-anchor="middle">6</text><text x="67.4" y="254.6" font-size="7.4" text-anchor="middle">3</text><text x="78.4" y="254.6" font-size="7.4" text-anchor="middle">5</text><text x="89.4" y="254.6" font-size="7.4" text-anchor="middle">4</text><text x="100.4" y="254.6" font-size="7.4" text-anchor="middle">1</text><rect x="39.9" y="256.8" width="11.05" height="8.4" fill="#25a784"/><rect x="50.9" y="256.8" width="11.05" height="8.4" fill="#440154"/><rect x="61.9" y="256.8" width="11.05" height="8.4" fill="#472d7b"/><rect x="72.9" y="256.8" width="11.05" height="8.4" fill="#450559"/><rect x="83.9" y="256.8" width="11.05" height="8.4" fill="#46307e"/><rect x="94.9" y="256.8" width="11.05" height="8.4" fill="#2a788e"/><rect x="39.9" y="265.15" width="11.05" height="8.4" fill="#471063"/><rect x="50.9" y="265.15" width="11.05" height="8.4" fill="#a2da37"/><rect x="61.9" y="265.15" width="11.05" height="8.4" fill="#3e4a89"/><rect x="72.9" y="265.15" width="11.05" height="8.4" fill="#fde725"/><rect x="83.9" y="265.15" width="11.05" height="8.4" fill="#450a5c"/><rect x="94.9" y="265.15" width="11.05" height="8.4" fill="#3d4e8a"/><rect x="39.9" y="273.5" width="11.05" height="8.4" fill="#450a5c"/><rect x="50.9" y="273.5" width="11.05" height="8.4" fill="#4ac16d"/><rect x="61.9" y="273.5" width="11.05" height="8.4" fill="#414487"/><rect x="72.9" y="273.5" width="11.05" height="8.4" fill="#a0da39"/><rect x="83.9" y="273.5" width="11.05" height="8.4" fill="#460b5e"/><rect x="94.9" y="273.5" width="11.05" height="8.4" fill="#33638d"/><rect x="39.9" y="281.85" width="11.05" height="8.4" fill="#21918c"/><rect x="50.9" y="281.85" width="11.05" height="8.4" fill="#440a5a"/><rect x="61.9" y="281.85" width="11.05" height="8.4" fill="#471365"/><rect x="72.9" y="281.85" width="11.05" height="8.4" fill="#450d5e"/><rect x="83.9" y="281.85" width="11.05" height="8.4" fill="#481a6c"/><rect x="94.9" y="281.85" width="11.05" height="8.4" fill="#38598c"/><rect x="39.9" y="290.2" width="11.05" height="8.4" fill="#3b528b"/><rect x="50.9" y="290.2" width="11.05" height="8.4" fill="#481769"/><rect x="61.9" y="290.2" width="11.05" height="8.4" fill="#471365"/><rect x="72.9" y="290.2" width="11.05" height="8.4" fill="#440154"/><rect x="83.9" y="290.2" width="11.05" height="8.4" fill="#471365"/><rect x="94.9" y="290.2" width="11.05" height="8.4" fill="#472f7d"/><rect x="39.9" y="298.55" width="11.05" height="8.4" fill="#482475"/><rect x="50.9" y="298.55" width="11.05" height="8.4" fill="#440154"/><rect x="61.9" y="298.55" width="11.05" height="8.4" fill="#450457"/><rect x="72.9" y="298.55" width="11.05" height="8.4" fill="#440154"/><rect x="83.9" y="298.55" width="11.05" height="8.4" fill="#440256"/><rect x="94.9" y="298.55" width="11.05" height="8.4" fill="#440154"/><rect x="39.9" y="306.9" width="11.05" height="8.4" fill="#443a83"/><rect x="50.9" y="306.9" width="11.05" height="8.4" fill="#450559"/><rect x="61.9" y="306.9" width="11.05" height="8.4" fill="#460b5e"/><rect x="72.9" y="306.9" width="11.05" height="8.4" fill="#440154"/><rect x="83.9" y="306.9" width="11.05" height="8.4" fill="#440154"/><rect x="94.9" y="306.9" width="11.05" height="8.4" fill="#433e85"/><rect x="39.9" y="315.25" width="11.05" height="8.4" fill="#450559"/><rect x="50.9" y="315.25" width="11.05" height="8.4" fill="#440154"/><rect x="61.9" y="315.25" width="11.05" height="8.4" fill="#440154"/><rect x="72.9" y="315.25" width="11.05" height="8.4" fill="#440154"/><rect x="83.9" y="315.25" width="11.05" height="8.4" fill="#440154"/><rect x="94.9" y="315.25" width="11.05" height="8.4" fill="#440154"/><rect x="39.9" y="323.6" width="11.05" height="8.4" fill="#471466"/><rect x="50.9" y="323.6" width="11.05" height="8.4" fill="#440154"/><rect x="61.9" y="323.6" width="11.05" height="8.4" fill="#440154"/><rect x="72.9" y="323.6" width="11.05" height="8.4" fill="#440154"/><rect x="83.9" y="323.6" width="11.05" height="8.4" fill="#440154"/><rect x="94.9" y="323.6" width="11.05" height="8.4" fill="#440154"/><rect x="39.9" y="331.95" width="11.05" height="8.4" fill="#46337f"/><rect x="50.9" y="331.95" width="11.05" height="8.4" fill="#440154"/><rect x="61.9" y="331.95" width="11.05" height="8.4" fill="#471365"/><rect x="72.9" y="331.95" width="11.05" height="8.4" fill="#440154"/><rect x="83.9" y="331.95" width="11.05" height="8.4" fill="#440154"/><rect x="94.9" y="331.95" width="11.05" height="8.4" fill="#440154"/><rect x="39.9" y="340.3" width="11.05" height="8.4" fill="#2c728e"/><rect x="50.9" y="340.3" width="11.05" height="8.4" fill="#482878"/><rect x="61.9" y="340.3" width="11.05" height="8.4" fill="#482878"/><rect x="72.9" y="340.3" width="11.05" height="8.4" fill="#440154"/><rect x="83.9" y="340.3" width="11.05" height="8.4" fill="#31688e"/><rect x="94.9" y="340.3" width="11.05" height="8.4" fill="#22a884"/><rect x="39.9" y="348.65" width="11.05" height="8.4" fill="#2d708e"/><rect x="50.9" y="348.65" width="11.05" height="8.4" fill="#440154"/><rect x="61.9" y="348.65" width="11.05" height="8.4" fill="#460b5e"/><rect x="72.9" y="348.65" width="11.05" height="8.4" fill="#440154"/><rect x="83.9" y="348.65" width="11.05" height="8.4" fill="#440154"/><rect x="94.9" y="348.65" width="11.05" height="8.4" fill="#3e4a89"/><rect x="39.9" y="357" width="11.05" height="8.4" fill="#2f6b8e"/><rect x="50.9" y="357" width="11.05" height="8.4" fill="#450559"/><rect x="61.9" y="357" width="11.05" height="8.4" fill="#471063"/><rect x="72.9" y="357" width="11.05" height="8.4" fill="#440154"/><rect x="83.9" y="357" width="11.05" height="8.4" fill="#460b5e"/><rect x="94.9" y="357" width="11.05" height="8.4" fill="#472d7b"/><rect x="39.9" y="365.35" width="11.05" height="8.4" fill="#482071"/><rect x="50.9" y="365.35" width="11.05" height="8.4" fill="#460b5e"/><rect x="61.9" y="365.35" width="11.05" height="8.4" fill="#460b5e"/><rect x="72.9" y="365.35" width="11.05" height="8.4" fill="#482576"/><rect x="83.9" y="365.35" width="11.05" height="8.4" fill="#440154"/><rect x="94.9" y="365.35" width="11.05" height="8.4" fill="#460b5e"/><rect x="39.9" y="373.7" width="11.05" height="8.4" fill="#440154"/><rect x="50.9" y="373.7" width="11.05" height="8.4" fill="#3e4a89"/><rect x="61.9" y="373.7" width="11.05" height="8.4" fill="#460b5e"/><rect x="72.9" y="373.7" width="11.05" height="8.4" fill="#2c728e"/><rect x="83.9" y="373.7" width="11.05" height="8.4" fill="#440154"/><rect x="94.9" y="373.7" width="11.05" height="8.4" fill="#472d7b"/><rect x="39.9" y="382.05" width="11.05" height="8.4" fill="#46085c"/><rect x="50.9" y="382.05" width="11.05" height="8.4" fill="#481769"/><rect x="61.9" y="382.05" width="11.05" height="8.4" fill="#440154"/><rect x="72.9" y="382.05" width="11.05" height="8.4" fill="#48186a"/><rect x="83.9" y="382.05" width="11.05" height="8.4" fill="#440154"/><rect x="94.9" y="382.05" width="11.05" height="8.4" fill="#481467"/><rect x="39.9" y="390.4" width="11.05" height="8.4" fill="#46085c"/><rect x="50.9" y="390.4" width="11.05" height="8.4" fill="#471365"/><rect x="61.9" y="390.4" width="11.05" height="8.4" fill="#440154"/><rect x="72.9" y="390.4" width="11.05" height="8.4" fill="#440154"/><rect x="83.9" y="390.4" width="11.05" height="8.4" fill="#440154"/><rect x="94.9" y="390.4" width="11.05" height="8.4" fill="#2a788e"/><path d="M50.9 256.8V398.75M61.9 256.8V398.75M72.9 256.8V398.75M83.9 256.8V398.75M94.9 256.8V398.75M39.9 265.15H105.9M39.9 273.5H105.9M39.9 281.85H105.9M39.9 290.2H105.9M39.9 298.55H105.9M39.9 306.9H105.9M39.9 315.25H105.9M39.9 323.6H105.9M39.9 331.95H105.9M39.9 340.3H105.9M39.9 348.65H105.9M39.9 357H105.9M39.9 365.35H105.9M39.9 373.7H105.9M39.9 382.05H105.9M39.9 390.4H105.9" stroke="#5a3a78" stroke-opacity="0.2" stroke-width="0.5" fill="none"/><text x="107.8" y="262.38" font-size="7.45">Low_output_Rodriguez</text><text x="107.8" y="270.73" font-size="7.45">High_output_Rodriguez</text><text x="107.8" y="279.07" font-size="7.45">Multilineage_Rodriguez</text><text x="107.8" y="287.43" font-size="7.45">MK_biased_HSC_Rodriguez</text><text x="107.8" y="295.77" font-size="7.45">Serial_engraftment_Rodriguez</text><text x="107.8" y="304.12" font-size="7.45">Stemscore_Giladi</text><text x="107.8" y="312.47" font-size="7.45">RACFP_DIM_Lauridsen</text><text x="107.8" y="320.82" font-size="7.45">SuMO_Wilson</text><text x="107.8" y="329.18" font-size="7.45">MolO_Wilson</text><text x="107.8" y="337.52" font-size="7.45">HSC_vs_MPP4_Cabezas_Wallscheid</text><text x="107.8" y="345.88" font-size="7.45">dHSC_vs_aHSC_Cabezas_Wallscheid</text><text x="107.8" y="354.22" font-size="7.45">HSC_Pietras</text><text x="107.8" y="362.57" font-size="7.45">HSC1_cluster</text><text x="107.8" y="370.93" font-size="7.45">HSC2_cluster</text><text x="107.8" y="379.27" font-size="7.45">HSC3_cluster</text><text x="107.8" y="387.62" font-size="7.45">HSC4_cluster</text><text x="107.8" y="395.97" font-size="7.45">dHSC_aHSC_Cabezas_Wallscheid</text><defs><linearGradient id="gV" x1="0" y1="1" x2="0" y2="0"><stop offset="0" stop-color="#440154"/><stop offset="0.11" stop-color="#482878"/><stop offset="0.22" stop-color="#3e4989"/><stop offset="0.33" stop-color="#31688e"/><stop offset="0.44" stop-color="#26828e"/><stop offset="0.56" stop-color="#1f9e89"/><stop offset="0.67" stop-color="#35b779"/><stop offset="0.78" stop-color="#6ece58"/><stop offset="0.89" stop-color="#b5de2b"/><stop offset="1" stop-color="#fde725"/></linearGradient></defs><rect x="220.3" y="267.2" width="6.6" height="52.9" fill="url(#gV)"/><text x="230.2" y="264.6" font-size="7.4" text-anchor="middle">Overlap ratio</text><text x="230.4" y="274.2" font-size="7.4">0.5</text><text x="230.4" y="297" font-size="7.4">0.25</text><text x="230.4" y="319.7" font-size="7.4">0</text>
<text x="0.8" y="439.6" font-size="14.5" font-weight="bold">e</text><text x="76.6" y="439.2" font-size="8.6" text-anchor="middle">Module 2</text><text x="185.3" y="439.2" font-size="8.6" text-anchor="middle">Low output</text><circle cx="100.7" cy="476" r="29.6" fill="#8fd3b0"/><circle cx="138.6" cy="475.2" r="40.1" fill="#fff38a" fill-opacity="0.93"/><clipPath id="cpE"><circle cx="100.7" cy="476" r="29.6"/></clipPath><circle cx="138.6" cy="475.2" r="40.1" fill="#c5e06f" clip-path="url(#cpE)"/><text x="84.5" y="479" font-size="8.4" text-anchor="middle">393</text><text x="113.2" y="479" font-size="8.4" text-anchor="middle">208</text><text x="149.8" y="479" font-size="8.4" text-anchor="middle">1305</text><path d="M121 479.6L181.8 506.2H221.5" stroke="#222" stroke-width="0.7" fill="none"/><text x="195" y="458.9" font-size="7.4" font-style="italic">Hlf</text><text x="195" y="467.95" font-size="7.4" font-style="italic">Mycn</text><text x="195" y="477" font-size="7.4" font-style="italic">Procr</text><text x="195" y="486.05" font-size="7.4" font-style="italic">Mllt3</text><text x="195" y="495.1" font-size="7.4" font-style="italic">Hoxb8</text><text x="195" y="504.15" font-size="7.4" font-style="italic">Cdkn1c</text>
<text x="269" y="251.6" font-size="14.5" font-weight="bold">f</text><ellipse cx="352.7" cy="311.5" rx="36.8" ry="43.2" fill="#efefef"/><ellipse cx="463" cy="351" rx="54.5" ry="26.5" fill="#efefef"/><ellipse cx="452.6" cy="439.1" rx="39" ry="63.7" fill="#efefef"/><ellipse cx="573.6" cy="291.5" rx="62.6" ry="37.3" fill="#efefef"/><ellipse cx="453.6" cy="291.4" rx="58.4" ry="36.2" fill="#e2f1fb"/><ellipse cx="594.3" cy="466.7" rx="69" ry="49" fill="#e2f1fb"/><path d="M346.6 276.8Q351.89 292.24 360.6 307.4M346.6 276.8Q362.78 293.93 382.5 311M336.4 300.4Q330.28 304.23 324.7 311.5M336.4 300.4Q348.2 305.21 360.6 307.4M324.7 311.5Q334.24 319.38 347.4 324.4M324.7 311.5Q324.78 322.12 327.7 335.8M360.6 307.4Q352.25 314.14 347.4 324.4M360.6 307.4Q344.87 321.31 327.7 335.8M360.6 307.4Q356.39 324.56 351.5 342.1M382.5 311Q366.13 318.5 347.4 324.4M327.7 335.8Q338.21 338.91 351.5 342.1M382.5 311Q396.23 305.97 409.2 300.3M382.5 311Q391.36 325.53 397.5 336.5M482.8 266.9Q480.04 285.4 481.1 304.2M482.8 266.9Q458.52 279.09 437.2 293.3M415.7 285Q413.94 290.97 409.2 300.3M402.9 295.4Q407.51 296.96 409.2 300.3M409.2 300.3Q409.3 303.3 412.2 308.9M424.4 301.9Q429.85 295.62 437.2 293.3M437.2 293.3Q438.32 302.45 440.3 312.4M445.9 299.1Q455.19 299.7 463.4 303.8M457.8 288.4Q464.09 285.75 472.7 285.8M457.8 288.4Q458.81 294.1 463.4 303.8M457.8 288.4Q455.81 297.5 457 307.7M472.7 285.8Q478.4 295.46 481.1 304.2M463.4 303.8Q471.26 303.39 481.1 304.2M481.1 304.2Q489.61 305.09 498.4 306.1M412.2 308.9Q419.26 311.77 429.5 315.9M422.7 311.2Q432.82 310.45 440.3 312.4M429.5 315.9Q441.8 316.26 450.5 316.4M450.5 316.4Q444.44 318.77 440.3 322.2M472.7 285.8Q486.82 296.91 498.4 306.1M463.4 303.8Q457.02 309.52 450.5 316.4M409.2 300.3Q417.46 307.22 429.5 315.9M437.2 293.3Q451.07 300.38 463.4 303.8M482.8 266.9Q472.56 284.23 463.4 303.8M407.6 328.3Q410 315.66 409.2 300.3M407.6 328.3Q403.16 333.6 397.5 336.5M433.7 335Q432.6 325.36 429.5 315.9M433.7 335Q442.24 335.78 447 337.4M433.7 335Q448.59 336.9 459.9 337M447 337.4Q455.37 337.83 459.9 337M459.9 337Q455.39 325.22 450.5 316.4M483.5 338.6Q483.6 320.24 481.1 304.2M459.9 337Q468.64 347.98 479.3 359.6M459.9 337Q460.14 350.77 457.1 365.7M479.3 359.6Q487.23 365.42 494.5 368M494.5 368Q491.29 373.32 487.9 382.5M483.5 338.6Q489.22 354.44 494.5 368M440.3 322.2Q450.34 328.59 459.9 337M429.5 315.9Q455.44 339.4 479.3 359.6M447 337.4Q453.56 353.32 457.1 365.7M433.7 335Q443.95 348.84 457.1 365.7M459.9 337Q475.49 351.46 494.5 368M459.9 337Q462.48 367.06 467.3 393.5M480.1 431.3Q464.71 437.78 450.6 446.7M450.6 446.7Q455.66 465.32 461.2 487.8M529.5 271.3Q528.6 288.25 526.7 305.1M526.7 305.1Q544.47 297.91 565.4 292.6M565.4 292.6Q575.17 288.33 582.7 285.9M581.2 268.1Q582.23 277.8 582.7 285.9M601.5 268.1Q606.83 274.75 615.7 279.9M598.3 296.4Q606.02 300 617.2 300.7M600.1 317.8Q607.6 307.69 617.2 300.7M581.2 268.1Q587.95 281.06 598.3 296.4M601.5 268.1Q599.12 283.29 598.3 296.4M615.7 279.9Q607 286.86 598.3 296.4M582.7 285.9Q579.72 297.05 580.6 310.2M581.2 268.1Q581.83 289.35 580.6 310.2M565.4 292.6Q573.2 282.09 581.2 268.1M615.7 279.9Q600.48 282.63 582.7 285.9M598.3 296.4Q599.95 309.03 600.1 317.8M600.1 317.8Q606.27 341.14 613.2 365.7M613.2 365.7Q611.47 385.65 611.7 408.3M611.7 445.8Q627.68 442.22 645.4 440.7M611.7 445.8Q592.64 453.38 573.9 463.7M645.4 440.7Q645.04 453.53 646.2 467.5M646.2 467.5Q636.95 474.82 630.1 482.1M573.9 463.7Q588.01 470.36 604 480.3M573.9 463.7Q556.32 472.24 542.4 484.6M611.7 445.8Q630.47 456.21 646.2 467.5" stroke="#8c8cf4" stroke-width="1.25" stroke-opacity="0.75" fill="none"/><path d="M346.6 276.8Q334.95 292.75 324.7 311.5M336.4 300.4Q340.79 312.91 347.4 324.4M324.7 311.5Q342.96 309.04 360.6 307.4M324.7 311.5Q339.36 325.52 351.5 342.1M360.6 307.4Q372.11 308.69 382.5 311M382.5 311Q367.3 326.65 351.5 342.1M347.4 324.4Q338.47 329.25 327.7 335.8M347.4 324.4Q347.92 332.92 351.5 342.1M324.7 311.5Q354.27 312.31 382.5 311M382.5 311Q394.2 302.45 402.9 295.4M382.5 311Q398.01 308.19 412.2 308.9M482.8 266.9Q470.89 279.62 457.8 288.4M482.8 266.9Q476.89 275.89 472.7 285.8M482.8 266.9Q489.07 284.74 498.4 306.1M415.7 285Q426.65 290.68 437.2 293.3M409.2 300.3Q416.24 302.64 424.4 301.9M409.2 300.3Q414.88 305.69 422.7 311.2M424.4 301.9Q423.03 306.82 422.7 311.2M424.4 301.9Q427.71 308.96 429.5 315.9M437.2 293.3Q448.2 289.07 457.8 288.4M437.2 293.3Q442.67 297.7 445.9 299.1M463.4 303.8Q458.69 307.15 457 307.7M440.3 312.4Q445.57 312.51 450.5 316.4M450.5 316.4Q455.66 313.5 457 307.7M457 307.7Q463.59 312.88 468 317.8M429.5 315.9Q434.22 317.94 440.3 322.2M457.8 288.4Q480.04 298.66 498.4 306.1M498.4 306.1Q476.2 313.2 450.5 316.4M407.6 328.3Q408.69 317.42 412.2 308.9M397.5 336.5Q405.49 324.34 412.2 308.9M433.7 335Q438.16 327.93 440.3 322.2M432.6 344Q431.66 338.1 433.7 335M447 337.4Q449.98 325.48 450.5 316.4M459.9 337Q463.53 321 463.4 303.8M459.9 337Q473.43 337.54 483.5 338.6M483.5 338.6Q490.12 321.31 498.4 306.1M457.1 365.7Q477.47 366.86 494.5 368M479.3 359.6Q482.33 369.07 487.9 382.5M457.1 365.7Q471.19 373.99 487.9 382.5M459.9 337Q474.13 359.05 487.9 382.5M450.5 316.4Q454.89 341.08 457.1 365.7M422.7 311.2Q428.65 323.12 433.7 335M440.3 312.4Q444.42 324.71 447 337.4M498.4 306.1Q496.36 338.82 494.5 368M468 317.8Q475.99 329.97 483.5 338.6M450.5 316.4Q469.88 350.59 487.9 382.5M487.9 382.5Q476.22 388.86 467.3 393.5M457.1 365.7Q460.77 381.13 467.3 393.5M467.3 393.5Q473.65 414.36 480.1 431.3M467.3 393.5Q457.6 419.83 450.6 446.7M450.6 446.7Q438.29 459.23 424.2 475.6M529.5 271.3Q549.39 283.1 565.4 292.6M565.4 292.6Q572.69 303.05 580.6 310.2M581.2 268.1Q590.38 266.7 601.5 268.1M582.7 285.9Q588.79 292.9 598.3 296.4M582.7 285.9Q592.61 300.18 600.1 317.8M615.7 279.9Q615.81 290.51 617.2 300.7M580.6 310.2Q589.42 312.52 600.1 317.8M598.3 296.4Q590.79 302.87 580.6 310.2M601.5 268.1Q593.43 277.83 582.7 285.9M613.2 365.7Q596.92 371.18 583.6 380.1M611.7 408.3Q613.07 428.53 611.7 445.8M611.7 445.8Q606.9 464.9 604 480.3M611.7 445.8Q621.09 462.93 630.1 482.1M645.4 440.7Q637.28 461.3 630.1 482.1M604 480.3Q615.98 481.54 630.1 482.1M646.2 467.5Q626.1 474.53 604 480.3" stroke="#8c8cf4" stroke-width="0.7" stroke-opacity="0.75" fill="none"/><circle cx="346.6" cy="276.8" r="4.7" fill="#2e9a4a" stroke="#b0b0b0" stroke-width="0.8"/><path d="M346.6 272.1V276.8" stroke="#1d6a33" stroke-width="0.3"/><circle cx="336.4" cy="300.4" r="3.9" fill="#f8f8b8" stroke="#b0b0b0" stroke-width="0.8"/><circle cx="324.7" cy="311.5" r="7" fill="#f8f8b8"/><path d="M324.7 304.5A7 7 0 0 0 324.7 318.5Z" fill="#2e9a4a"/><path d="M324.7 304.5V318.5" stroke="#244" stroke-width="0.5"/><circle cx="324.7" cy="311.5" r="7" fill="none" stroke="#b0b0b0" stroke-width="0.8"/><circle cx="360.6" cy="307.4" r="8.2" fill="#2e9a4a" stroke="#b0b0b0" stroke-width="0.8"/><path d="M360.6 299.2V307.4" stroke="#1d6a33" stroke-width="0.3"/><circle cx="382.5" cy="311" r="7" fill="#f8f8b8"/><path d="M382.5 304A7 7 0 0 0 382.5 318Z" fill="#2e9a4a"/><path d="M382.5 304V318" stroke="#244" stroke-width="0.5"/><circle cx="382.5" cy="311" r="7" fill="none" stroke="#b0b0b0" stroke-width="0.8"/><circle cx="347.4" cy="324.4" r="4.9" fill="#f8f8b8" stroke="#b0b0b0" stroke-width="0.8"/><circle cx="327.7" cy="335.8" r="4" fill="#f8f8b8" stroke="#b0b0b0" stroke-width="0.8"/><circle cx="351.5" cy="342.1" r="4.4" fill="#f8f8b8" stroke="#b0b0b0" stroke-width="0.8"/><circle cx="482.8" cy="266.9" r="6.3" fill="#2e9a4a" stroke="#b0b0b0" stroke-width="0.8"/><path d="M482.8 260.6V266.9" stroke="#1d6a33" stroke-width="0.3"/><circle cx="415.7" cy="285" r="4.4" fill="#2e9a4a" stroke="#b0b0b0" stroke-width="0.8"/><path d="M415.7 280.6V285" stroke="#1d6a33" stroke-width="0.3"/><circle cx="402.9" cy="295.4" r="5.1" fill="#2e9a4a" stroke="#b0b0b0" stroke-width="0.8"/><path d="M402.9 290.3V295.4" stroke="#1d6a33" stroke-width="0.3"/><circle cx="409.2" cy="300.3" r="7.7" fill="#2e9a4a" stroke="#b0b0b0" stroke-width="0.8"/><path d="M409.2 292.6V300.3" stroke="#1d6a33" stroke-width="0.3"/><circle cx="424.4" cy="301.9" r="5.6" fill="#f8f8b8"/><path d="M424.4 296.3A5.6 5.6 0 0 0 424.4 307.5Z" fill="#2e9a4a"/><path d="M424.4 296.3V307.5" stroke="#244" stroke-width="0.5"/><circle cx="424.4" cy="301.9" r="5.6" fill="none" stroke="#b0b0b0" stroke-width="0.8"/><circle cx="437.2" cy="293.3" r="6.5" fill="#2e9a4a" stroke="#b0b0b0" stroke-width="0.8"/><path d="M437.2 286.8V293.3" stroke="#1d6a33" stroke-width="0.3"/><circle cx="445.9" cy="299.1" r="3.5" fill="#2e9a4a" stroke="#b0b0b0" stroke-width="0.8"/><path d="M445.9 295.6V299.1" stroke="#1d6a33" stroke-width="0.3"/><circle cx="457.8" cy="288.4" r="7.5" fill="#2e9a4a" stroke="#b0b0b0" stroke-width="0.8"/><path d="M457.8 280.9V288.4" stroke="#1d6a33" stroke-width="0.3"/><circle cx="472.7" cy="285.8" r="4.7" fill="#2e9a4a" stroke="#b0b0b0" stroke-width="0.8"/><path d="M472.7 281.1V285.8" stroke="#1d6a33" stroke-width="0.3"/><circle cx="463.4" cy="303.8" r="6.5" fill="#2e9a4a" stroke="#b0b0b0" stroke-width="0.8"/><path d="M463.4 297.3V303.8" stroke="#1d6a33" stroke-width="0.3"/><circle cx="481.1" cy="304.2" r="5.4" fill="#2e9a4a" stroke="#b0b0b0" stroke-width="0.8"/><path d="M481.1 298.8V304.2" stroke="#1d6a33" stroke-width="0.3"/><circle cx="498.4" cy="306.1" r="5.4" fill="#2e9a4a" stroke="#b0b0b0" stroke-width="0.8"/><path d="M498.4 300.7V306.1" stroke="#1d6a33" stroke-width="0.3"/><circle cx="412.2" cy="308.9" r="4.7" fill="#2e9a4a" stroke="#b0b0b0" stroke-width="0.8"/><path d="M412.2 304.2V308.9" stroke="#1d6a33" stroke-width="0.3"/><circle cx="422.7" cy="311.2" r="5.1" fill="#2e9a4a" stroke="#b0b0b0" stroke-width="0.8"/><path d="M422.7 306.1V311.2" stroke="#1d6a33" stroke-width="0.3"/><circle cx="429.5" cy="315.9" r="5.8" fill="#2e9a4a" stroke="#b0b0b0" stroke-width="0.8"/><path d="M429.5 310.1V315.9" stroke="#1d6a33" stroke-width="0.3"/><circle cx="440.3" cy="312.4" r="4.7" fill="#2e9a4a" stroke="#b0b0b0" stroke-width="0.8"/><path d="M440.3 307.7V312.4" stroke="#1d6a33" stroke-width="0.3"/><circle cx="450.5" cy="316.4" r="7" fill="#2e9a4a" stroke="#b0b0b0" stroke-width="0.8"/><path d="M450.5 309.4V316.4" stroke="#1d6a33" stroke-width="0.3"/><circle cx="457" cy="307.7" r="4.7" fill="#2e9a4a" stroke="#b0b0b0" stroke-width="0.8"/><path d="M457 303V307.7" stroke="#1d6a33" stroke-width="0.3"/><circle cx="468" cy="317.8" r="3.5" fill="#2e9a4a" stroke="#b0b0b0" stroke-width="0.8"/><path d="M468 314.3V317.8" stroke="#1d6a33" stroke-width="0.3"/><circle cx="440.3" cy="322.2" r="5.1" fill="#2e9a4a" stroke="#b0b0b0" stroke-width="0.8"/><path d="M440.3 317.1V322.2" stroke="#1d6a33" stroke-width="0.3"/><circle cx="407.6" cy="328.3" r="3.7" fill="#f8f8b8"/><path d="M407.6 324.6A3.7 3.7 0 0 0 407.6 332Z" fill="#2e9a4a"/><path d="M407.6 324.6V332" stroke="#244" stroke-width="0.5"/><circle cx="407.6" cy="328.3" r="3.7" fill="none" stroke="#b0b0b0" stroke-width="0.8"/><circle cx="397.5" cy="336.5" r="4.4" fill="#2e9a4a" stroke="#b0b0b0" stroke-width="0.8"/><path d="M397.5 332.1V336.5" stroke="#1d6a33" stroke-width="0.3"/><circle cx="433.7" cy="335" r="6.5" fill="#f8f8b8"/><path d="M433.7 328.5A6.5 6.5 0 0 0 433.7 341.5Z" fill="#2e9a4a"/><path d="M433.7 328.5V341.5" stroke="#244" stroke-width="0.5"/><circle cx="433.7" cy="335" r="6.5" fill="none" stroke="#b0b0b0" stroke-width="0.8"/><circle cx="432.6" cy="344" r="3.3" fill="#2e9a4a" stroke="#b0b0b0" stroke-width="0.8"/><path d="M432.6 340.7V344" stroke="#1d6a33" stroke-width="0.3"/><circle cx="447" cy="337.4" r="4.7" fill="#2e9a4a" stroke="#b0b0b0" stroke-width="0.8"/><path d="M447 332.7V337.4" stroke="#1d6a33" stroke-width="0.3"/><circle cx="459.9" cy="337" r="7.7" fill="#f8f8b8"/><path d="M459.9 329.3A7.7 7.7 0 0 0 459.9 344.7Z" fill="#2e9a4a"/><path d="M459.9 329.3V344.7" stroke="#244" stroke-width="0.5"/><circle cx="459.9" cy="337" r="7.7" fill="none" stroke="#b0b0b0" stroke-width="0.8"/><circle cx="483.5" cy="338.6" r="4.2" fill="#2e9a4a" stroke="#b0b0b0" stroke-width="0.8"/><path d="M483.5 334.4V338.6" stroke="#1d6a33" stroke-width="0.3"/><circle cx="479.3" cy="359.6" r="4.2" fill="#2e9a4a" stroke="#b0b0b0" stroke-width="0.8"/><path d="M479.3 355.4V359.6" stroke="#1d6a33" stroke-width="0.3"/><circle cx="457.1" cy="365.7" r="4.7" fill="#2e9a4a" stroke="#b0b0b0" stroke-width="0.8"/><path d="M457.1 361V365.7" stroke="#1d6a33" stroke-width="0.3"/><circle cx="494.5" cy="368" r="5.8" fill="#2e9a4a" stroke="#b0b0b0" stroke-width="0.8"/><path d="M494.5 362.2V368" stroke="#1d6a33" stroke-width="0.3"/><circle cx="487.9" cy="382.5" r="5.4" fill="#f8f8b8"/><path d="M487.9 377.1A5.4 5.4 0 0 0 487.9 387.9Z" fill="#2e9a4a"/><path d="M487.9 377.1V387.9" stroke="#244" stroke-width="0.5"/><circle cx="487.9" cy="382.5" r="5.4" fill="none" stroke="#b0b0b0" stroke-width="0.8"/><circle cx="467.3" cy="393.5" r="8.5" fill="#f8f8b8"/><path d="M467.3 385A8.5 8.5 0 0 0 467.3 402Z" fill="#2e9a4a"/><path d="M467.3 385V402" stroke="#244" stroke-width="0.5"/><circle cx="467.3" cy="393.5" r="8.5" fill="none" stroke="#b0b0b0" stroke-width="0.8"/><circle cx="480.1" cy="431.3" r="5.5" fill="#2e9a4a" stroke="#b0b0b0" stroke-width="0.8"/><path d="M480.1 425.8V431.3" stroke="#1d6a33" stroke-width="0.3"/><circle cx="450.6" cy="446.7" r="7.7" fill="#f8f8b8"/><path d="M450.6 439A7.7 7.7 0 0 0 450.6 454.4Z" fill="#2e9a4a"/><path d="M450.6 439V454.4" stroke="#244" stroke-width="0.5"/><circle cx="450.6" cy="446.7" r="7.7" fill="none" stroke="#b0b0b0" stroke-width="0.8"/><circle cx="424.2" cy="475.6" r="3.5" fill="#f8f8b8" stroke="#b0b0b0" stroke-width="0.8"/><circle cx="461.2" cy="487.8" r="4.8" fill="#2e9a4a" stroke="#b0b0b0" stroke-width="0.8"/><path d="M461.2 483V487.8" stroke="#1d6a33" stroke-width="0.3"/><circle cx="529.5" cy="271.3" r="3.8" fill="#2e9a4a" stroke="#b0b0b0" stroke-width="0.8"/><path d="M529.5 267.5V271.3" stroke="#1d6a33" stroke-width="0.3"/><circle cx="526.7" cy="305.1" r="3.2" fill="#2e9a4a" stroke="#b0b0b0" stroke-width="0.8"/><path d="M526.7 301.9V305.1" stroke="#1d6a33" stroke-width="0.3"/><circle cx="565.4" cy="292.6" r="8.5" fill="#f8f8b8"/><path d="M565.4 284.1A8.5 8.5 0 0 0 565.4 301.1Z" fill="#2e9a4a"/><path d="M565.4 284.1V301.1" stroke="#244" stroke-width="0.5"/><circle cx="565.4" cy="292.6" r="8.5" fill="none" stroke="#b0b0b0" stroke-width="0.8"/><circle cx="581.2" cy="268.1" r="5.7" fill="#f8f8b8"/><path d="M581.2 262.4A5.7 5.7 0 0 0 581.2 273.8Z" fill="#2e9a4a"/><path d="M581.2 262.4V273.8" stroke="#244" stroke-width="0.5"/><circle cx="581.2" cy="268.1" r="5.7" fill="none" stroke="#b0b0b0" stroke-width="0.8"/><circle cx="601.5" cy="268.1" r="4.7" fill="#f8f8b8"/><path d="M601.5 263.4A4.7 4.7 0 0 0 601.5 272.8Z" fill="#2e9a4a"/><path d="M601.5 263.4V272.8" stroke="#244" stroke-width="0.5"/><circle cx="601.5" cy="268.1" r="4.7" fill="none" stroke="#b0b0b0" stroke-width="0.8"/><circle cx="615.7" cy="279.9" r="4.2" fill="#f8f8b8" stroke="#b0b0b0" stroke-width="0.8"/><circle cx="582.7" cy="285.9" r="6.6" fill="#f8f8b8"/><path d="M582.7 279.3A6.6 6.6 0 0 0 582.7 292.5Z" fill="#2e9a4a"/><path d="M582.7 279.3V292.5" stroke="#244" stroke-width="0.5"/><circle cx="582.7" cy="285.9" r="6.6" fill="none" stroke="#b0b0b0" stroke-width="0.8"/><circle cx="598.3" cy="296.4" r="4.2" fill="#2e9a4a" stroke="#b0b0b0" stroke-width="0.8"/><path d="M598.3 292.2V296.4" stroke="#1d6a33" stroke-width="0.3"/><circle cx="617.2" cy="300.7" r="4.6" fill="#2e9a4a" stroke="#b0b0b0" stroke-width="0.8"/><path d="M617.2 296.1V300.7" stroke="#1d6a33" stroke-width="0.3"/><circle cx="580.6" cy="310.2" r="5.7" fill="#f8f8b8"/><path d="M580.6 304.5A5.7 5.7 0 0 0 580.6 315.9Z" fill="#2e9a4a"/><path d="M580.6 304.5V315.9" stroke="#244" stroke-width="0.5"/><circle cx="580.6" cy="310.2" r="5.7" fill="none" stroke="#b0b0b0" stroke-width="0.8"/><circle cx="600.1" cy="317.8" r="4.9" fill="#f8f8b8"/><path d="M600.1 312.9A4.9 4.9 0 0 0 600.1 322.7Z" fill="#2e9a4a"/><path d="M600.1 312.9V322.7" stroke="#244" stroke-width="0.5"/><circle cx="600.1" cy="317.8" r="4.9" fill="none" stroke="#b0b0b0" stroke-width="0.8"/><circle cx="613.2" cy="365.7" r="6.5" fill="#f8f8b8"/><path d="M613.2 359.2A6.5 6.5 0 0 0 613.2 372.2Z" fill="#2e9a4a"/><path d="M613.2 359.2V372.2" stroke="#244" stroke-width="0.5"/><circle cx="613.2" cy="365.7" r="6.5" fill="none" stroke="#b0b0b0" stroke-width="0.8"/><circle cx="583.6" cy="380.1" r="5.9" fill="#f8f8b8"/><path d="M583.6 374.2A5.9 5.9 0 0 0 583.6 386Z" fill="#2e9a4a"/><path d="M583.6 374.2V386" stroke="#244" stroke-width="0.5"/><circle cx="583.6" cy="380.1" r="5.9" fill="none" stroke="#b0b0b0" stroke-width="0.8"/><circle cx="611.7" cy="408.3" r="3.3" fill="#2e9a4a" stroke="#b0b0b0" stroke-width="0.8"/><path d="M611.7 405V408.3" stroke="#1d6a33" stroke-width="0.3"/><circle cx="611.7" cy="445.8" r="7.7" fill="#2e9a4a" stroke="#b0b0b0" stroke-width="0.8"/><path d="M611.7 438.1V445.8" stroke="#1d6a33" stroke-width="0.3"/><circle cx="645.4" cy="440.7" r="5.9" fill="#2e9a4a" stroke="#b0b0b0" stroke-width="0.8"/><path d="M645.4 434.8V440.7" stroke="#1d6a33" stroke-width="0.3"/><circle cx="573.9" cy="463.7" r="5.1" fill="#2e9a4a" stroke="#b0b0b0" stroke-width="0.8"/><path d="M573.9 458.6V463.7" stroke="#1d6a33" stroke-width="0.3"/><circle cx="646.2" cy="467.5" r="5.1" fill="#2e9a4a" stroke="#b0b0b0" stroke-width="0.8"/><path d="M646.2 462.4V467.5" stroke="#1d6a33" stroke-width="0.3"/><circle cx="604" cy="480.3" r="5.9" fill="#2e9a4a" stroke="#b0b0b0" stroke-width="0.8"/><path d="M604 474.4V480.3" stroke="#1d6a33" stroke-width="0.3"/><circle cx="630.1" cy="482.1" r="7.2" fill="#2e9a4a" stroke="#b0b0b0" stroke-width="0.8"/><path d="M630.1 474.9V482.1" stroke="#1d6a33" stroke-width="0.3"/><circle cx="542.4" cy="484.6" r="8.2" fill="#2e9a4a" stroke="#b0b0b0" stroke-width="0.8"/><path d="M542.4 476.4V484.6" stroke="#1d6a33" stroke-width="0.3"/><text x="287.4" y="266.5" font-size="8.7">Leukocyte-mediated immunity</text><text x="454.3" y="253.1" font-size="8.7" text-anchor="middle">Cell-cell adhesion</text><text x="573.2" y="251.6" font-size="8.7" text-anchor="middle">Cell migration</text><text x="328.5" y="367" font-size="8.7">Regulation of hematopoiesis</text><text x="366.4" y="414.5" font-size="8.7">HSC homeostasis</text><text x="575.1" y="411.9" font-size="8.7" text-anchor="middle">Coagulation &amp;</text><text x="576.4" y="420.8" font-size="8.7" text-anchor="middle">megakaryocyte development</text><text x="313.9" y="461.3" font-size="7.5" text-anchor="end">Module 2</text><path d="M318.7 458.8H324.2M343.8 458.8H348.9" stroke="#666" stroke-width="0.7"/><circle cx="334" cy="458.9" r="9.8" fill="#f8f8b8"/><path d="M334 449.1A9.8 9.8 0 0 0 334 468.7Z" fill="#2e9a4a"/><path d="M334 449.1V468.7" stroke="#222" stroke-width="0.7"/><circle cx="334" cy="458.9" r="9.8" fill="none" stroke="#222" stroke-width="0.7"/><text x="351.2" y="461.4" font-size="7.5">Low output</text><circle cx="334" cy="488" r="9" fill="none" stroke="#111" stroke-width="0.6"/><circle cx="333.9" cy="492.3" r="4.6" fill="none" stroke="#111" stroke-width="0.6"/><path d="M334 479H349.3M332.5 487.6H349.3" stroke="#111" stroke-width="0.6"/><text x="351.3" y="481.6" font-size="7.2">100</text><text x="351.3" y="490" font-size="7.2">50</text>
<text x="0.8" y="528.2" font-size="14.5" font-weight="bold">g</text><rect x="26.6" y="542.6" width="15.4" height="134.9" fill="#3fa2ec"/><text transform="translate(34.3 610.05) rotate(-90)" text-anchor="middle" y="3" font-size="8.4" font-weight="bold" fill="#fff">Sub-module 1</text><rect x="26.6" y="679" width="15.4" height="58" fill="#79c142"/><text transform="translate(34.3 708) rotate(-90)" text-anchor="middle" y="3" font-size="8.4" font-weight="bold" fill="#fff">Sub-module 2</text><rect x="26.6" y="738.3" width="15.4" height="69.3" fill="#f7941d"/><text transform="translate(34.3 772.95) rotate(-90)" text-anchor="middle" y="3" font-size="8.4" font-weight="bold" fill="#fff">Sub-module 3</text><rect x="26.6" y="809.2" width="15.4" height="83.8" fill="#ed1c24"/><text transform="translate(34.3 851.1) rotate(-90)" text-anchor="middle" y="3" font-size="8.4" font-weight="bold" fill="#fff">Sub-module 4</text><path stroke="#bc97ff" stroke-width="1.02" d="M45 543.5h19.5M84 546.5h19.5M84 549.5h19.5M103.5 549.5h19.5M45 550.5h19.5M103.5 550.5h19.5M103.5 553.5h19.5M84 554.5h19.5M103.5 559.5h19.5M84 561.5h19.5M84 562.5h19.5M84 564.5h19.5M84 565.5h19.5M84 569.5h19.5M84 570.5h19.5M103.5 576.5h19.5M84 577.5h19.5M103.5 577.5h19.5M84 578.5h19.5M103.5 580.5h19.5M103.5 584.5h19.5M103.5 591.5h19.5M103.5 592.5h19.5M84 595.5h19.5M84 597.5h19.5M84 599.5h19.5M45 602.5h19.5M103.5 605.5h19.5M84 606.5h19.5M84 608.5h19.5M45 612.5h19.5M103.5 612.5h19.5M84 613.5h19.5M84 615.5h19.5M103.5 622.5h19.5M45 623.5h19.5M84 623.5h19.5M84 627.5h19.5M84 636.5h19.5M84 637.5h19.5M103.5 637.5h19.5M84 640.5h19.5M45 643.5h19.5M84 643.5h19.5M103.5 643.5h19.5M103.5 648.5h19.5M84 649.5h19.5M103.5 649.5h19.5M45 650.5h19.5M84 650.5h19.5M103.5 650.5h19.5M103.5 651.5h19.5M45 652.5h19.5M103.5 653.5h19.5M84 657.5h19.5M84 658.5h19.5M84 659.5h19.5M103.5 666.5h19.5M45 674.5h19.5M84 675.5h19.5M103.5 675.5h19.5M45 679.5h19.5M45 680.5h19.5M45 690.5h19.5M45 723.5h19.5M45 738.5h19.5M103.5 739.5h19.5M45 746.5h19.5M45 749.5h19.5M45 757.5h19.5M103.5 757.5h19.5M45 761.5h19.5M103.5 761.5h19.5M103.5 763.5h19.5M45 764.5h19.5M64.5 764.5h19.5M64.5 776.5h19.5M45 777.5h19.5M64.5 778.5h19.5M45 784.5h19.5M45 786.5h19.5M45 788.5h19.5M103.5 789.5h19.5M103.5 790.5h19.5M64.5 793.5h19.5M103.5 795.5h19.5M45 799.5h19.5M103.5 800.5h19.5M45 803.5h19.5M45 805.5h19.5M45 806.5h19.5M103.5 809.5h19.5M103.5 815.5h19.5M64.5 816.5h19.5M103.5 817.5h19.5M84 823.5h19.5M84 825.5h19.5M103.5 834.5h19.5M84 838.5h19.5M84 840.5h19.5M84 841.5h19.5M103.5 842.5h19.5M84 858.5h19.5M103.5 862.5h19.5M103.5 872.5h19.5M103.5 876.5h19.5M84 878.5h19.5M84 884.5h19.5M84 885.5h19.5" fill="none"/><path stroke="#ff3e22" stroke-width="1.02" d="M64.5 543.5h19.5M64.5 546.5h19.5M64.5 549.5h19.5M64.5 551.5h19.5M64.5 553.5h19.5M64.5 558.5h19.5M64.5 559.5h19.5M64.5 563.5h19.5M45 565.5h19.5M64.5 566.5h19.5M45 573.5h19.5M64.5 576.5h19.5M64.5 586.5h19.5M64.5 589.5h19.5M64.5 591.5h19.5M64.5 592.5h19.5M64.5 595.5h19.5M64.5 606.5h19.5M64.5 607.5h19.5M64.5 611.5h19.5M64.5 614.5h19.5M64.5 624.5h19.5M64.5 628.5h19.5M64.5 631.5h19.5M64.5 633.5h19.5M64.5 635.5h19.5M64.5 636.5h19.5M64.5 638.5h19.5M64.5 641.5h19.5M64.5 648.5h19.5M64.5 654.5h19.5M64.5 656.5h19.5M64.5 673.5h19.5M64.5 677.5h19.5M64.5 732.5h19.5M64.5 735.5h19.5M64.5 736.5h19.5M64.5 737.5h19.5M84 742.5h19.5M84 747.5h19.5M84 748.5h19.5M84 751.5h19.5M84 764.5h19.5M84 765.5h19.5M84 775.5h19.5M84 784.5h19.5M84 786.5h19.5M84 787.5h19.5M84 788.5h19.5M84 805.5h19.5M45 841.5h19.5M45 842.5h19.5M45 844.5h19.5M45 845.5h19.5M45 846.5h19.5M45 853.5h19.5M45 866.5h19.5M45 872.5h19.5M45 873.5h19.5M45 874.5h19.5M45 875.5h19.5M45 882.5h19.5M45 890.5h19.5M45 891.5h19.5" fill="none"/><path stroke="#c8a8ff" stroke-width="1.02" d="M84 543.5h19.5M84 544.5h19.5M84 545.5h19.5M103.5 546.5h19.5M103.5 551.5h19.5M84 555.5h19.5M84 557.5h19.5M103.5 564.5h19.5M84 568.5h19.5M84 571.5h19.5M45 576.5h19.5M103.5 581.5h19.5M103.5 582.5h19.5M45 586.5h19.5M84 590.5h19.5M45 601.5h19.5M45 608.5h19.5M45 609.5h19.5M84 620.5h19.5M45 622.5h19.5M103.5 623.5h19.5M84 624.5h19.5M84 625.5h19.5M84 631.5h19.5M45 633.5h19.5M103.5 636.5h19.5M84 639.5h19.5M45 642.5h19.5M103.5 646.5h19.5M103.5 652.5h19.5M84 654.5h19.5M84 656.5h19.5M103.5 657.5h19.5M45 659.5h19.5M45 661.5h19.5M45 663.5h19.5M84 663.5h19.5M84 665.5h19.5M84 674.5h19.5M45 676.5h19.5M45 689.5h19.5M45 704.5h19.5M45 731.5h19.5M103.5 744.5h19.5M45 745.5h19.5M103.5 746.5h19.5M45 750.5h19.5M45 751.5h19.5M45 756.5h19.5M64.5 757.5h19.5M103.5 759.5h19.5M45 760.5h19.5M45 765.5h19.5M45 766.5h19.5M103.5 767.5h19.5M45 768.5h19.5M45 769.5h19.5M64.5 769.5h19.5M103.5 772.5h19.5M64.5 773.5h19.5M64.5 774.5h19.5M45 776.5h19.5M64.5 777.5h19.5M45 780.5h19.5M45 782.5h19.5M45 785.5h19.5M103.5 785.5h19.5M103.5 788.5h19.5M45 794.5h19.5M103.5 794.5h19.5M103.5 796.5h19.5M45 801.5h19.5M103.5 801.5h19.5M45 808.5h19.5M84 810.5h19.5M84 811.5h19.5M84 814.5h19.5M103.5 814.5h19.5M103.5 816.5h19.5M84 820.5h19.5M84 822.5h19.5M103.5 831.5h19.5M84 837.5h19.5M84 839.5h19.5M84 842.5h19.5M103.5 870.5h19.5M103.5 880.5h19.5M103.5 884.5h19.5M103.5 887.5h19.5M84 892.5h19.5" fill="none"/><path stroke="#ae85ff" stroke-width="1.02" d="M103.5 543.5h19.5M103.5 548.5h19.5M84 552.5h19.5M84 553.5h19.5M103.5 555.5h19.5M103.5 556.5h19.5M103.5 560.5h19.5M84 566.5h19.5M84 567.5h19.5M45 569.5h19.5M84 572.5h19.5M84 573.5h19.5M84 575.5h19.5M84 585.5h19.5M84 592.5h19.5M103.5 595.5h19.5M84 600.5h19.5M103.5 600.5h19.5M84 601.5h19.5M84 603.5h19.5M103.5 604.5h19.5M84 605.5h19.5M103.5 606.5h19.5M103.5 613.5h19.5M84 616.5h19.5M45 619.5h19.5M84 619.5h19.5M45 621.5h19.5M84 621.5h19.5M84 622.5h19.5M103.5 625.5h19.5M84 626.5h19.5M103.5 627.5h19.5M84 630.5h19.5M103.5 631.5h19.5M45 632.5h19.5M103.5 633.5h19.5M84 635.5h19.5M103.5 638.5h19.5M84 642.5h19.5M84 644.5h19.5M84 646.5h19.5M84 647.5h19.5M84 648.5h19.5M103.5 655.5h19.5M45 656.5h19.5M45 658.5h19.5M103.5 660.5h19.5M84 661.5h19.5M45 662.5h19.5M103.5 662.5h19.5M84 666.5h19.5M45 703.5h19.5M103.5 738.5h19.5M45 741.5h19.5M45 742.5h19.5M103.5 743.5h19.5M45 744.5h19.5M45 752.5h19.5M45 753.5h19.5M45 755.5h19.5M103.5 758.5h19.5M64.5 765.5h19.5M103.5 770.5h19.5M45 781.5h19.5M103.5 781.5h19.5M45 783.5h19.5M103.5 787.5h19.5M45 789.5h19.5M103.5 791.5h19.5M45 793.5h19.5M103.5 793.5h19.5M64.5 798.5h19.5M103.5 798.5h19.5M103.5 799.5h19.5M84 815.5h19.5M84 819.5h19.5M84 824.5h19.5M84 833.5h19.5M84 843.5h19.5M103.5 849.5h19.5M84 851.5h19.5M84 853.5h19.5M84 856.5h19.5M84 859.5h19.5M103.5 868.5h19.5M84 871.5h19.5M84 882.5h19.5" fill="none"/><path stroke="#a074ff" stroke-width="1.02" d="M45 544.5h19.5M84 547.5h19.5M103.5 547.5h19.5M84 548.5h19.5M103.5 554.5h19.5M103.5 557.5h19.5M103.5 558.5h19.5M84 560.5h19.5M84 563.5h19.5M84 574.5h19.5M84 576.5h19.5M45 583.5h19.5M84 583.5h19.5M84 584.5h19.5M45 587.5h19.5M45 588.5h19.5M84 588.5h19.5M103.5 589.5h19.5M45 591.5h19.5M45 596.5h19.5M84 596.5h19.5M84 598.5h19.5M103.5 598.5h19.5M84 602.5h19.5M84 604.5h19.5M84 607.5h19.5M103.5 607.5h19.5M84 609.5h19.5M84 610.5h19.5M84 611.5h19.5M103.5 624.5h19.5M103.5 630.5h19.5M84 632.5h19.5M103.5 632.5h19.5M84 638.5h19.5M84 641.5h19.5M84 652.5h19.5M45 653.5h19.5M45 657.5h19.5M103.5 661.5h19.5M103.5 667.5h19.5M103.5 669.5h19.5M84 672.5h19.5M103.5 672.5h19.5M84 673.5h19.5M103.5 740.5h19.5M103.5 747.5h19.5M103.5 748.5h19.5M103.5 749.5h19.5M103.5 762.5h19.5M64.5 768.5h19.5M45 778.5h19.5M45 779.5h19.5M103.5 786.5h19.5M45 787.5h19.5M45 790.5h19.5M45 791.5h19.5M103.5 792.5h19.5M64.5 795.5h19.5M64.5 797.5h19.5M103.5 797.5h19.5M45 798.5h19.5M84 816.5h19.5M84 817.5h19.5M103.5 820.5h19.5M84 832.5h19.5M84 848.5h19.5M103.5 848.5h19.5M84 855.5h19.5M84 870.5h19.5M84 876.5h19.5M84 877.5h19.5M84 879.5h19.5M84 883.5h19.5M84 886.5h19.5M84 889.5h19.5M84 891.5h19.5" fill="none"/><path stroke="#ff5434" stroke-width="1.02" d="M64.5 544.5h19.5M64.5 547.5h19.5M64.5 548.5h19.5M64.5 552.5h19.5M64.5 557.5h19.5M64.5 560.5h19.5M64.5 569.5h19.5M64.5 577.5h19.5M64.5 578.5h19.5M64.5 579.5h19.5M64.5 580.5h19.5M64.5 581.5h19.5M64.5 584.5h19.5M64.5 588.5h19.5M64.5 598.5h19.5M64.5 616.5h19.5M64.5 619.5h19.5M64.5 625.5h19.5M64.5 637.5h19.5M64.5 642.5h19.5M64.5 652.5h19.5M64.5 655.5h19.5M64.5 657.5h19.5M64.5 669.5h19.5M64.5 670.5h19.5M64.5 671.5h19.5M64.5 674.5h19.5M64.5 675.5h19.5M64.5 693.5h19.5M64.5 696.5h19.5M64.5 699.5h19.5M64.5 733.5h19.5M84 739.5h19.5M84 740.5h19.5M84 741.5h19.5M84 743.5h19.5M84 744.5h19.5M84 746.5h19.5M84 754.5h19.5M84 763.5h19.5M84 766.5h19.5M84 780.5h19.5M84 789.5h19.5M84 790.5h19.5M84 806.5h19.5M45 814.5h19.5M45 818.5h19.5M45 851.5h19.5M45 862.5h19.5M45 863.5h19.5M45 865.5h19.5M45 869.5h19.5M45 880.5h19.5M45 884.5h19.5M45 887.5h19.5M45 889.5h19.5M45 892.5h19.5" fill="none"/><path stroke="#d4b9ff" stroke-width="1.02" d="M103.5 544.5h19.5M103.5 545.5h19.5M84 556.5h19.5M84 559.5h19.5M103.5 561.5h19.5M103.5 565.5h19.5M103.5 566.5h19.5M103.5 568.5h19.5M103.5 569.5h19.5M103.5 574.5h19.5M103.5 575.5h19.5M103.5 578.5h19.5M45 579.5h19.5M84 581.5h19.5M84 586.5h19.5M84 587.5h19.5M103.5 594.5h19.5M45 597.5h19.5M103.5 601.5h19.5M45 615.5h19.5M103.5 621.5h19.5M45 627.5h19.5M45 628.5h19.5M84 628.5h19.5M45 630.5h19.5M45 631.5h19.5M103.5 634.5h19.5M45 639.5h19.5M103.5 639.5h19.5M103.5 640.5h19.5M45 641.5h19.5M103.5 647.5h19.5M45 649.5h19.5M45 654.5h19.5M103.5 656.5h19.5M45 660.5h19.5M84 660.5h19.5M84 662.5h19.5M45 665.5h19.5M103.5 674.5h19.5M103.5 676.5h19.5M45 681.5h19.5M45 694.5h19.5M45 728.5h19.5M45 729.5h19.5M45 730.5h19.5M45 740.5h19.5M64.5 752.5h19.5M103.5 752.5h19.5M103.5 753.5h19.5M64.5 756.5h19.5M103.5 756.5h19.5M45 759.5h19.5M64.5 759.5h19.5M45 762.5h19.5M45 763.5h19.5M103.5 764.5h19.5M103.5 765.5h19.5M64.5 766.5h19.5M103.5 766.5h19.5M45 767.5h19.5M64.5 767.5h19.5M103.5 768.5h19.5M64.5 770.5h19.5M103.5 771.5h19.5M103.5 775.5h19.5M64.5 782.5h19.5M103.5 782.5h19.5M103.5 784.5h19.5M64.5 786.5h19.5M64.5 802.5h19.5M103.5 803.5h19.5M64.5 804.5h19.5M103.5 805.5h19.5M103.5 806.5h19.5M45 807.5h19.5M103.5 807.5h19.5M103.5 808.5h19.5M103.5 811.5h19.5M103.5 822.5h19.5M103.5 824.5h19.5M64.5 830.5h19.5M103.5 830.5h19.5M103.5 833.5h19.5M103.5 835.5h19.5M103.5 838.5h19.5M103.5 839.5h19.5M103.5 843.5h19.5M103.5 844.5h19.5M103.5 846.5h19.5M103.5 847.5h19.5M103.5 850.5h19.5M103.5 851.5h19.5M103.5 853.5h19.5M84 857.5h19.5M103.5 867.5h19.5M103.5 871.5h19.5M103.5 877.5h19.5" fill="none"/><path stroke="#9063ff" stroke-width="1.02" d="M45 545.5h19.5M84 550.5h19.5M45 551.5h19.5M103.5 552.5h19.5M84 579.5h19.5M84 580.5h19.5M103.5 593.5h19.5M103.5 597.5h19.5M103.5 609.5h19.5M103.5 610.5h19.5M84 617.5h19.5M103.5 618.5h19.5M45 624.5h19.5M103.5 629.5h19.5M84 634.5h19.5M103.5 635.5h19.5M84 645.5h19.5M84 651.5h19.5M84 653.5h19.5M84 667.5h19.5M84 668.5h19.5M103.5 668.5h19.5M103.5 680.5h19.5M103.5 682.5h19.5M45 743.5h19.5M103.5 750.5h19.5M103.5 751.5h19.5M45 754.5h19.5M45 792.5h19.5M64.5 794.5h19.5M45 795.5h19.5M45 797.5h19.5M103.5 802.5h19.5M45 804.5h19.5M103.5 812.5h19.5M103.5 818.5h19.5M103.5 819.5h19.5M103.5 832.5h19.5M84 835.5h19.5M84 846.5h19.5M84 847.5h19.5M84 849.5h19.5M84 852.5h19.5M84 862.5h19.5M84 863.5h19.5M84 866.5h19.5M84 868.5h19.5M84 869.5h19.5M103.5 873.5h19.5M103.5 875.5h19.5M84 880.5h19.5M84 888.5h19.5M84 890.5h19.5" fill="none"/><path stroke="#ff7958" stroke-width="1.02" d="M64.5 545.5h19.5M45 552.5h19.5M45 555.5h19.5M45 556.5h19.5M64.5 556.5h19.5M45 558.5h19.5M45 567.5h19.5M64.5 570.5h19.5M64.5 583.5h19.5M64.5 602.5h19.5M64.5 609.5h19.5M64.5 644.5h19.5M64.5 645.5h19.5M64.5 650.5h19.5M64.5 660.5h19.5M64.5 666.5h19.5M64.5 676.5h19.5M84 678.5h19.5M64.5 683.5h19.5M64.5 685.5h19.5M64.5 689.5h19.5M45 692.5h19.5M64.5 697.5h19.5M64.5 709.5h19.5M64.5 710.5h19.5M84 718.5h19.5M64.5 721.5h19.5M84 727.5h19.5M84 757.5h19.5M84 759.5h19.5M84 760.5h19.5M84 761.5h19.5M84 767.5h19.5M84 768.5h19.5M84 796.5h19.5M84 799.5h19.5M84 800.5h19.5M84 802.5h19.5M45 810.5h19.5M45 812.5h19.5M45 819.5h19.5M45 820.5h19.5M45 821.5h19.5M64.5 822.5h19.5M64.5 827.5h19.5M45 831.5h19.5M45 834.5h19.5M64.5 837.5h19.5M64.5 842.5h19.5M45 855.5h19.5M45 857.5h19.5M64.5 857.5h19.5M45 870.5h19.5M45 871.5h19.5M64.5 874.5h19.5M45 877.5h19.5M45 879.5h19.5M64.5 880.5h19.5M45 883.5h19.5M45 888.5h19.5" fill="none"/><path stroke="#ffd4c5" stroke-width="1.02" d="M45 546.5h19.5M45 571.5h19.5M45 584.5h19.5M45 589.5h19.5M45 592.5h19.5M45 595.5h19.5M45 598.5h19.5M45 603.5h19.5M45 604.5h19.5M45 611.5h19.5M45 683.5h19.5M45 687.5h19.5M45 688.5h19.5M84 688.5h19.5M45 696.5h19.5M84 704.5h19.5M45 709.5h19.5M84 710.5h19.5M84 714.5h19.5M45 720.5h19.5M45 722.5h19.5M45 725.5h19.5M64.5 727.5h19.5M84 735.5h19.5M64.5 741.5h19.5M64.5 749.5h19.5M64.5 753.5h19.5M64.5 760.5h19.5M64.5 772.5h19.5M64.5 775.5h19.5M64.5 784.5h19.5M64.5 785.5h19.5M64.5 789.5h19.5M64.5 800.5h19.5M64.5 803.5h19.5M64.5 805.5h19.5" fill="none"/><path stroke="#ff6846" stroke-width="1.02" d="M45 547.5h19.5M64.5 554.5h19.5M64.5 555.5h19.5M45 557.5h19.5M45 563.5h19.5M64.5 573.5h19.5M64.5 590.5h19.5M64.5 593.5h19.5M64.5 594.5h19.5M64.5 601.5h19.5M64.5 603.5h19.5M64.5 604.5h19.5M64.5 608.5h19.5M64.5 610.5h19.5M64.5 612.5h19.5M64.5 613.5h19.5M64.5 620.5h19.5M64.5 621.5h19.5M64.5 622.5h19.5M64.5 627.5h19.5M64.5 634.5h19.5M64.5 643.5h19.5M64.5 651.5h19.5M64.5 653.5h19.5M64.5 664.5h19.5M64.5 667.5h19.5M64.5 682.5h19.5M64.5 684.5h19.5M64.5 692.5h19.5M64.5 698.5h19.5M45 713.5h19.5M64.5 715.5h19.5M64.5 734.5h19.5M64.5 738.5h19.5M84 756.5h19.5M84 758.5h19.5M84 762.5h19.5M84 773.5h19.5M84 774.5h19.5M84 778.5h19.5M84 792.5h19.5M84 797.5h19.5M84 798.5h19.5M84 801.5h19.5M84 803.5h19.5M84 807.5h19.5M45 809.5h19.5M45 811.5h19.5M45 813.5h19.5M45 816.5h19.5M45 817.5h19.5M64.5 821.5h19.5M45 824.5h19.5M45 825.5h19.5M45 826.5h19.5M45 836.5h19.5M45 837.5h19.5M45 839.5h19.5M45 847.5h19.5M45 852.5h19.5M45 856.5h19.5M45 858.5h19.5M45 859.5h19.5M45 860.5h19.5M45 861.5h19.5M45 867.5h19.5M45 868.5h19.5M45 876.5h19.5M45 881.5h19.5M45 885.5h19.5" fill="none"/><path stroke="#ff997b" stroke-width="1.02" d="M45 548.5h19.5M45 559.5h19.5M45 562.5h19.5M45 564.5h19.5M64.5 572.5h19.5M45 574.5h19.5M45 575.5h19.5M64.5 582.5h19.5M45 634.5h19.5M45 635.5h19.5M64.5 661.5h19.5M64.5 686.5h19.5M64.5 687.5h19.5M45 691.5h19.5M64.5 702.5h19.5M64.5 705.5h19.5M64.5 706.5h19.5M64.5 707.5h19.5M64.5 711.5h19.5M64.5 717.5h19.5M64.5 718.5h19.5M64.5 719.5h19.5M64.5 724.5h19.5M84 726.5h19.5M84 728.5h19.5M64.5 729.5h19.5M84 731.5h19.5M84 755.5h19.5M84 772.5h19.5M84 794.5h19.5M84 795.5h19.5M64.5 809.5h19.5M64.5 814.5h19.5M64.5 826.5h19.5M45 827.5h19.5M45 832.5h19.5M64.5 833.5h19.5M64.5 839.5h19.5M64.5 848.5h19.5M64.5 867.5h19.5M64.5 870.5h19.5M64.5 872.5h19.5M45 886.5h19.5" fill="none"/><path stroke="#ffa88d" stroke-width="1.02" d="M45 549.5h19.5M45 560.5h19.5M45 561.5h19.5M64.5 571.5h19.5M45 572.5h19.5M45 580.5h19.5M45 670.5h19.5M84 679.5h19.5M64.5 680.5h19.5M84 686.5h19.5M84 696.5h19.5M45 698.5h19.5M64.5 700.5h19.5M84 702.5h19.5M45 712.5h19.5M64.5 712.5h19.5M64.5 713.5h19.5M45 716.5h19.5M84 716.5h19.5M45 717.5h19.5M45 721.5h19.5M84 721.5h19.5M84 722.5h19.5M45 727.5h19.5M84 729.5h19.5M84 730.5h19.5M84 732.5h19.5M45 733.5h19.5M45 734.5h19.5M84 737.5h19.5M64.5 780.5h19.5M64.5 783.5h19.5M64.5 788.5h19.5M84 793.5h19.5M64.5 810.5h19.5M64.5 823.5h19.5M64.5 824.5h19.5M45 828.5h19.5M64.5 828.5h19.5M64.5 834.5h19.5M45 835.5h19.5M64.5 841.5h19.5M64.5 844.5h19.5M64.5 847.5h19.5M64.5 851.5h19.5M64.5 854.5h19.5M64.5 858.5h19.5M64.5 864.5h19.5M64.5 869.5h19.5M64.5 876.5h19.5M64.5 881.5h19.5M64.5 882.5h19.5M64.5 890.5h19.5" fill="none"/><path stroke="#ff1b0a" stroke-width="1.02" d="M64.5 550.5h19.5M64.5 561.5h19.5M64.5 562.5h19.5M64.5 564.5h19.5M64.5 567.5h19.5M64.5 568.5h19.5M64.5 574.5h19.5M64.5 587.5h19.5M64.5 596.5h19.5M64.5 599.5h19.5M64.5 605.5h19.5M64.5 615.5h19.5M64.5 618.5h19.5M64.5 623.5h19.5M64.5 626.5h19.5M64.5 630.5h19.5M64.5 632.5h19.5M64.5 639.5h19.5M64.5 649.5h19.5M64.5 663.5h19.5M64.5 672.5h19.5M64.5 695.5h19.5M64.5 731.5h19.5M84 738.5h19.5M84 749.5h19.5M84 750.5h19.5M84 752.5h19.5M84 753.5h19.5M84 776.5h19.5M84 777.5h19.5M84 779.5h19.5M84 783.5h19.5M84 791.5h19.5M84 804.5h19.5M84 808.5h19.5M45 815.5h19.5M45 843.5h19.5M45 849.5h19.5" fill="none"/><path stroke="#7e52ff" stroke-width="1.02" d="M84 551.5h19.5M103.5 588.5h19.5M103.5 590.5h19.5M84 593.5h19.5M84 594.5h19.5M103.5 611.5h19.5M84 614.5h19.5M103.5 614.5h19.5M103.5 616.5h19.5M103.5 628.5h19.5M84 633.5h19.5M103.5 644.5h19.5M45 651.5h19.5M103.5 663.5h19.5M84 669.5h19.5M84 670.5h19.5M103.5 681.5h19.5M103.5 707.5h19.5M103.5 713.5h19.5M103.5 714.5h19.5M103.5 716.5h19.5M103.5 722.5h19.5M103.5 723.5h19.5M103.5 736.5h19.5M45 739.5h19.5M103.5 745.5h19.5M84 818.5h19.5M84 826.5h19.5M84 827.5h19.5M84 830.5h19.5M84 831.5h19.5M84 834.5h19.5M84 836.5h19.5M84 850.5h19.5M84 854.5h19.5M84 861.5h19.5M84 864.5h19.5M84 865.5h19.5M84 867.5h19.5M84 881.5h19.5M84 887.5h19.5" fill="none"/><path stroke="#ffb7a0" stroke-width="1.02" d="M45 553.5h19.5M45 581.5h19.5M45 599.5h19.5M45 646.5h19.5M45 648.5h19.5M45 671.5h19.5M45 675.5h19.5M84 680.5h19.5M84 681.5h19.5M45 686.5h19.5M84 692.5h19.5M45 693.5h19.5M84 697.5h19.5M84 700.5h19.5M64.5 701.5h19.5M84 701.5h19.5M45 705.5h19.5M84 707.5h19.5M84 711.5h19.5M45 714.5h19.5M45 715.5h19.5M64.5 725.5h19.5M84 725.5h19.5M64.5 728.5h19.5M45 735.5h19.5M45 736.5h19.5M84 736.5h19.5M64.5 739.5h19.5M64.5 740.5h19.5M64.5 743.5h19.5M64.5 744.5h19.5M64.5 746.5h19.5M64.5 801.5h19.5M64.5 806.5h19.5M64.5 812.5h19.5M64.5 818.5h19.5M64.5 838.5h19.5M64.5 845.5h19.5M64.5 846.5h19.5M64.5 852.5h19.5M64.5 860.5h19.5M64.5 865.5h19.5M64.5 866.5h19.5M64.5 873.5h19.5M64.5 875.5h19.5M64.5 884.5h19.5M64.5 891.5h19.5" fill="none"/><path stroke="#ffc6b2" stroke-width="1.02" d="M45 554.5h19.5M45 568.5h19.5M45 570.5h19.5M45 610.5h19.5M45 614.5h19.5M45 616.5h19.5M45 618.5h19.5M45 637.5h19.5M45 638.5h19.5M45 640.5h19.5M45 645.5h19.5M45 647.5h19.5M45 667.5h19.5M45 668.5h19.5M45 672.5h19.5M45 682.5h19.5M84 684.5h19.5M84 687.5h19.5M84 690.5h19.5M84 691.5h19.5M84 693.5h19.5M84 694.5h19.5M84 699.5h19.5M45 701.5h19.5M64.5 703.5h19.5M84 703.5h19.5M84 705.5h19.5M84 706.5h19.5M45 708.5h19.5M84 708.5h19.5M84 712.5h19.5M84 713.5h19.5M84 715.5h19.5M84 719.5h19.5M84 720.5h19.5M84 723.5h19.5M45 724.5h19.5M45 726.5h19.5M64.5 726.5h19.5M45 732.5h19.5M84 734.5h19.5M64.5 747.5h19.5M64.5 748.5h19.5M64.5 754.5h19.5M64.5 755.5h19.5M64.5 761.5h19.5M64.5 781.5h19.5M64.5 787.5h19.5" fill="none"/><path stroke="#e0caff" stroke-width="1.02" d="M84 558.5h19.5M103.5 562.5h19.5M103.5 570.5h19.5M45 578.5h19.5M45 582.5h19.5M84 582.5h19.5M84 589.5h19.5M84 591.5h19.5M45 593.5h19.5M103.5 596.5h19.5M103.5 603.5h19.5M45 605.5h19.5M45 606.5h19.5M45 613.5h19.5M84 618.5h19.5M103.5 619.5h19.5M45 620.5h19.5M103.5 620.5h19.5M45 625.5h19.5M103.5 626.5h19.5M84 629.5h19.5M103.5 641.5h19.5M45 644.5h19.5M103.5 645.5h19.5M103.5 658.5h19.5M103.5 659.5h19.5M84 664.5h19.5M45 666.5h19.5M45 669.5h19.5M84 677.5h19.5M103.5 677.5h19.5M45 695.5h19.5M45 697.5h19.5M45 702.5h19.5M45 706.5h19.5M45 718.5h19.5M64.5 742.5h19.5M103.5 742.5h19.5M64.5 745.5h19.5M45 747.5h19.5M45 748.5h19.5M64.5 750.5h19.5M64.5 751.5h19.5M103.5 754.5h19.5M103.5 755.5h19.5M64.5 758.5h19.5M103.5 760.5h19.5M64.5 763.5h19.5M103.5 769.5h19.5M45 770.5h19.5M45 771.5h19.5M64.5 771.5h19.5M45 772.5h19.5M45 773.5h19.5M45 774.5h19.5M45 775.5h19.5M103.5 780.5h19.5M64.5 791.5h19.5M64.5 796.5h19.5M64.5 799.5h19.5M45 800.5h19.5M103.5 804.5h19.5M64.5 807.5h19.5M64.5 808.5h19.5M84 813.5h19.5M103.5 813.5h19.5M103.5 821.5h19.5M103.5 829.5h19.5M64.5 831.5h19.5M103.5 836.5h19.5M103.5 845.5h19.5M103.5 859.5h19.5M103.5 863.5h19.5M103.5 866.5h19.5M103.5 869.5h19.5M103.5 881.5h19.5M103.5 882.5h19.5M103.5 889.5h19.5M103.5 892.5h19.5" fill="none"/><path stroke="#ffffff" stroke-width="1.02" d="M103.5 563.5h19.5M103.5 573.5h19.5M84 685.5h19.5M103.5 776.5h19.5M103.5 778.5h19.5M103.5 810.5h19.5M64.5 811.5h19.5M103.5 823.5h19.5M103.5 825.5h19.5M64.5 832.5h19.5M64.5 836.5h19.5M103.5 855.5h19.5M103.5 856.5h19.5M103.5 860.5h19.5M103.5 864.5h19.5M64.5 868.5h19.5M64.5 883.5h19.5M64.5 888.5h19.5M103.5 888.5h19.5" fill="none"/><path stroke="#ff0000" stroke-width="1.02" d="M64.5 565.5h19.5M64.5 575.5h19.5M64.5 597.5h19.5M64.5 629.5h19.5M64.5 640.5h19.5M64.5 646.5h19.5M64.5 647.5h19.5M64.5 668.5h19.5M84 781.5h19.5M84 782.5h19.5M84 785.5h19.5M45 848.5h19.5M45 864.5h19.5" fill="none"/><path stroke="#ff8969" stroke-width="1.02" d="M45 566.5h19.5M64.5 585.5h19.5M64.5 600.5h19.5M64.5 617.5h19.5M64.5 658.5h19.5M64.5 659.5h19.5M64.5 662.5h19.5M64.5 665.5h19.5M64.5 678.5h19.5M64.5 679.5h19.5M64.5 681.5h19.5M84 683.5h19.5M45 684.5h19.5M45 685.5h19.5M64.5 688.5h19.5M64.5 690.5h19.5M64.5 691.5h19.5M64.5 694.5h19.5M84 695.5h19.5M64.5 708.5h19.5M45 711.5h19.5M64.5 714.5h19.5M64.5 716.5h19.5M84 717.5h19.5M64.5 720.5h19.5M64.5 722.5h19.5M64.5 723.5h19.5M64.5 730.5h19.5M84 745.5h19.5M84 769.5h19.5M84 770.5h19.5M84 771.5h19.5M64.5 813.5h19.5M64.5 819.5h19.5M64.5 820.5h19.5M45 822.5h19.5M45 823.5h19.5M64.5 825.5h19.5M45 829.5h19.5M45 830.5h19.5M45 833.5h19.5M45 838.5h19.5M45 840.5h19.5M64.5 843.5h19.5M64.5 849.5h19.5M45 850.5h19.5M64.5 850.5h19.5M45 854.5h19.5M64.5 855.5h19.5M64.5 856.5h19.5M64.5 871.5h19.5M64.5 877.5h19.5M45 878.5h19.5M64.5 878.5h19.5M64.5 879.5h19.5M64.5 885.5h19.5" fill="none"/><path stroke="#ebdcff" stroke-width="1.02" d="M103.5 567.5h19.5M103.5 572.5h19.5M45 585.5h19.5M45 594.5h19.5M45 600.5h19.5M45 607.5h19.5M84 655.5h19.5M45 664.5h19.5M45 673.5h19.5M103.5 673.5h19.5M84 676.5h19.5M45 678.5h19.5M45 699.5h19.5M45 700.5h19.5M45 707.5h19.5M45 710.5h19.5M45 719.5h19.5M45 737.5h19.5M103.5 773.5h19.5M103.5 774.5h19.5M103.5 777.5h19.5M103.5 783.5h19.5M64.5 790.5h19.5M64.5 792.5h19.5M45 802.5h19.5M84 812.5h19.5M64.5 815.5h19.5M103.5 827.5h19.5M64.5 829.5h19.5M103.5 837.5h19.5M64.5 853.5h19.5M103.5 854.5h19.5M103.5 857.5h19.5M103.5 858.5h19.5M64.5 862.5h19.5M103.5 883.5h19.5M103.5 885.5h19.5M64.5 886.5h19.5M64.5 887.5h19.5M64.5 889.5h19.5" fill="none"/><path stroke="#fff1eb" stroke-width="1.02" d="M103.5 571.5h19.5M84 682.5h19.5M103.5 779.5h19.5" fill="none"/><path stroke="#ffe2d8" stroke-width="1.02" d="M45 577.5h19.5M103.5 583.5h19.5M45 590.5h19.5M45 617.5h19.5M45 626.5h19.5M45 629.5h19.5M45 636.5h19.5M45 655.5h19.5M45 677.5h19.5M84 689.5h19.5M84 698.5h19.5M64.5 704.5h19.5M84 709.5h19.5M84 724.5h19.5M84 733.5h19.5M64.5 762.5h19.5M64.5 779.5h19.5" fill="none"/><path stroke="#f5edff" stroke-width="1.02" d="M103.5 579.5h19.5M103.5 602.5h19.5M103.5 642.5h19.5M103.5 741.5h19.5M45 758.5h19.5M84 809.5h19.5M64.5 817.5h19.5M84 821.5h19.5M103.5 826.5h19.5M103.5 828.5h19.5M64.5 835.5h19.5M64.5 840.5h19.5M103.5 840.5h19.5M103.5 841.5h19.5M103.5 852.5h19.5M64.5 859.5h19.5M64.5 861.5h19.5M103.5 861.5h19.5M64.5 863.5h19.5M103.5 865.5h19.5M103.5 878.5h19.5M103.5 879.5h19.5M103.5 886.5h19.5M103.5 890.5h19.5M103.5 891.5h19.5M64.5 892.5h19.5" fill="none"/><path stroke="#6a3fff" stroke-width="1.02" d="M103.5 585.5h19.5M103.5 586.5h19.5M103.5 587.5h19.5M103.5 599.5h19.5M84 612.5h19.5M103.5 615.5h19.5M103.5 617.5h19.5M103.5 664.5h19.5M103.5 665.5h19.5M103.5 670.5h19.5M84 671.5h19.5M103.5 671.5h19.5M103.5 678.5h19.5M103.5 679.5h19.5M103.5 683.5h19.5M103.5 684.5h19.5M103.5 699.5h19.5M103.5 700.5h19.5M103.5 703.5h19.5M103.5 704.5h19.5M103.5 705.5h19.5M103.5 709.5h19.5M103.5 712.5h19.5M103.5 717.5h19.5M103.5 724.5h19.5M45 796.5h19.5M84 828.5h19.5M84 844.5h19.5M84 860.5h19.5M84 872.5h19.5M84 873.5h19.5M84 875.5h19.5" fill="none"/><path stroke="#502bff" stroke-width="1.02" d="M103.5 608.5h19.5M103.5 654.5h19.5M103.5 685.5h19.5M103.5 686.5h19.5M103.5 689.5h19.5M103.5 696.5h19.5M103.5 697.5h19.5M103.5 718.5h19.5M103.5 721.5h19.5M103.5 725.5h19.5M103.5 731.5h19.5M103.5 734.5h19.5M84 845.5h19.5M84 874.5h19.5M103.5 874.5h19.5" fill="none"/><path stroke="#2610ff" stroke-width="1.02" d="M103.5 687.5h19.5M103.5 688.5h19.5M103.5 698.5h19.5M103.5 701.5h19.5M103.5 706.5h19.5M103.5 708.5h19.5M103.5 710.5h19.5M103.5 711.5h19.5M103.5 715.5h19.5M103.5 719.5h19.5M103.5 732.5h19.5M103.5 735.5h19.5M103.5 737.5h19.5M84 829.5h19.5" fill="none"/><path stroke="#0000ff" stroke-width="1.02" d="M103.5 690.5h19.5M103.5 691.5h19.5M103.5 692.5h19.5M103.5 693.5h19.5M103.5 694.5h19.5M103.5 695.5h19.5M103.5 702.5h19.5M103.5 720.5h19.5M103.5 726.5h19.5M103.5 727.5h19.5M103.5 728.5h19.5M103.5 729.5h19.5M103.5 730.5h19.5M103.5 733.5h19.5" fill="none"/><text transform="translate(54.4 903.5) rotate(-90)" text-anchor="middle" y="2.6" font-size="7.4">D0</text><text transform="translate(73.7 903.5) rotate(-90)" text-anchor="middle" y="2.6" font-size="7.4">D1</text><text transform="translate(93.4 903.5) rotate(-90)" text-anchor="middle" y="2.6" font-size="7.4">D3</text><text transform="translate(113.2 903.5) rotate(-90)" text-anchor="middle" y="2.6" font-size="7.4">D21</text><text x="135.8" y="549.2" font-size="7.6" font-style="italic">Rsad2</text><text x="135.8" y="556.2" font-size="7.6" font-style="italic">Pf4</text><text x="135.8" y="563.6" font-size="7.6" font-style="italic">Thbs1</text><text x="135.8" y="571.6" font-size="7.6" font-style="italic">Procr</text><text x="135.8" y="579" font-size="7.6" font-style="italic">Vwf</text><text x="135.8" y="586.9" font-size="7.6" font-style="italic">Gsn</text><text x="135.8" y="594.4" font-size="7.6" font-style="italic">Stat1</text><text x="135.8" y="601.8" font-size="7.6" font-style="italic">Oasl2</text><text x="135.8" y="608.8" font-size="7.6" font-style="italic">Ltf</text><text x="135.8" y="616.3" font-size="7.6" font-style="italic">Gp9</text><text x="135.8" y="623.7" font-size="7.6" font-style="italic">Plscr1</text><text x="135.8" y="631.6" font-size="7.6" font-style="italic">Clu</text><text x="135.8" y="639.1" font-size="7.6" font-style="italic">Plek</text><text x="135.8" y="647" font-size="7.6" font-style="italic">Axl</text><text x="135.8" y="654.4" font-size="7.6" font-style="italic">Cxcr4</text><text x="135.8" y="670.8" font-size="7.6" font-style="italic">Hes1</text><text x="135.8" y="677.8" font-size="7.6" font-style="italic">Klf4</text><text x="135.8" y="685.4" font-size="7.6" font-style="italic">Hbegf</text><text x="135.8" y="693.2" font-size="7.6" font-style="italic">Ramp3</text><text x="135.8" y="700.6" font-size="7.6" font-style="italic">Cd28</text><text x="135.8" y="708.1" font-size="7.6" font-style="italic">Vegfa</text><text x="135.8" y="715.7" font-size="7.6" font-style="italic">Smad7</text><text x="135.8" y="723.1" font-size="7.6" font-style="italic">Bmpr2</text><text x="135.8" y="730.7" font-size="7.6" font-style="italic">Ski</text><text x="135.8" y="746.9" font-size="7.6" font-style="italic">Tnf</text><text x="135.8" y="756" font-size="7.6" font-style="italic">Sulf2</text><text x="135.8" y="775.1" font-size="7.6" font-style="italic">Nrarp</text><text x="135.8" y="782.6" font-size="7.6" font-style="italic">Cdkn1c</text><text x="135.8" y="789.6" font-size="7.6" font-style="italic">Nlrc3</text><text x="135.8" y="797.4" font-size="7.6" font-style="italic">Ptprn</text><text x="135.8" y="805.3" font-size="7.6" font-style="italic">Hoxa5</text><text x="135.8" y="812.3" font-size="7.6" font-style="italic">Nfkbiz</text><text x="135.8" y="819.8" font-size="7.6" font-style="italic">Ctla2a</text><text x="135.8" y="827.2" font-size="7.6" font-style="italic">Rora</text><text x="135.8" y="834.7" font-size="7.6" font-style="italic">Flt3</text><text x="135.8" y="842.2" font-size="7.6" font-style="italic">Cd83</text><text x="135.8" y="849.6" font-size="7.6" font-style="italic">Ctla4</text><text x="135.8" y="856.6" font-size="7.6" font-style="italic">Satb1</text><text x="135.8" y="869.4" font-size="7.6" font-style="italic">Tgfbr2</text><text x="135.8" y="877.2" font-size="7.6" font-style="italic">Rara</text><path d="M126.8 547H128.6C130.4 547 129.9 546.6 131.8 546.6H134.8M126.8 547.5H128.6C130.4 547.5 129.9 553.6 131.8 553.6H134.8M126.8 557H128.6C130.4 557 129.9 561 131.8 561H134.8M126.8 557.5H128.6C130.4 557.5 129.9 569 131.8 569H134.8M126.8 571H128.6C130.4 571 129.9 576.4 131.8 576.4H134.8M126.8 578H128.6C130.4 578 129.9 584.3 131.8 584.3H134.8M126.8 578.5H128.6C130.4 578.5 129.9 591.8 131.8 591.8H134.8M126.8 586H128.6C130.4 586 129.9 599.2 131.8 599.2H134.8M126.8 593H128.6C130.4 593 129.9 606.2 131.8 606.2H134.8M126.8 598H128.6C130.4 598 129.9 613.7 131.8 613.7H134.8M126.8 607H128.6C130.4 607 129.9 621.1 131.8 621.1H134.8M126.8 614H128.6C130.4 614 129.9 629 131.8 629H134.8M126.8 590H128.6C130.4 590 129.9 636.5 131.8 636.5H134.8M126.8 598.5H128.6C130.4 598.5 129.9 644.4 131.8 644.4H134.8M126.8 586.5H128.6C130.4 586.5 129.9 651.8 131.8 651.8H134.8M126.8 682H128.6C130.4 682 129.9 668.2 131.8 668.2H134.8M126.8 682.5H128.6C130.4 682.5 129.9 675.2 131.8 675.2H134.8M126.8 683H128.6C130.4 683 129.9 682.8 131.8 682.8H134.8M126.8 693H128.6C130.4 693 129.9 690.6 131.8 690.6H134.8M126.8 693.5H128.6C130.4 693.5 129.9 698 131.8 698H134.8M126.8 704H128.6C130.4 704 129.9 705.5 131.8 705.5H134.8M126.8 704.5H128.6C130.4 704.5 129.9 713.1 131.8 713.1H134.8M126.8 716H128.6C130.4 716 129.9 720.5 131.8 720.5H134.8M126.8 716.5H128.6C130.4 716.5 129.9 728.1 131.8 728.1H134.8M126.8 744.3H128.6C130.4 744.3 129.9 744.3 131.8 744.3H134.8M126.8 753.4H128.6C130.4 753.4 129.9 753.4 131.8 753.4H134.8M126.8 774.9H128.6C130.4 774.9 129.9 772.5 131.8 772.5H134.8M126.8 786.2H128.6C130.4 786.2 129.9 780 131.8 780H134.8M126.8 791.9H128.6C130.4 791.9 129.9 787 131.8 787H134.8M126.8 798.2H128.6C130.4 798.2 129.9 794.8 131.8 794.8H134.8M126.8 803.2H128.6C130.4 803.2 129.9 802.7 131.8 802.7H134.8M126.8 813.8H128.6C130.4 813.8 129.9 809.7 131.8 809.7H134.8M126.8 814.3H128.6C130.4 814.3 129.9 817.2 131.8 817.2H134.8M126.8 816.7H128.6C130.4 816.7 129.9 824.6 131.8 824.6H134.8M126.8 827.3H128.6C130.4 827.3 129.9 832.1 131.8 832.1H134.8M126.8 833H128.6C130.4 833 129.9 839.6 131.8 839.6H134.8M126.8 833.5H128.6C130.4 833.5 129.9 847 131.8 847H134.8M126.8 837.2H128.6C130.4 837.2 129.9 854 131.8 854H134.8M126.8 866.8H128.6C130.4 866.8 129.9 866.8 131.8 866.8H134.8M126.8 874.6H128.6C130.4 874.6 129.9 874.6 131.8 874.6H134.8" stroke="#222" stroke-width="0.65" fill="none"/><text x="170.9" y="699.9" font-size="7" text-anchor="middle">Expr.</text><defs><linearGradient id="gG" x1="0" y1="0" x2="0" y2="1"><stop offset="0" stop-color="#ff0000"/><stop offset="0.12" stop-color="#ff6846"/><stop offset="0.25" stop-color="#ff9e81"/><stop offset="0.38" stop-color="#ffcfbf"/><stop offset="0.5" stop-color="#ffffff"/><stop offset="0.62" stop-color="#dcc4ff"/><stop offset="0.75" stop-color="#b38bff"/><stop offset="0.88" stop-color="#7e52ff"/><stop offset="1" stop-color="#0000ff"/></linearGradient></defs><rect x="166.1" y="703" width="8.2" height="39.7" fill="url(#gG)"/><text x="175.6" y="707.6" font-size="7.4">2</text><path d="M166.1 705H167.4M173 705H174.3" stroke="#fff" stroke-width="0.5"/><text x="175.6" y="716.6" font-size="7.4">1</text><path d="M166.1 714H167.4M173 714H174.3" stroke="#fff" stroke-width="0.5"/><text x="175.6" y="725.6" font-size="7.4">0</text><path d="M166.1 723H167.4M173 723H174.3" stroke="#fff" stroke-width="0.5"/><text x="175.6" y="735" font-size="7.4">−1</text><path d="M166.1 732.4H167.4M173 732.4H174.3" stroke="#fff" stroke-width="0.5"/><text x="175.6" y="743.8" font-size="7.4">−2</text><path d="M166.1 741.2H167.4M173 741.2H174.3" stroke="#fff" stroke-width="0.5"/>
<text x="192.3" y="527.4" font-size="14.5" font-weight="bold">h</text><text x="215.2" y="540.4" font-size="8.7">Enriched GO terms</text><text x="375.3" y="540.2" font-size="7.3"><tspan font-style="italic">P</tspan> value</text><text x="412.6" y="540.6" font-size="8.6">Enriched TFs</text><rect x="198" y="544.1" width="15.1" height="86.4" fill="#3fa2ec"/><text transform="translate(205.6 587.3) rotate(-90)" text-anchor="middle" y="3" font-size="8.4" font-weight="bold" fill="#fff">Sub-module 1</text><rect x="198" y="631.8" width="15.1" height="86" fill="#79c142"/><text transform="translate(205.6 674.8) rotate(-90)" text-anchor="middle" y="3" font-size="8.4" font-weight="bold" fill="#fff">Sub-module 2</text><rect x="198" y="719.4" width="15.1" height="85.9" fill="#f7941d"/><text transform="translate(205.6 762.35) rotate(-90)" text-anchor="middle" y="3" font-size="8.4" font-weight="bold" fill="#fff">Sub-module 3</text><rect x="198" y="807" width="15.1" height="87.8" fill="#ed1c24"/><text transform="translate(205.6 850.9) rotate(-90)" text-anchor="middle" y="3" font-size="8.4" font-weight="bold" fill="#fff">Sub-module 4</text><path d="M213.1 544.7H404.6M213.1 631.1H404.6M213.1 718.6H404.6M213.1 806.2H404.6M213.1 895.2H404.6" stroke="#555" stroke-width="0.9"/><text x="217.9" y="554.8" font-size="7.57">Positive regulation of defense response</text><text x="402" y="554.8" font-size="7.57" text-anchor="end">9.71E-12</text><text x="217.9" y="566.7" font-size="7.57">Blood coagulation</text><text x="402" y="566.7" font-size="7.57" text-anchor="end">1.57E-10</text><text x="217.9" y="578.8" font-size="7.57">Megakaryocyte development</text><text x="402" y="578.8" font-size="7.57" text-anchor="end">2.00E-10</text><text x="217.9" y="590.8" font-size="7.57">Cell chemotaxis</text><text x="402" y="590.8" font-size="7.57" text-anchor="end">2.71E-10</text><text x="217.9" y="602.9" font-size="7.57">Response to interferon beta</text><text x="402" y="602.9" font-size="7.57" text-anchor="end">6.87E-10</text><text x="217.9" y="614.9" font-size="7.57">Regulation of response to external stimulus</text><text x="402" y="614.9" font-size="7.57" text-anchor="end">7.58E-10</text><text x="217.9" y="627" font-size="7.57">Platelet activation</text><text x="402" y="627" font-size="7.57" text-anchor="end">8.05E-10</text><text x="217.9" y="641.6" font-size="7.57">Regulation of protein kinase B signaling</text><text x="402" y="641.6" font-size="7.57" text-anchor="end">4.49E-08</text><text x="217.9" y="653.4" font-size="7.57">Regulation of BMP signaling pathway</text><text x="402" y="653.4" font-size="7.57" text-anchor="end">8.42E-08</text><text x="217.9" y="665.1" font-size="7.57">Tissue migration</text><text x="402" y="665.1" font-size="7.57" text-anchor="end">6.11E-07</text><text x="217.9" y="676.9" font-size="7.57">Tissue remodeling</text><text x="402" y="676.9" font-size="7.57" text-anchor="end">8.56E-07</text><text x="217.9" y="689.1" font-size="7.57">Regulation of cellular response to growth</text><text x="217.9" y="701.4" font-size="7.57">factor stimulus</text><text x="402" y="695.3" font-size="7.57" text-anchor="end">1.13E-06</text><text x="217.9" y="713.1" font-size="7.57">Response to BMP</text><text x="402" y="713.1" font-size="7.57" text-anchor="end">8.05E-05</text><text x="217.9" y="735.3" font-size="7.57">Regulation of leukocyte differentiation</text><text x="402" y="735.3" font-size="7.57" text-anchor="end">8.71E-10</text><text x="217.9" y="747.1" font-size="7.57">Regulation of hematopoiesis</text><text x="402" y="747.1" font-size="7.57" text-anchor="end">2.10E-07</text><text x="217.9" y="759.2" font-size="7.57">Positive regulation of cell activation</text><text x="402" y="759.2" font-size="7.57" text-anchor="end">2.45E-07</text><text x="217.9" y="771.3" font-size="7.57">Positive regulation of hematopoiesis</text><text x="402" y="771.3" font-size="7.57" text-anchor="end">7.86E-07</text><text x="217.9" y="783" font-size="7.57">Embryonic hematopoiesis</text><text x="402" y="783" font-size="7.57" text-anchor="end">1.69E-06</text><text x="217.9" y="795" font-size="7.57">Regulation of cell growth</text><text x="402" y="795" font-size="7.57" text-anchor="end">2.89E-05</text><text x="217.9" y="817.3" font-size="7.57">CD4<tspan dy="-2.5" font-size="5">+</tspan><tspan dy="2.5"> α/β T cell activation</tspan></text><text x="402" y="817.3" font-size="7.57" text-anchor="end">1.12E-07</text><text x="217.9" y="829.4" font-size="7.57">CD4<tspan dy="-2.5" font-size="5">+</tspan><tspan dy="2.5"> α/β T cell differentiation</tspan></text><text x="402" y="829.4" font-size="7.57" text-anchor="end">2.14E-07</text><text x="217.9" y="841.5" font-size="7.57">T cell differentiation</text><text x="402" y="841.5" font-size="7.57" text-anchor="end">7.54E-07</text><text x="217.9" y="853.6" font-size="7.57">α/β T cell activation</text><text x="402" y="853.6" font-size="7.57" text-anchor="end">1.37E-06</text><text x="217.9" y="865.6" font-size="7.57">Lymphocyte differentiation</text><text x="402" y="865.6" font-size="7.57" text-anchor="end">2.22E-06</text><text x="217.9" y="877.7" font-size="7.57">Negative regulation of inflammatory</text><text x="217.9" y="890" font-size="7.57">response</text><text x="402" y="883.9" font-size="7.57" text-anchor="end">4.03E-06</text><rect x="412.1" y="544.7" width="89.8" height="13.7" fill="#fa6465"/><text x="413.8" y="554.3" font-size="7.3" font-weight="bold" fill="#fff">Fli1</text><rect x="412.1" y="562.05" width="64.7" height="13.7" fill="#cf5658"/><text x="413.8" y="571.65" font-size="7.3" font-weight="bold" fill="#fff">RUNX1</text><rect x="412.1" y="579.4" width="56.9" height="13.7" fill="#c65155"/><text x="413.8" y="589" font-size="7.3" font-weight="bold" fill="#fff">GATA1</text><rect x="412.1" y="596.75" width="46" height="13.7" fill="#b24a4d"/><text x="413.8" y="606.35" font-size="7.3" font-weight="bold" fill="#fff">GATA2</text><rect x="412.1" y="614.1" width="34.7" height="13.7" fill="#9c4448"/><text x="413.8" y="623.7" font-size="7.3" font-weight="bold" fill="#fff">TCF3</text><rect x="412.1" y="632.8" width="86.9" height="13.7" fill="#fa6364"/><text x="413.8" y="642.4" font-size="7.3" font-weight="bold" fill="#fff">GATA2</text><rect x="412.1" y="650.15" width="70.2" height="13.7" fill="#cd5457"/><text x="413.8" y="659.75" font-size="7.3" font-weight="bold" fill="#fff">NFE2L2</text><rect x="412.1" y="667.5" width="57.5" height="13.7" fill="#bb4d50"/><text x="413.8" y="677.1" font-size="7.3" font-weight="bold" fill="#fff">GATA1</text><rect x="412.1" y="684.85" width="46.4" height="13.7" fill="#a8474b"/><text x="413.8" y="694.45" font-size="7.3" font-weight="bold" fill="#fff">SMAD4</text><rect x="412.1" y="702.2" width="44.8" height="13.7" fill="#a4464a"/><text x="413.8" y="711.8" font-size="7.3" font-weight="bold" fill="#fff">TP53</text><rect x="412.1" y="721.5" width="63.9" height="13.7" fill="#f86465"/><text x="413.8" y="731.1" font-size="7.3" font-weight="bold" fill="#fff">KLF6</text><rect x="412.1" y="738.85" width="59.9" height="13.7" fill="#d95a5c"/><text x="413.8" y="748.45" font-size="7.3" font-weight="bold" fill="#fff">ELK3</text><rect x="412.1" y="756.2" width="54.9" height="13.7" fill="#cc5456"/><text x="413.8" y="765.8" font-size="7.3" font-weight="bold" fill="#fff">SOX17</text><rect x="412.1" y="773.55" width="30.3" height="13.7" fill="#9c4447"/><text x="413.8" y="783.15" font-size="7.3" font-weight="bold" fill="#fff">NANOG</text><rect x="412.1" y="790.9" width="25.8" height="13.7" fill="#973f44"/><text x="413.8" y="800.5" font-size="7.3" font-weight="bold" fill="#fff">POU5F1</text><rect x="412.1" y="808.8" width="92.2" height="13.7" fill="#f86465"/><text x="413.8" y="818.4" font-size="7.3" font-weight="bold" fill="#fff">NR4A2</text><rect x="412.1" y="826.15" width="33.7" height="13.7" fill="#964246"/><text x="413.8" y="835.75" font-size="7.3" font-weight="bold" fill="#fff">ATF3</text><rect x="412.1" y="843.5" width="29.7" height="13.7" fill="#934145"/><text x="413.8" y="853.1" font-size="7.3" font-weight="bold" fill="#fff">SUZ12</text><rect x="412.1" y="860.85" width="26.6" height="13.7" fill="#914044"/><text x="413.8" y="870.45" font-size="7.3" font-weight="bold" fill="#fff">SMAD4</text><rect x="412.1" y="878.2" width="23.8" height="13.7" fill="#8f3f43"/><text x="413.8" y="887.8" font-size="7.3" font-weight="bold" fill="#fff">SPI1</text><path d="M412.3 895.2H511M412.3 895.2V899M445.2 895.2V899M478.1 895.2V899M511 895.2V899" stroke="#333" stroke-width="0.7" fill="none"/><text x="412.3" y="905.9" font-size="7.3" text-anchor="middle">0</text><text x="445.2" y="905.9" font-size="7.3" text-anchor="middle">2</text><text x="478.1" y="905.9" font-size="7.3" text-anchor="middle">4</text><text x="511" y="905.9" font-size="7.3" text-anchor="middle">6</text><text x="461.8" y="915.3" font-size="7.3" text-anchor="middle">−log10(<tspan font-style="italic">P</tspan> value)</text>
<text x="522.6" y="526.6" font-size="14.5" font-weight="bold">i</text><text x="610" y="549.2" font-size="7.48" text-anchor="middle">MK_biased_HSC signature (D1 vs D0)</text><rect x="536.8" y="555.4" width="146.7" height="137.8" fill="#fff" stroke="#999" stroke-width="0.5"/><path d="M550.96 555.4V621.2M550.96 648.9V693.2M565.12 555.4V621.2M565.12 648.9V693.2M579.28 555.4V621.2M579.28 648.9V693.2M593.44 555.4V621.2M593.44 648.9V693.2M607.6 555.4V621.2M607.6 648.9V693.2M621.76 555.4V621.2M621.76 648.9V693.2M635.92 555.4V621.2M635.92 648.9V693.2M650.08 555.4V621.2M650.08 648.9V693.2M664.24 555.4V621.2M664.24 648.9V693.2M678.4 555.4V621.2M678.4 648.9V693.2M536.8 563.5H683.5M536.8 572.5H683.5M536.8 581.5H683.5M536.8 590.9H683.5M536.8 600.2H683.5M536.8 609.2H683.5M536.8 653H683.5M536.8 661.3H683.5M536.8 669.6H683.5M536.8 677.7H683.5M536.8 686.4H683.5" stroke="#d8d8d8" stroke-width="0.4" stroke-dasharray="1 1" fill="none"/><path d="M536.8 609.3H683.5" stroke="#888" stroke-width="0.6"/><path d="M536.8 621.2H683.5" stroke="#555" stroke-width="0.7"/><text x="535.4" y="565.1" font-size="4.6" text-anchor="end" fill="#333">0.5</text><text x="535.4" y="574.1" font-size="4.6" text-anchor="end" fill="#333">0.4</text><text x="535.4" y="583.1" font-size="4.6" text-anchor="end" fill="#333">0.3</text><text x="535.4" y="592.5" font-size="4.6" text-anchor="end" fill="#333">0.2</text><text x="535.4" y="601.8" font-size="4.6" text-anchor="end" fill="#333">0.1</text><text x="535.4" y="610.8" font-size="4.6" text-anchor="end" fill="#333">0.0</text><path d="M536.5 609.06L537.1 597.63L537.9 590.21L539.1 583.5L540.8 577.29L542 574.47L543.2 571.95L545.5 569.05L547.8 564.97L549 563.43L550.2 561.98L551.65 561.2L553.1 560.25L554.47 560.07L555.83 559.19L557.2 558.77L558.77 558.46L560.33 558.38L561.9 558.25L563.43 558.67L564.97 558.57L566.5 558.61L567.98 559.13L569.45 559.95L570.92 559.93L572.4 560.66L573.8 561.02L575.2 561.64L576.6 561.96L578 562.62L579.4 563L580.8 563.75L582.2 564.56L583.6 565.08L585 565.54L586.4 566.18L587.8 567.34L589.2 567.83L590.6 568.41L592 569.5L593.4 570.04L594.8 571.15L596.2 572.27L597.6 573.01L599 574.09L600.4 575.31L601.8 576.03L603.2 577.16L604.6 577.9L606 579.02L607.4 579.96L608.67 580.8L609.93 581.54L611.2 582.2L612.47 582.88L613.73 583.63L615 584.51L616.26 585.38L617.53 586.12L618.79 587.24L620.06 588L621.32 588.93L622.58 589.66L623.86 590.74L625.14 591.75L626.42 592.92L627.69 593.98L628.97 595.1L630.25 596.16L631.53 597.25L632.8 598.22L634.08 598.95L635.36 599.97L636.63 600.85L637.91 601.94L639.23 602.91L640.54 603.56L641.85 604.6L643.17 605.34L644.48 606.13L645.79 607.14L647.11 607.8L648.42 608.54L649.74 609.41L651.05 610.13L652.42 610.9L653.79 611.62L655.16 612.32L656.52 613.09L657.89 613.55L659.26 614.03L660.63 614.58L662 615.13L663.46 615.77L664.92 616.23L666.38 616.88L667.84 617.08L669.3 617.43L670.76 617.8L672.95 617.97L674.26 618.17L675.14 616.68L676.01 613.46L676.89 609.12" stroke="#1ee81e" stroke-width="1.25" fill="none" stroke-linejoin="round"/><path d="M537.25 622.2V643.3M549.25 622.2V643.3M584.75 622.2V643.3" stroke="#212121" stroke-width="0.55" fill="none"/><path d="M537.75 622.2V643.3" stroke="#0a0a0a" stroke-width="0.55" fill="none"/><path d="M538.25 622.2V643.3M539.75 622.2V643.3" stroke="#111111" stroke-width="0.55" fill="none"/><path d="M538.75 622.2V643.3M551.75 622.2V643.3M564.25 622.2V643.3M575.75 622.2V643.3" stroke="#1f1f1f" stroke-width="0.55" fill="none"/><path d="M539.25 622.2V643.3M541.75 622.2V643.3M551.25 622.2V643.3M555.25 622.2V643.3" stroke="#010101" stroke-width="0.55" fill="none"/><path d="M540.25 622.2V643.3M545.75 622.2V643.3" stroke="#000000" stroke-width="0.55" fill="none"/><path d="M540.75 622.2V643.3M548.25 622.2V643.3M552.75 622.2V643.3" stroke="#1c1c1c" stroke-width="0.55" fill="none"/><path d="M541.25 622.2V643.3M548.75 622.2V643.3M577.25 622.2V643.3M667.25 622.2V643.3M669.25 622.2V643.3" stroke="#252525" stroke-width="0.55" fill="none"/><path d="M542.25 622.2V643.3M557.75 622.2V643.3M559.75 622.2V643.3M575.25 622.2V643.3" stroke="#151515" stroke-width="0.55" fill="none"/><path d="M542.75 622.2V643.3M556.25 622.2V643.3" stroke="#0f0f0f" stroke-width="0.55" fill="none"/><path d="M543.25 622.2V643.3M569.75 622.2V643.3M573.75 622.2V643.3" stroke="#101010" stroke-width="0.55" fill="none"/><path d="M543.75 622.2V643.3" stroke="#080808" stroke-width="0.55" fill="none"/><path d="M544.25 622.2V643.3M554.75 622.2V643.3M570.75 622.2V643.3" stroke="#131313" stroke-width="0.55" fill="none"/><path d="M544.75 622.2V643.3M558.25 622.2V643.3" stroke="#090909" stroke-width="0.55" fill="none"/><path d="M545.25 622.2V643.3M559.25 622.2V643.3" stroke="#121212" stroke-width="0.55" fill="none"/><path d="M546.25 622.2V643.3" stroke="#161616" stroke-width="0.55" fill="none"/><path d="M546.75 622.2V643.3" stroke="#070707" stroke-width="0.55" fill="none"/><path d="M547.75 622.2V643.3" stroke="#040404" stroke-width="0.55" fill="none"/><path d="M549.75 622.2V643.3" stroke="#0c0c0c" stroke-width="0.55" fill="none"/><path d="M550.25 622.2V643.3M573.25 622.2V643.3M587.25 622.2V643.3M653.25 622.2V643.3" stroke="#232323" stroke-width="0.55" fill="none"/><path d="M550.75 622.2V643.3M553.75 622.2V643.3M554.25 622.2V643.3M556.75 622.2V643.3M566.25 622.2V643.3M571.25 622.2V643.3M583.25 622.2V643.3" stroke="#141414" stroke-width="0.55" fill="none"/><path d="M552.25 622.2V643.3" stroke="#060606" stroke-width="0.55" fill="none"/><path d="M553.25 622.2V643.3" stroke="#0e0e0e" stroke-width="0.55" fill="none"/><path d="M555.75 622.2V643.3M660.75 622.2V643.3M666.75 622.2V643.3" stroke="#272727" stroke-width="0.55" fill="none"/><path d="M558.75 622.2V643.3" stroke="#262626" stroke-width="0.55" fill="none"/><path d="M560.75 622.2V643.3M567.25 622.2V643.3" stroke="#393939" stroke-width="0.55" fill="none"/><path d="M561.25 622.2V643.3" stroke="#3f3f3f" stroke-width="0.55" fill="none"/><path d="M561.75 622.2V643.3M646.25 622.2V643.3" stroke="#3a3a3a" stroke-width="0.55" fill="none"/><path d="M562.25 622.2V643.3M580.25 622.2V643.3" stroke="#2b2b2b" stroke-width="0.55" fill="none"/><path d="M562.75 622.2V643.3" stroke="#0d0d0d" stroke-width="0.55" fill="none"/><path d="M563.25 622.2V643.3M581.25 622.2V643.3M581.75 622.2V643.3M658.25 622.2V643.3M669.75 622.2V643.3" stroke="#2c2c2c" stroke-width="0.55" fill="none"/><path d="M563.75 622.2V643.3M574.25 622.2V643.3M646.75 622.2V643.3" stroke="#282828" stroke-width="0.55" fill="none"/><path d="M564.75 622.2V643.3" stroke="#2a2a2a" stroke-width="0.55" fill="none"/><path d="M565.25 622.2V643.3M574.75 622.2V643.3M672.75 622.2V643.3" stroke="#2e2e2e" stroke-width="0.55" fill="none"/><path d="M565.75 622.2V643.3M568.75 622.2V643.3M572.75 622.2V643.3" stroke="#0b0b0b" stroke-width="0.55" fill="none"/><path d="M566.75 622.2V643.3M578.25 622.2V643.3M644.25 622.2V643.3" stroke="#3d3d3d" stroke-width="0.55" fill="none"/><path d="M567.75 622.2V643.3" stroke="#191919" stroke-width="0.55" fill="none"/><path d="M568.25 622.2V643.3M642.25 622.2V643.3M644.75 622.2V643.3M660.25 622.2V643.3" stroke="#323232" stroke-width="0.55" fill="none"/><path d="M569.25 622.2V643.3" stroke="#373737" stroke-width="0.55" fill="none"/><path d="M570.25 622.2V643.3M670.25 622.2V643.3" stroke="#1e1e1e" stroke-width="0.55" fill="none"/><path d="M571.75 622.2V643.3M675.75 622.2V643.3" stroke="#343434" stroke-width="0.55" fill="none"/><path d="M572.25 622.2V643.3" stroke="#1d1d1d" stroke-width="0.55" fill="none"/><path d="M576.25 622.2V643.3M661.25 622.2V643.3" stroke="#202020" stroke-width="0.55" fill="none"/><path d="M576.75 622.2V643.3" stroke="#4a4a4a" stroke-width="0.55" fill="none"/><path d="M578.75 622.2V643.3" stroke="#474747" stroke-width="0.55" fill="none"/><path d="M579.25 622.2V643.3M668.75 622.2V643.3" stroke="#424242" stroke-width="0.55" fill="none"/><path d="M579.75 622.2V643.3" stroke="#464646" stroke-width="0.55" fill="none"/><path d="M582.75 622.2V643.3" stroke="#353535" stroke-width="0.55" fill="none"/><path d="M583.75 622.2V643.3" stroke="#171717" stroke-width="0.55" fill="none"/><path d="M584.25 622.2V643.3M647.25 622.2V643.3" stroke="#606060" stroke-width="0.55" fill="none"/><path d="M585.25 622.2V643.3" stroke="#616161" stroke-width="0.55" fill="none"/><path d="M585.75 622.2V643.3" stroke="#3c3c3c" stroke-width="0.55" fill="none"/><path d="M586.25 622.2V643.3M590.75 622.2V643.3M658.75 622.2V643.3M672.25 622.2V643.3" stroke="#2f2f2f" stroke-width="0.55" fill="none"/><path d="M586.75 622.2V643.3M587.75 622.2V643.3M643.25 622.2V643.3" stroke="#494949" stroke-width="0.55" fill="none"/><path d="M588.25 622.2V643.3M655.75 622.2V643.3M674.75 622.2V643.3" stroke="#3b3b3b" stroke-width="0.55" fill="none"/><path d="M588.75 622.2V643.3" stroke="#595959" stroke-width="0.55" fill="none"/><path d="M589.75 622.2V643.3M676.25 622.2V643.3" stroke="#242424" stroke-width="0.55" fill="none"/><path d="M590.25 622.2V643.3M643.75 622.2V643.3M656.75 622.2V643.3" stroke="#626262" stroke-width="0.55" fill="none"/><path d="M591.25 622.2V643.3M607.25 622.2V643.3" stroke="#b1b1b1" stroke-width="0.55" fill="none"/><path d="M592.75 622.2V643.3" stroke="#c6c6c6" stroke-width="0.55" fill="none"/><path d="M593.75 622.2V643.3" stroke="#d0d0d0" stroke-width="0.55" fill="none"/><path d="M594.25 622.2V643.3" stroke="#b6b6b6" stroke-width="0.55" fill="none"/><path d="M594.75 622.2V643.3" stroke="#7e7e7e" stroke-width="0.55" fill="none"/><path d="M595.75 622.2V643.3M613.75 622.2V643.3M622.75 622.2V643.3" stroke="#b9b9b9" stroke-width="0.55" fill="none"/><path d="M597.25 622.2V643.3M621.25 622.2V643.3" stroke="#909090" stroke-width="0.55" fill="none"/><path d="M597.75 622.2V643.3M600.75 622.2V643.3" stroke="#c4c4c4" stroke-width="0.55" fill="none"/><path d="M599.75 622.2V643.3" stroke="#a5a5a5" stroke-width="0.55" fill="none"/><path d="M600.25 622.2V643.3" stroke="#717171" stroke-width="0.55" fill="none"/><path d="M602.25 622.2V643.3" stroke="#ababab" stroke-width="0.55" fill="none"/><path d="M603.25 622.2V643.3" stroke="#a7a7a7" stroke-width="0.55" fill="none"/><path d="M603.75 622.2V643.3" stroke="#767676" stroke-width="0.55" fill="none"/><path d="M604.25 622.2V643.3M630.75 622.2V643.3" stroke="#c7c7c7" stroke-width="0.55" fill="none"/><path d="M605.75 622.2V643.3" stroke="#898989" stroke-width="0.55" fill="none"/><path d="M607.75 622.2V643.3M609.75 622.2V643.3M614.25 622.2V643.3" stroke="#797979" stroke-width="0.55" fill="none"/><path d="M608.75 622.2V643.3" stroke="#858585" stroke-width="0.55" fill="none"/><path d="M610.25 622.2V643.3" stroke="#868686" stroke-width="0.55" fill="none"/><path d="M611.25 622.2V643.3" stroke="#c9c9c9" stroke-width="0.55" fill="none"/><path d="M611.75 622.2V643.3" stroke="#cfcfcf" stroke-width="0.55" fill="none"/><path d="M612.75 622.2V643.3" stroke="#919191" stroke-width="0.55" fill="none"/><path d="M615.25 622.2V643.3" stroke="#b3b3b3" stroke-width="0.55" fill="none"/><path d="M615.75 622.2V643.3M624.75 622.2V643.3M637.75 622.2V643.3" stroke="#979797" stroke-width="0.55" fill="none"/><path d="M616.25 622.2V643.3M637.25 622.2V643.3" stroke="#d3d3d3" stroke-width="0.55" fill="none"/><path d="M617.75 622.2V643.3" stroke="#8d8d8d" stroke-width="0.55" fill="none"/><path d="M620.75 622.2V643.3" stroke="#aeaeae" stroke-width="0.55" fill="none"/><path d="M621.75 622.2V643.3" stroke="#949494" stroke-width="0.55" fill="none"/><path d="M624.25 622.2V643.3" stroke="#969696" stroke-width="0.55" fill="none"/><path d="M626.25 622.2V643.3" stroke="#999999" stroke-width="0.55" fill="none"/><path d="M628.25 622.2V643.3" stroke="#7a7a7a" stroke-width="0.55" fill="none"/><path d="M628.75 622.2V643.3M629.75 622.2V643.3" stroke="#7f7f7f" stroke-width="0.55" fill="none"/><path d="M632.25 622.2V643.3" stroke="#aaaaaa" stroke-width="0.55" fill="none"/><path d="M633.25 622.2V643.3" stroke="#d6d6d6" stroke-width="0.55" fill="none"/><path d="M633.75 622.2V643.3" stroke="#c5c5c5" stroke-width="0.55" fill="none"/><path d="M635.25 622.2V643.3" stroke="#828282" stroke-width="0.55" fill="none"/><path d="M636.75 622.2V643.3" stroke="#d1d1d1" stroke-width="0.55" fill="none"/><path d="M641.25 622.2V643.3" stroke="#a3a3a3" stroke-width="0.55" fill="none"/><path d="M641.75 622.2V643.3" stroke="#bfbfbf" stroke-width="0.55" fill="none"/><path d="M642.75 622.2V643.3" stroke="#6b6b6b" stroke-width="0.55" fill="none"/><path d="M645.25 622.2V643.3M649.25 622.2V643.3M652.75 622.2V643.3" stroke="#515151" stroke-width="0.55" fill="none"/><path d="M645.75 622.2V643.3" stroke="#4b4b4b" stroke-width="0.55" fill="none"/><path d="M647.75 622.2V643.3M651.25 622.2V643.3" stroke="#3e3e3e" stroke-width="0.55" fill="none"/><path d="M648.25 622.2V643.3" stroke="#303030" stroke-width="0.55" fill="none"/><path d="M648.75 622.2V643.3" stroke="#484848" stroke-width="0.55" fill="none"/><path d="M649.75 622.2V643.3M659.75 622.2V643.3M662.75 622.2V643.3" stroke="#545454" stroke-width="0.55" fill="none"/><path d="M650.25 622.2V643.3" stroke="#313131" stroke-width="0.55" fill="none"/><path d="M650.75 622.2V643.3" stroke="#444444" stroke-width="0.55" fill="none"/><path d="M651.75 622.2V643.3" stroke="#666666" stroke-width="0.55" fill="none"/><path d="M653.75 622.2V643.3" stroke="#646464" stroke-width="0.55" fill="none"/><path d="M654.25 622.2V643.3" stroke="#5b5b5b" stroke-width="0.55" fill="none"/><path d="M655.25 622.2V643.3" stroke="#555555" stroke-width="0.55" fill="none"/><path d="M656.25 622.2V643.3M674.25 622.2V643.3" stroke="#585858" stroke-width="0.55" fill="none"/><path d="M659.25 622.2V643.3" stroke="#5a5a5a" stroke-width="0.55" fill="none"/><path d="M662.25 622.2V643.3M671.25 622.2V643.3" stroke="#434343" stroke-width="0.55" fill="none"/><path d="M663.75 622.2V643.3M675.25 622.2V643.3" stroke="#4c4c4c" stroke-width="0.55" fill="none"/><path d="M664.25 622.2V643.3" stroke="#454545" stroke-width="0.55" fill="none"/><path d="M664.75 622.2V643.3M670.75 622.2V643.3" stroke="#383838" stroke-width="0.55" fill="none"/><path d="M666.25 622.2V643.3" stroke="#4e4e4e" stroke-width="0.55" fill="none"/><path d="M671.75 622.2V643.3" stroke="#505050" stroke-width="0.55" fill="none"/><path d="M673.25 622.2V643.3" stroke="#2d2d2d" stroke-width="0.55" fill="none"/><path d="M673.75 622.2V643.3" stroke="#4d4d4d" stroke-width="0.55" fill="none"/><rect x="536.8" y="643.3" width="7" height="5.8" fill="#e83c3c"/><rect x="543.8" y="643.3" width="30.2" height="5.8" fill="#f75252"/><rect x="574" y="643.3" width="8.1" height="5.8" fill="#f7707e"/><rect x="582.1" y="643.3" width="8.7" height="5.8" fill="#f88a8a"/><rect x="590.8" y="643.3" width="51.9" height="5.8" fill="#fbbde0"/><rect x="642.7" y="643.3" width="21" height="5.8" fill="#d2d2fa"/><rect x="663.7" y="643.3" width="9.7" height="5.8" fill="#7373f2"/><rect x="673.4" y="643.3" width="3.5" height="5.8" fill="#2222dd"/><path d="M536.8 677.6V668C537.4 670 538.3 671 539.3 671.2C545 672.6 550 673.6 553.4 673.9C565 675 570 675.6 576.7 676C585 676.8 592 677.3 597.6 677.6ZM643 677.6C655 678.2 665 679.2 670.4 679.9C674 681 675.8 685 676.2 691.4V677.6Z" fill="#bdbdbd"/><path d="M597.8 649.1V693.2" stroke="#666" stroke-width="0.4" stroke-dasharray="0.8 0.8"/><text x="535.4" y="654.6" font-size="4.6" text-anchor="end" fill="#333">1.5</text><text x="535.4" y="662.9" font-size="4.6" text-anchor="end" fill="#333">1.0</text><text x="535.4" y="671.2" font-size="4.6" text-anchor="end" fill="#333">0.5</text><text x="535.4" y="679.3" font-size="4.6" text-anchor="end" fill="#333">0.0</text><text x="535.4" y="688" font-size="4.6" text-anchor="end" fill="#333">−0.5</text><text x="583.1" y="672.6" font-size="3" fill="#444">Zero cross at 8636</text><text x="538" y="652.7" font-size="3.3" fill="#ff4545">D1 (positively correlated)</text><text x="610.3" y="691.9" font-size="3.3" fill="#5050ff">D0 (negatively correlated)</text><text x="536.8" y="699.2" font-size="3.5" text-anchor="middle" fill="#333">0</text><text x="550.96" y="699.2" font-size="3.5" text-anchor="middle" fill="#333">2,000</text><text x="565.12" y="699.2" font-size="3.5" text-anchor="middle" fill="#333">4,000</text><text x="579.28" y="699.2" font-size="3.5" text-anchor="middle" fill="#333">6,000</text><text x="593.44" y="699.2" font-size="3.5" text-anchor="middle" fill="#333">8,000</text><text x="607.6" y="699.2" font-size="3.5" text-anchor="middle" fill="#333">10,000</text><text x="621.76" y="699.2" font-size="3.5" text-anchor="middle" fill="#333">12,000</text><text x="635.92" y="699.2" font-size="3.5" text-anchor="middle" fill="#333">14,000</text><text x="650.08" y="699.2" font-size="3.5" text-anchor="middle" fill="#333">16,000</text><text x="664.24" y="699.2" font-size="3.5" text-anchor="middle" fill="#333">18,000</text><text x="678.4" y="699.2" font-size="3.5" text-anchor="middle" fill="#333">20,000</text><text x="608.65" y="705.3" font-size="4.1" text-anchor="middle" fill="#222">Rank in Ordered Dataset</text><text transform="translate(522 586.5) rotate(-90)" text-anchor="middle" y="2.1" font-size="6" fill="#222">Enrichment score (ES)</text><text transform="translate(522 672.2) rotate(-90)" text-anchor="middle" y="2.1" font-size="6" fill="#222">Ranked list metric</text><text x="607.1" y="730.1" font-size="7.48" text-anchor="middle">Lymphocyte signature (D3 vs D0)</text><rect x="539.1" y="733.2" width="141.7" height="137.8" fill="#fff" stroke="#999" stroke-width="0.5"/><path d="M554.62 733.2V799.3M554.62 826.9V871M570.14 733.2V799.3M570.14 826.9V871M585.66 733.2V799.3M585.66 826.9V871M601.18 733.2V799.3M601.18 826.9V871M616.7 733.2V799.3M616.7 826.9V871M632.22 733.2V799.3M632.22 826.9V871M647.74 733.2V799.3M647.74 826.9V871M663.26 733.2V799.3M663.26 826.9V871M678.78 733.2V799.3M678.78 826.9V871M539.1 736.7H680.8M539.1 743.1H680.8M539.1 749.3H680.8M539.1 756H680.8M539.1 762.5H680.8M539.1 769.2H680.8M539.1 775.7H680.8M539.1 782.1H680.8M539.1 788.5H680.8M539.1 795H680.8M539.1 829.4H680.8M539.1 835.4H680.8M539.1 841.1H680.8M539.1 847.3H680.8M539.1 853.5H680.8M539.1 859.2H680.8M539.1 865.1H680.8" stroke="#d8d8d8" stroke-width="0.4" stroke-dasharray="1 1" fill="none"/><path d="M539.1 749.3H680.8" stroke="#888" stroke-width="0.6"/><path d="M539.1 799.3H680.8" stroke="#555" stroke-width="0.7"/><text x="537.7" y="738.3" font-size="4.6" text-anchor="end" fill="#333">0.10</text><text x="537.7" y="744.7" font-size="4.6" text-anchor="end" fill="#333">0.05</text><text x="537.7" y="750.9" font-size="4.6" text-anchor="end" fill="#333">0.00</text><text x="537.7" y="757.6" font-size="4.6" text-anchor="end" fill="#333">−0.05</text><text x="537.7" y="764.1" font-size="4.6" text-anchor="end" fill="#333">−0.10</text><text x="537.7" y="770.8" font-size="4.6" text-anchor="end" fill="#333">−0.15</text><text x="537.7" y="777.3" font-size="4.6" text-anchor="end" fill="#333">−0.20</text><text x="537.7" y="783.7" font-size="4.6" text-anchor="end" fill="#333">−0.25</text><text x="537.7" y="790.1" font-size="4.6" text-anchor="end" fill="#333">−0.30</text><text x="537.7" y="796.6" font-size="4.6" text-anchor="end" fill="#333">−0.35</text><path d="M539.08 749.45L539.45 747.33L539.82 745.15L540.44 744.31L541.06 743.11L542.3 743.04L543.54 741.9L544.78 741.35L546.03 740.83L547.27 740.04L548.51 739.8L549.75 738.64L550.99 738.62L552.23 737.57L553.47 737.04L554.71 736.24L555.95 735.93L557.19 736.38L558.26 737.33L559.32 738.85L560.39 739.59L561.45 739.87L562.51 741.39L563.58 741.62L564.64 742.99L565.67 743.39L566.71 744.15L567.74 745.91L568.78 746.14L569.81 747.03L570.85 748.69L571.88 749.47L572.91 749.77L573.95 751.34L574.98 751.8L576.02 752.83L577.05 753.25L578.08 754.91L579.12 755.6L580.15 756.8L581.19 757.66L582.22 758L583.26 758.99L584.29 759.72L585.32 760.63L586.36 761.48L587.39 762.65L588.43 763.88L589.46 764.22L590.49 765.82L591.53 766.41L592.56 767.31L593.6 768.75L594.63 769.35L595.67 770.11L596.7 771.21L597.73 772.36L598.77 772.65L599.8 774.49L600.84 774.47L601.87 776.13L602.9 777.12L603.94 777.18L604.97 778.84L606.01 779.3L607.04 780.41L608.08 780.73L609.11 781.65L610.14 782.68L611.18 784.34L612.21 784.47L613.25 785.92L614.28 786.98L615.34 787.6L616.41 787.6L617.47 788.22L618.54 788.99L619.6 789.84L620.66 789.78L621.73 791.02L622.76 791.81L623.79 792.62L624.83 792.54L625.86 794.2L626.9 794.09L627.93 795.08L629.17 794.94L630.41 794.83L631.65 793.84L632.9 793.68L634.14 792.56L635.13 792.47L636.12 792.63L637.11 792.63L638.11 792.68L639.1 792.9L640.34 793.2L641.58 793.26L642.82 792.17L644.06 792.89L645.31 794.65L646.55 795.03L647.17 795.27L647.79 795.47L649.03 793.35L650.27 791.1L651.51 790.48L652.75 790.2L653.99 789.58L655.23 789.04L656.47 786.75L657.72 785.8L658.96 785.32L660.2 783.79L661.44 783.56L662.68 781.29L663.92 778.49L665.16 776.17L666.4 773.01L667.64 770.85L668.88 767.46L670.13 765.06L670.75 760.78L671.37 757.22L671.99 755.53L672.61 753.15L673.85 752.41L675.09 751.01L675.46 752.66L675.83 754.52L676.33 751.78L676.83 749.32" stroke="#1ee81e" stroke-width="1.25" fill="none" stroke-linejoin="round"/><path d="M540.65 799.8V821.3" stroke="#030303" stroke-width="0.55" fill="none"/><path d="M542.65 799.8V821.3M592.75 799.8V821.3" stroke="#181818" stroke-width="0.55" fill="none"/><path d="M543.65 799.8V821.3M594.75 799.8V821.3M664.75 799.8V821.3" stroke="#060606" stroke-width="0.55" fill="none"/><path d="M544.15 799.8V821.3M547.65 799.8V821.3M628.25 799.8V821.3" stroke="#0f0f0f" stroke-width="0.55" fill="none"/><path d="M546.15 799.8V821.3M585.75 799.8V821.3M597.75 799.8V821.3M634.25 799.8V821.3" stroke="#111111" stroke-width="0.55" fill="none"/><path d="M546.65 799.8V821.3" stroke="#010101" stroke-width="0.55" fill="none"/><path d="M547.15 799.8V821.3" stroke="#121212" stroke-width="0.55" fill="none"/><path d="M548.65 799.8V821.3" stroke="#161616" stroke-width="0.55" fill="none"/><path d="M549.15 799.8V821.3M593.25 799.8V821.3M661.25 799.8V821.3M669.25 799.8V821.3" stroke="#000000" stroke-width="0.55" fill="none"/><path d="M549.65 799.8V821.3M632.25 799.8V821.3" stroke="#050505" stroke-width="0.55" fill="none"/><path d="M550.15 799.8V821.3M554.15 799.8V821.3M622.75 799.8V821.3" stroke="#272727" stroke-width="0.55" fill="none"/><path d="M551.15 799.8V821.3M671.25 799.8V821.3" stroke="#232323" stroke-width="0.55" fill="none"/><path d="M555.15 799.8V821.3M637.75 799.8V821.3" stroke="#1e1e1e" stroke-width="0.55" fill="none"/><path d="M556.15 799.8V821.3M624.25 799.8V821.3M630.75 799.8V821.3M663.75 799.8V821.3" stroke="#151515" stroke-width="0.55" fill="none"/><path d="M558.25 799.8V821.3" stroke="#808080" stroke-width="0.55" fill="none"/><path d="M561.75 799.8V821.3" stroke="#484848" stroke-width="0.55" fill="none"/><path d="M562.75 799.8V821.3" stroke="#828282" stroke-width="0.55" fill="none"/><path d="M563.25 799.8V821.3" stroke="#838383" stroke-width="0.55" fill="none"/><path d="M563.75 799.8V821.3" stroke="#878787" stroke-width="0.55" fill="none"/><path d="M566.75 799.8V821.3M665.75 799.8V821.3" stroke="#3c3c3c" stroke-width="0.55" fill="none"/><path d="M568.75 799.8V821.3" stroke="#7a7a7a" stroke-width="0.55" fill="none"/><path d="M570.25 799.8V821.3" stroke="#727272" stroke-width="0.55" fill="none"/><path d="M570.75 799.8V821.3M642.75 799.8V821.3" stroke="#696969" stroke-width="0.55" fill="none"/><path d="M571.25 799.8V821.3M603.75 799.8V821.3M610.25 799.8V821.3" stroke="#3e3e3e" stroke-width="0.55" fill="none"/><path d="M572.25 799.8V821.3" stroke="#5c5c5c" stroke-width="0.55" fill="none"/><path d="M573.25 799.8V821.3" stroke="#3d3d3d" stroke-width="0.55" fill="none"/><path d="M574.25 799.8V821.3" stroke="#6f6f6f" stroke-width="0.55" fill="none"/><path d="M574.75 799.8V821.3" stroke="#4c4c4c" stroke-width="0.55" fill="none"/><path d="M585.25 799.8V821.3M627.75 799.8V821.3M668.25 799.8V821.3" stroke="#0d0d0d" stroke-width="0.55" fill="none"/><path d="M589.25 799.8V821.3" stroke="#090909" stroke-width="0.55" fill="none"/><path d="M590.25 799.8V821.3M601.25 799.8V821.3M620.25 799.8V821.3" stroke="#040404" stroke-width="0.55" fill="none"/><path d="M590.75 799.8V821.3M616.75 799.8V821.3" stroke="#222222" stroke-width="0.55" fill="none"/><path d="M591.25 799.8V821.3M598.25 799.8V821.3" stroke="#171717" stroke-width="0.55" fill="none"/><path d="M591.75 799.8V821.3M659.25 799.8V821.3" stroke="#141414" stroke-width="0.55" fill="none"/><path d="M592.25 799.8V821.3" stroke="#262626" stroke-width="0.55" fill="none"/><path d="M594.25 799.8V821.3M612.25 799.8V821.3" stroke="#020202" stroke-width="0.55" fill="none"/><path d="M595.25 799.8V821.3M631.75 799.8V821.3" stroke="#191919" stroke-width="0.55" fill="none"/><path d="M600.25 799.8V821.3M608.25 799.8V821.3M676.25 799.8V821.3" stroke="#323232" stroke-width="0.55" fill="none"/><path d="M602.25 799.8V821.3" stroke="#565656" stroke-width="0.55" fill="none"/><path d="M602.75 799.8V821.3M609.25 799.8V821.3" stroke="#0b0b0b" stroke-width="0.55" fill="none"/><path d="M603.25 799.8V821.3" stroke="#1b1b1b" stroke-width="0.55" fill="none"/><path d="M604.75 799.8V821.3" stroke="#4d4d4d" stroke-width="0.55" fill="none"/><path d="M605.25 799.8V821.3" stroke="#6c6c6c" stroke-width="0.55" fill="none"/><path d="M611.75 799.8V821.3" stroke="#767676" stroke-width="0.55" fill="none"/><path d="M613.25 799.8V821.3" stroke="#242424" stroke-width="0.55" fill="none"/><path d="M614.75 799.8V821.3" stroke="#363636" stroke-width="0.55" fill="none"/><path d="M616.25 799.8V821.3" stroke="#464646" stroke-width="0.55" fill="none"/><path d="M617.25 799.8V821.3" stroke="#707070" stroke-width="0.55" fill="none"/><path d="M617.75 799.8V821.3" stroke="#5a5a5a" stroke-width="0.55" fill="none"/><path d="M618.25 799.8V821.3" stroke="#444444" stroke-width="0.55" fill="none"/><path d="M618.75 799.8V821.3" stroke="#373737" stroke-width="0.55" fill="none"/><path d="M619.75 799.8V821.3" stroke="#0e0e0e" stroke-width="0.55" fill="none"/><path d="M624.75 799.8V821.3" stroke="#2f2f2f" stroke-width="0.55" fill="none"/><path d="M625.25 799.8V821.3M635.75 799.8V821.3" stroke="#1f1f1f" stroke-width="0.55" fill="none"/><path d="M625.75 799.8V821.3" stroke="#393939" stroke-width="0.55" fill="none"/><path d="M628.75 799.8V821.3M634.75 799.8V821.3" stroke="#282828" stroke-width="0.55" fill="none"/><path d="M636.25 799.8V821.3" stroke="#202020" stroke-width="0.55" fill="none"/><path d="M638.75 799.8V821.3M663.25 799.8V821.3M666.75 799.8V821.3" stroke="#353535" stroke-width="0.55" fill="none"/><path d="M639.25 799.8V821.3M676.75 799.8V821.3" stroke="#2a2a2a" stroke-width="0.55" fill="none"/><path d="M639.75 799.8V821.3M657.25 799.8V821.3" stroke="#3b3b3b" stroke-width="0.55" fill="none"/><path d="M641.25 799.8V821.3" stroke="#636363" stroke-width="0.55" fill="none"/><path d="M641.75 799.8V821.3" stroke="#717171" stroke-width="0.55" fill="none"/><path d="M646.75 799.8V821.3" stroke="#7f7f7f" stroke-width="0.55" fill="none"/><path d="M648.75 799.8V821.3" stroke="#737373" stroke-width="0.55" fill="none"/><path d="M651.25 799.8V821.3M668.75 799.8V821.3" stroke="#252525" stroke-width="0.55" fill="none"/><path d="M653.75 799.8V821.3" stroke="#4b4b4b" stroke-width="0.55" fill="none"/><path d="M656.25 799.8V821.3M673.75 799.8V821.3" stroke="#414141" stroke-width="0.55" fill="none"/><path d="M658.25 799.8V821.3" stroke="#404040" stroke-width="0.55" fill="none"/><path d="M658.75 799.8V821.3" stroke="#303030" stroke-width="0.55" fill="none"/><path d="M660.25 799.8V821.3" stroke="#101010" stroke-width="0.55" fill="none"/><path d="M661.75 799.8V821.3" stroke="#424242" stroke-width="0.55" fill="none"/><path d="M670.75 799.8V821.3M672.75 799.8V821.3" stroke="#2b2b2b" stroke-width="0.55" fill="none"/><path d="M672.25 799.8V821.3M674.25 799.8V821.3" stroke="#333333" stroke-width="0.55" fill="none"/><path d="M675.75 799.8V821.3" stroke="#434343" stroke-width="0.55" fill="none"/><rect x="539.1" y="821.3" width="3.4" height="5.5" fill="#e83434"/><rect x="542.5" y="821.3" width="14.4" height="5.5" fill="#f54c4c"/><rect x="556.9" y="821.3" width="41.6" height="5.5" fill="#fbbde0"/><rect x="598.5" y="821.3" width="36.1" height="5.5" fill="#d4d4fa"/><rect x="634.6" y="821.3" width="8.1" height="5.5" fill="#c0c0f7"/><rect x="642.7" y="821.3" width="6.2" height="5.5" fill="#8c8cf3"/><rect x="648.9" y="821.3" width="21.9" height="5.5" fill="#6060ee"/><rect x="670.8" y="821.3" width="5.7" height="5.5" fill="#1a1ad0"/><path d="M539.3 841.1V836.8C542 838 548 840 558.4 841.1ZM598.1 841.1C630 842.5 660 844.5 672 848C675 851 676 860 676.4 869.1V841.1Z" fill="#bdbdbd"/><path d="M558.4 826.8V871" stroke="#666" stroke-width="0.4" stroke-dasharray="0.8 0.8"/><text x="537.7" y="831" font-size="4.6" text-anchor="end" fill="#333">1.0</text><text x="537.7" y="837" font-size="4.6" text-anchor="end" fill="#333">0.5</text><text x="537.7" y="842.7" font-size="4.6" text-anchor="end" fill="#333">0.0</text><text x="537.7" y="848.9" font-size="4.6" text-anchor="end" fill="#333">−0.5</text><text x="537.7" y="855.1" font-size="4.6" text-anchor="end" fill="#333">−1.0</text><text x="537.7" y="860.8" font-size="4.6" text-anchor="end" fill="#333">−1.5</text><text x="537.7" y="866.7" font-size="4.6" text-anchor="end" fill="#333">−2.0</text><text x="544.3" y="850.3" font-size="3" fill="#444">Zero cross at 2483</text><text x="540.3" y="830.4" font-size="3.3" fill="#ff4545">D3 (positively correlated)</text><text x="611.8" y="869.5" font-size="3.3" fill="#5050ff">D0 (negatively correlated)</text><text x="539.1" y="877.2" font-size="3.5" text-anchor="middle" fill="#333">0</text><text x="554.62" y="877.2" font-size="3.5" text-anchor="middle" fill="#333">2,000</text><text x="570.14" y="877.2" font-size="3.5" text-anchor="middle" fill="#333">4,000</text><text x="585.66" y="877.2" font-size="3.5" text-anchor="middle" fill="#333">6,000</text><text x="601.18" y="877.2" font-size="3.5" text-anchor="middle" fill="#333">8,000</text><text x="616.7" y="877.2" font-size="3.5" text-anchor="middle" fill="#333">10,000</text><text x="632.22" y="877.2" font-size="3.5" text-anchor="middle" fill="#333">12,000</text><text x="647.74" y="877.2" font-size="3.5" text-anchor="middle" fill="#333">14,000</text><text x="663.26" y="877.2" font-size="3.5" text-anchor="middle" fill="#333">16,000</text><text x="678.78" y="877.2" font-size="3.5" text-anchor="middle" fill="#333">18,000</text><text x="608.45" y="882.6" font-size="4.1" text-anchor="middle" fill="#222">Rank in Ordered Dataset</text><text transform="translate(522 766) rotate(-90)" text-anchor="middle" y="2.1" font-size="6" fill="#222">Enrichment score (ES)</text><text transform="translate(522 849.7) rotate(-90)" text-anchor="middle" y="2.1" font-size="6" fill="#222">Ranked list metric</text><rect x="541.6" y="885.7" width="118.6" height="7.5" fill="#fff" stroke="#444" stroke-width="0.5"/><path d="M543.5 889.5H548" stroke="#22e022" stroke-width="0.8"/><path d="M586.5 889.5H591.5" stroke="#111" stroke-width="0.6"/><path d="M610 889.5H615" stroke="#aaa" stroke-width="0.6"/><text x="548.8" y="890.7" font-size="3.8" fill="#333">Enrichment profile</text><text x="593" y="890.7" font-size="3.8" fill="#333">Hits</text><text x="616.8" y="890.7" font-size="3.8" fill="#333">Ranking metric scores</text>
</svg></body></html>
